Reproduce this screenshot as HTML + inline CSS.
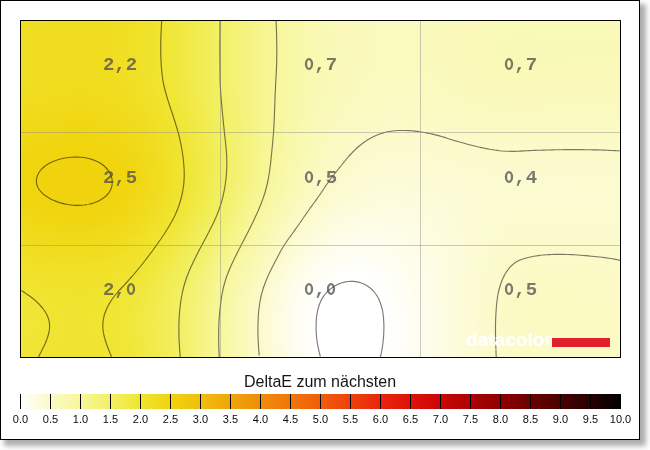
<!DOCTYPE html>
<html><head><meta charset="utf-8"><title>DeltaE</title>
<style>
html,body{margin:0;padding:0;background:#fff;}
body{width:650px;height:450px;overflow:hidden;position:relative;font-family:"Liberation Sans",sans-serif;}
.card{position:absolute;left:0;top:0;width:638px;height:438px;border:1px solid #000;background:#fff;box-shadow:5px 5px 5px 1px rgba(0,0,0,.32);}
.plot{position:absolute;left:20px;top:20px;width:599px;height:336px;border:1px solid #000;overflow:hidden;}
.heat{position:absolute;left:0;top:0;display:block;}
.gv{position:absolute;top:0;width:1px;height:336px;background:rgba(140,140,140,.45);}
.gh{position:absolute;left:0;height:1px;width:599px;background:rgba(140,140,140,.45);}
.n{position:absolute;width:11.4px;height:24px;line-height:24px;text-align:center;font-family:"Liberation Mono",monospace;font-weight:bold;font-size:19px;color:#505050;opacity:.76;}
.z{position:absolute;display:block;}
.nums{position:absolute;left:0;top:0;width:640px;height:360px;will-change:transform;}
.logo{will-change:transform;position:absolute;left:466px;top:329px;font-family:"Liberation Sans",sans-serif;font-weight:bold;font-size:18px;line-height:22px;transform:scaleX(1.06);transform-origin:0 0;color:#fff;text-shadow:0 0 2px rgba(255,255,255,.55);}
.ul{position:absolute;left:467px;top:349px;width:84px;height:1px;background:rgba(255,255,255,.45);}
.red{position:absolute;left:552px;top:338px;width:58px;height:9px;background:#e0202d;}
.title{will-change:transform;position:absolute;left:0;top:372px;width:640px;text-align:center;font-size:16px;line-height:20px;color:#161616;}
.bar{position:absolute;left:20px;top:394px;width:601px;height:15px;background:linear-gradient(to right,#ffffff 0.0%,#fbfac9 5.0%,#f7f79b 10.0%,#f2f064 15.0%,#f0e532 20.0%,#f0d40d 25.0%,#f0be0f 30.0%,#f0a50a 35.0%,#f08c0a 40.0%,#f0760a 45.0%,#f05d0a 50.0%,#ee410c 55.0%,#e8260c 60.0%,#de1208 65.0%,#c80805 70.0%,#ac0202 75.0%,#8e0000 80.0%,#6c0000 85.0%,#4a0000 90.0%,#260000 95.0%,#000000 100.0%);}
.bar i{position:absolute;top:0;width:1px;height:15px;background:#000;}
.lab{will-change:transform;position:absolute;left:20px;top:412px;width:601px;height:14px;}
.lab b{position:absolute;top:0;width:31px;text-align:center;font-weight:normal;font-size:11px;line-height:14px;color:#0c0c0c;}
</style></head><body>
<div class="card"></div>
<div class="plot"><svg class="heat" width="599" height="336" viewBox="0 0 599 336"><defs><linearGradient id="r0"><stop offset="0" stop-color="#f0de23"/><stop offset="0.025" stop-color="#f0dd21"/><stop offset="0.0501" stop-color="#f0dc1f"/><stop offset="0.0751" stop-color="#f0dc1e"/><stop offset="0.1002" stop-color="#f0dc1e"/><stop offset="0.1252" stop-color="#f0dc1e"/><stop offset="0.1503" stop-color="#f0dd20"/><stop offset="0.1753" stop-color="#f0de24"/><stop offset="0.2003" stop-color="#f0e129"/><stop offset="0.2254" stop-color="#f0e42f"/><stop offset="0.2504" stop-color="#f0e739"/><stop offset="0.2755" stop-color="#f1e946"/><stop offset="0.3005" stop-color="#f1ec53"/><stop offset="0.3255" stop-color="#f2ef61"/><stop offset="0.3506" stop-color="#f3f270"/><stop offset="0.3756" stop-color="#f4f37f"/><stop offset="0.4007" stop-color="#f6f58e"/><stop offset="0.4257" stop-color="#f7f79b"/><stop offset="0.4508" stop-color="#f8f8a5"/><stop offset="0.4758" stop-color="#f9f8ad"/><stop offset="0.5008" stop-color="#f9f9b4"/><stop offset="0.5259" stop-color="#faf9b8"/><stop offset="0.5509" stop-color="#faf9bb"/><stop offset="0.576" stop-color="#faf9bd"/><stop offset="0.601" stop-color="#faf9be"/><stop offset="0.626" stop-color="#faf9bf"/><stop offset="0.6511" stop-color="#faf9be"/><stop offset="0.6761" stop-color="#faf9be"/><stop offset="0.7012" stop-color="#faf9bd"/><stop offset="0.7262" stop-color="#faf9bb"/><stop offset="0.7513" stop-color="#faf9ba"/><stop offset="0.7763" stop-color="#faf9b9"/><stop offset="0.8013" stop-color="#faf9b8"/><stop offset="0.8264" stop-color="#faf9b8"/><stop offset="0.8514" stop-color="#faf9b8"/><stop offset="0.8765" stop-color="#faf9b8"/><stop offset="0.9015" stop-color="#faf9b8"/><stop offset="0.9265" stop-color="#faf9b8"/><stop offset="0.9516" stop-color="#faf9b8"/><stop offset="0.9766" stop-color="#faf9b8"/><stop offset="1" stop-color="#faf9b8"/></linearGradient><linearGradient id="r1"><stop offset="0" stop-color="#f0de23"/><stop offset="0.025" stop-color="#f0dd21"/><stop offset="0.0501" stop-color="#f0dc1f"/><stop offset="0.0751" stop-color="#f0dc1e"/><stop offset="0.1002" stop-color="#f0dc1e"/><stop offset="0.1252" stop-color="#f0dc1e"/><stop offset="0.1503" stop-color="#f0dd20"/><stop offset="0.1753" stop-color="#f0de24"/><stop offset="0.2003" stop-color="#f0e129"/><stop offset="0.2254" stop-color="#f0e42f"/><stop offset="0.2504" stop-color="#f0e739"/><stop offset="0.2755" stop-color="#f1e946"/><stop offset="0.3005" stop-color="#f1ec53"/><stop offset="0.3255" stop-color="#f2ef61"/><stop offset="0.3506" stop-color="#f3f270"/><stop offset="0.3756" stop-color="#f4f37f"/><stop offset="0.4007" stop-color="#f6f58e"/><stop offset="0.4257" stop-color="#f7f79b"/><stop offset="0.4508" stop-color="#f8f8a5"/><stop offset="0.4758" stop-color="#f9f8ad"/><stop offset="0.5008" stop-color="#f9f9b4"/><stop offset="0.5259" stop-color="#faf9b8"/><stop offset="0.5509" stop-color="#faf9bb"/><stop offset="0.576" stop-color="#faf9bd"/><stop offset="0.601" stop-color="#faf9be"/><stop offset="0.626" stop-color="#faf9bf"/><stop offset="0.6511" stop-color="#faf9be"/><stop offset="0.6761" stop-color="#faf9be"/><stop offset="0.7012" stop-color="#faf9bc"/><stop offset="0.7262" stop-color="#faf9bb"/><stop offset="0.7513" stop-color="#faf9ba"/><stop offset="0.7763" stop-color="#faf9b9"/><stop offset="0.8013" stop-color="#faf9b8"/><stop offset="0.8264" stop-color="#f9f9b8"/><stop offset="0.8514" stop-color="#faf9b8"/><stop offset="0.8765" stop-color="#faf9b8"/><stop offset="0.9015" stop-color="#faf9b8"/><stop offset="0.9265" stop-color="#faf9b8"/><stop offset="0.9516" stop-color="#faf9b8"/><stop offset="0.9766" stop-color="#faf9b8"/><stop offset="1" stop-color="#faf9b8"/></linearGradient><linearGradient id="r2"><stop offset="0" stop-color="#f0de23"/><stop offset="0.025" stop-color="#f0dd21"/><stop offset="0.0501" stop-color="#f0dc1f"/><stop offset="0.0751" stop-color="#f0dc1e"/><stop offset="0.1002" stop-color="#f0dc1e"/><stop offset="0.1252" stop-color="#f0dc1f"/><stop offset="0.1503" stop-color="#f0dd21"/><stop offset="0.1753" stop-color="#f0de24"/><stop offset="0.2003" stop-color="#f0e129"/><stop offset="0.2254" stop-color="#f0e430"/><stop offset="0.2504" stop-color="#f0e73a"/><stop offset="0.2755" stop-color="#f1e946"/><stop offset="0.3005" stop-color="#f1ec53"/><stop offset="0.3255" stop-color="#f2ef61"/><stop offset="0.3506" stop-color="#f3f270"/><stop offset="0.3756" stop-color="#f4f37f"/><stop offset="0.4007" stop-color="#f6f58e"/><stop offset="0.4257" stop-color="#f7f79b"/><stop offset="0.4508" stop-color="#f8f8a5"/><stop offset="0.4758" stop-color="#f9f8ad"/><stop offset="0.5008" stop-color="#f9f9b3"/><stop offset="0.5259" stop-color="#faf9b8"/><stop offset="0.5509" stop-color="#faf9bb"/><stop offset="0.576" stop-color="#faf9bd"/><stop offset="0.601" stop-color="#faf9be"/><stop offset="0.626" stop-color="#faf9bf"/><stop offset="0.6511" stop-color="#faf9be"/><stop offset="0.6761" stop-color="#faf9bd"/><stop offset="0.7012" stop-color="#faf9bc"/><stop offset="0.7262" stop-color="#faf9bb"/><stop offset="0.7513" stop-color="#faf9ba"/><stop offset="0.7763" stop-color="#faf9b9"/><stop offset="0.8013" stop-color="#faf9b8"/><stop offset="0.8264" stop-color="#f9f9b8"/><stop offset="0.8514" stop-color="#f9f9b8"/><stop offset="0.8765" stop-color="#faf9b8"/><stop offset="0.9015" stop-color="#faf9b8"/><stop offset="0.9265" stop-color="#faf9b8"/><stop offset="0.9516" stop-color="#faf9b8"/><stop offset="0.9766" stop-color="#faf9b8"/><stop offset="1" stop-color="#faf9b8"/></linearGradient><linearGradient id="r3"><stop offset="0" stop-color="#f0de23"/><stop offset="0.025" stop-color="#f0dd21"/><stop offset="0.0501" stop-color="#f0dc1f"/><stop offset="0.0751" stop-color="#f0dc1e"/><stop offset="0.1002" stop-color="#f0dc1e"/><stop offset="0.1252" stop-color="#f0dc1f"/><stop offset="0.1503" stop-color="#f0dd21"/><stop offset="0.1753" stop-color="#f0df24"/><stop offset="0.2003" stop-color="#f0e129"/><stop offset="0.2254" stop-color="#f0e430"/><stop offset="0.2504" stop-color="#f0e73a"/><stop offset="0.2755" stop-color="#f1e946"/><stop offset="0.3005" stop-color="#f1ec53"/><stop offset="0.3255" stop-color="#f2ef61"/><stop offset="0.3506" stop-color="#f3f270"/><stop offset="0.3756" stop-color="#f4f37f"/><stop offset="0.4007" stop-color="#f6f58e"/><stop offset="0.4257" stop-color="#f7f79b"/><stop offset="0.4508" stop-color="#f8f8a5"/><stop offset="0.4758" stop-color="#f9f8ad"/><stop offset="0.5008" stop-color="#f9f9b3"/><stop offset="0.5259" stop-color="#faf9b8"/><stop offset="0.5509" stop-color="#faf9bb"/><stop offset="0.576" stop-color="#faf9bd"/><stop offset="0.601" stop-color="#faf9be"/><stop offset="0.626" stop-color="#faf9be"/><stop offset="0.6511" stop-color="#faf9be"/><stop offset="0.6761" stop-color="#faf9bd"/><stop offset="0.7012" stop-color="#faf9bc"/><stop offset="0.7262" stop-color="#faf9bb"/><stop offset="0.7513" stop-color="#faf9ba"/><stop offset="0.7763" stop-color="#faf9b9"/><stop offset="0.8013" stop-color="#f9f9b8"/><stop offset="0.8264" stop-color="#f9f9b7"/><stop offset="0.8514" stop-color="#f9f9b8"/><stop offset="0.8765" stop-color="#f9f9b8"/><stop offset="0.9015" stop-color="#f9f9b8"/><stop offset="0.9265" stop-color="#f9f9b8"/><stop offset="0.9516" stop-color="#f9f9b8"/><stop offset="0.9766" stop-color="#f9f9b8"/><stop offset="1" stop-color="#f9f9b8"/></linearGradient><linearGradient id="r4"><stop offset="0" stop-color="#f0de23"/><stop offset="0.025" stop-color="#f0dd21"/><stop offset="0.0501" stop-color="#f0dc1f"/><stop offset="0.0751" stop-color="#f0dc1e"/><stop offset="0.1002" stop-color="#f0dc1e"/><stop offset="0.1252" stop-color="#f0dc1f"/><stop offset="0.1503" stop-color="#f0dd21"/><stop offset="0.1753" stop-color="#f0df24"/><stop offset="0.2003" stop-color="#f0e129"/><stop offset="0.2254" stop-color="#f0e430"/><stop offset="0.2504" stop-color="#f0e73a"/><stop offset="0.2755" stop-color="#f1e946"/><stop offset="0.3005" stop-color="#f1ec53"/><stop offset="0.3255" stop-color="#f2ef61"/><stop offset="0.3506" stop-color="#f3f270"/><stop offset="0.3756" stop-color="#f4f37f"/><stop offset="0.4007" stop-color="#f6f58e"/><stop offset="0.4257" stop-color="#f7f79b"/><stop offset="0.4508" stop-color="#f8f8a5"/><stop offset="0.4758" stop-color="#f9f8ad"/><stop offset="0.5008" stop-color="#f9f9b3"/><stop offset="0.5259" stop-color="#f9f9b8"/><stop offset="0.5509" stop-color="#faf9bb"/><stop offset="0.576" stop-color="#faf9bd"/><stop offset="0.601" stop-color="#faf9be"/><stop offset="0.626" stop-color="#faf9be"/><stop offset="0.6511" stop-color="#faf9be"/><stop offset="0.6761" stop-color="#faf9bd"/><stop offset="0.7012" stop-color="#faf9bc"/><stop offset="0.7262" stop-color="#faf9bb"/><stop offset="0.7513" stop-color="#faf9ba"/><stop offset="0.7763" stop-color="#faf9b8"/><stop offset="0.8013" stop-color="#f9f9b8"/><stop offset="0.8264" stop-color="#f9f9b7"/><stop offset="0.8514" stop-color="#f9f9b7"/><stop offset="0.8765" stop-color="#f9f9b8"/><stop offset="0.9015" stop-color="#f9f9b8"/><stop offset="0.9265" stop-color="#f9f9b8"/><stop offset="0.9516" stop-color="#f9f9b8"/><stop offset="0.9766" stop-color="#f9f9b8"/><stop offset="1" stop-color="#f9f9b8"/></linearGradient><linearGradient id="r5"><stop offset="0" stop-color="#f0de23"/><stop offset="0.025" stop-color="#f0dd21"/><stop offset="0.0501" stop-color="#f0dd20"/><stop offset="0.0751" stop-color="#f0dc1e"/><stop offset="0.1002" stop-color="#f0dc1e"/><stop offset="0.1252" stop-color="#f0dc1f"/><stop offset="0.1503" stop-color="#f0dd21"/><stop offset="0.1753" stop-color="#f0df24"/><stop offset="0.2003" stop-color="#f0e129"/><stop offset="0.2254" stop-color="#f0e430"/><stop offset="0.2504" stop-color="#f0e73a"/><stop offset="0.2755" stop-color="#f1e946"/><stop offset="0.3005" stop-color="#f1ec53"/><stop offset="0.3255" stop-color="#f2ef61"/><stop offset="0.3506" stop-color="#f3f270"/><stop offset="0.3756" stop-color="#f4f37f"/><stop offset="0.4007" stop-color="#f6f58e"/><stop offset="0.4257" stop-color="#f7f79b"/><stop offset="0.4508" stop-color="#f8f8a5"/><stop offset="0.4758" stop-color="#f9f8ad"/><stop offset="0.5008" stop-color="#f9f9b3"/><stop offset="0.5259" stop-color="#f9f9b8"/><stop offset="0.5509" stop-color="#faf9bb"/><stop offset="0.576" stop-color="#faf9bd"/><stop offset="0.601" stop-color="#faf9be"/><stop offset="0.626" stop-color="#faf9be"/><stop offset="0.6511" stop-color="#faf9be"/><stop offset="0.6761" stop-color="#faf9bd"/><stop offset="0.7012" stop-color="#faf9bc"/><stop offset="0.7262" stop-color="#faf9bb"/><stop offset="0.7513" stop-color="#faf9b9"/><stop offset="0.7763" stop-color="#faf9b8"/><stop offset="0.8013" stop-color="#f9f9b8"/><stop offset="0.8264" stop-color="#f9f9b7"/><stop offset="0.8514" stop-color="#f9f9b7"/><stop offset="0.8765" stop-color="#f9f9b7"/><stop offset="0.9015" stop-color="#f9f9b8"/><stop offset="0.9265" stop-color="#f9f9b8"/><stop offset="0.9516" stop-color="#f9f9b8"/><stop offset="0.9766" stop-color="#f9f9b8"/><stop offset="1" stop-color="#f9f9b7"/></linearGradient><linearGradient id="r6"><stop offset="0" stop-color="#f0de23"/><stop offset="0.025" stop-color="#f0dd21"/><stop offset="0.0501" stop-color="#f0dd20"/><stop offset="0.0751" stop-color="#f0dc1f"/><stop offset="0.1002" stop-color="#f0dc1e"/><stop offset="0.1252" stop-color="#f0dc1f"/><stop offset="0.1503" stop-color="#f0dd21"/><stop offset="0.1753" stop-color="#f0df24"/><stop offset="0.2003" stop-color="#f0e129"/><stop offset="0.2254" stop-color="#f0e430"/><stop offset="0.2504" stop-color="#f0e73a"/><stop offset="0.2755" stop-color="#f1e946"/><stop offset="0.3005" stop-color="#f1ec53"/><stop offset="0.3255" stop-color="#f2ef61"/><stop offset="0.3506" stop-color="#f3f270"/><stop offset="0.3756" stop-color="#f4f37f"/><stop offset="0.4007" stop-color="#f6f58d"/><stop offset="0.4257" stop-color="#f7f79b"/><stop offset="0.4508" stop-color="#f8f8a5"/><stop offset="0.4758" stop-color="#f9f8ad"/><stop offset="0.5008" stop-color="#f9f9b3"/><stop offset="0.5259" stop-color="#f9f9b8"/><stop offset="0.5509" stop-color="#faf9bb"/><stop offset="0.576" stop-color="#faf9bd"/><stop offset="0.601" stop-color="#faf9be"/><stop offset="0.626" stop-color="#faf9be"/><stop offset="0.6511" stop-color="#faf9be"/><stop offset="0.6761" stop-color="#faf9bd"/><stop offset="0.7012" stop-color="#faf9bc"/><stop offset="0.7262" stop-color="#faf9bb"/><stop offset="0.7513" stop-color="#faf9b9"/><stop offset="0.7763" stop-color="#faf9b8"/><stop offset="0.8013" stop-color="#f9f9b7"/><stop offset="0.8264" stop-color="#f9f9b7"/><stop offset="0.8514" stop-color="#f9f9b7"/><stop offset="0.8765" stop-color="#f9f9b7"/><stop offset="0.9015" stop-color="#f9f9b7"/><stop offset="0.9265" stop-color="#f9f9b7"/><stop offset="0.9516" stop-color="#f9f9b7"/><stop offset="0.9766" stop-color="#f9f9b7"/><stop offset="1" stop-color="#f9f9b7"/></linearGradient><linearGradient id="r7"><stop offset="0" stop-color="#f0de23"/><stop offset="0.025" stop-color="#f0dd21"/><stop offset="0.0501" stop-color="#f0dd20"/><stop offset="0.0751" stop-color="#f0dc1f"/><stop offset="0.1002" stop-color="#f0dc1e"/><stop offset="0.1252" stop-color="#f0dc1f"/><stop offset="0.1503" stop-color="#f0dd21"/><stop offset="0.1753" stop-color="#f0df24"/><stop offset="0.2003" stop-color="#f0e129"/><stop offset="0.2254" stop-color="#f0e430"/><stop offset="0.2504" stop-color="#f0e73a"/><stop offset="0.2755" stop-color="#f1e946"/><stop offset="0.3005" stop-color="#f1ec53"/><stop offset="0.3255" stop-color="#f2ef61"/><stop offset="0.3506" stop-color="#f3f270"/><stop offset="0.3756" stop-color="#f4f37f"/><stop offset="0.4007" stop-color="#f6f58d"/><stop offset="0.4257" stop-color="#f7f79b"/><stop offset="0.4508" stop-color="#f8f8a5"/><stop offset="0.4758" stop-color="#f9f8ad"/><stop offset="0.5008" stop-color="#f9f9b3"/><stop offset="0.5259" stop-color="#f9f9b8"/><stop offset="0.5509" stop-color="#faf9bb"/><stop offset="0.576" stop-color="#faf9bd"/><stop offset="0.601" stop-color="#faf9be"/><stop offset="0.626" stop-color="#faf9be"/><stop offset="0.6511" stop-color="#faf9be"/><stop offset="0.6761" stop-color="#faf9bd"/><stop offset="0.7012" stop-color="#faf9bc"/><stop offset="0.7262" stop-color="#faf9bb"/><stop offset="0.7513" stop-color="#faf9b9"/><stop offset="0.7763" stop-color="#faf9b8"/><stop offset="0.8013" stop-color="#f9f9b7"/><stop offset="0.8264" stop-color="#f9f9b7"/><stop offset="0.8514" stop-color="#f9f9b7"/><stop offset="0.8765" stop-color="#f9f9b7"/><stop offset="0.9015" stop-color="#f9f9b7"/><stop offset="0.9265" stop-color="#f9f9b7"/><stop offset="0.9516" stop-color="#f9f9b7"/><stop offset="0.9766" stop-color="#f9f9b7"/><stop offset="1" stop-color="#f9f9b7"/></linearGradient><linearGradient id="r8"><stop offset="0" stop-color="#f0de24"/><stop offset="0.025" stop-color="#f0dd21"/><stop offset="0.0501" stop-color="#f0dd20"/><stop offset="0.0751" stop-color="#f0dc1f"/><stop offset="0.1002" stop-color="#f0dc1e"/><stop offset="0.1252" stop-color="#f0dc1f"/><stop offset="0.1503" stop-color="#f0dd21"/><stop offset="0.1753" stop-color="#f0df24"/><stop offset="0.2003" stop-color="#f0e129"/><stop offset="0.2254" stop-color="#f0e430"/><stop offset="0.2504" stop-color="#f0e73a"/><stop offset="0.2755" stop-color="#f1e946"/><stop offset="0.3005" stop-color="#f1ec53"/><stop offset="0.3255" stop-color="#f2ef61"/><stop offset="0.3506" stop-color="#f3f270"/><stop offset="0.3756" stop-color="#f4f37f"/><stop offset="0.4007" stop-color="#f6f58d"/><stop offset="0.4257" stop-color="#f7f79b"/><stop offset="0.4508" stop-color="#f8f8a5"/><stop offset="0.4758" stop-color="#f9f8ad"/><stop offset="0.5008" stop-color="#f9f9b3"/><stop offset="0.5259" stop-color="#f9f9b8"/><stop offset="0.5509" stop-color="#faf9bb"/><stop offset="0.576" stop-color="#faf9bd"/><stop offset="0.601" stop-color="#faf9be"/><stop offset="0.626" stop-color="#faf9be"/><stop offset="0.6511" stop-color="#faf9be"/><stop offset="0.6761" stop-color="#faf9bd"/><stop offset="0.7012" stop-color="#faf9bc"/><stop offset="0.7262" stop-color="#faf9bb"/><stop offset="0.7513" stop-color="#faf9b9"/><stop offset="0.7763" stop-color="#faf9b8"/><stop offset="0.8013" stop-color="#f9f9b7"/><stop offset="0.8264" stop-color="#f9f9b7"/><stop offset="0.8514" stop-color="#f9f9b7"/><stop offset="0.8765" stop-color="#f9f9b7"/><stop offset="0.9015" stop-color="#f9f9b7"/><stop offset="0.9265" stop-color="#f9f9b7"/><stop offset="0.9516" stop-color="#f9f9b7"/><stop offset="0.9766" stop-color="#f9f9b7"/><stop offset="1" stop-color="#f9f9b7"/></linearGradient><linearGradient id="r9"><stop offset="0" stop-color="#f0de24"/><stop offset="0.025" stop-color="#f0dd21"/><stop offset="0.0501" stop-color="#f0dd20"/><stop offset="0.0751" stop-color="#f0dc1f"/><stop offset="0.1002" stop-color="#f0dc1e"/><stop offset="0.1252" stop-color="#f0dc1f"/><stop offset="0.1503" stop-color="#f0dd21"/><stop offset="0.1753" stop-color="#f0df24"/><stop offset="0.2003" stop-color="#f0e129"/><stop offset="0.2254" stop-color="#f0e430"/><stop offset="0.2504" stop-color="#f0e73a"/><stop offset="0.2755" stop-color="#f1e946"/><stop offset="0.3005" stop-color="#f1ec53"/><stop offset="0.3255" stop-color="#f2ef61"/><stop offset="0.3506" stop-color="#f3f270"/><stop offset="0.3756" stop-color="#f4f37f"/><stop offset="0.4007" stop-color="#f6f58d"/><stop offset="0.4257" stop-color="#f7f79b"/><stop offset="0.4508" stop-color="#f8f8a5"/><stop offset="0.4758" stop-color="#f9f8ad"/><stop offset="0.5008" stop-color="#f9f9b3"/><stop offset="0.5259" stop-color="#f9f9b8"/><stop offset="0.5509" stop-color="#faf9bb"/><stop offset="0.576" stop-color="#faf9bd"/><stop offset="0.601" stop-color="#faf9be"/><stop offset="0.626" stop-color="#faf9be"/><stop offset="0.6511" stop-color="#faf9be"/><stop offset="0.6761" stop-color="#faf9bd"/><stop offset="0.7012" stop-color="#faf9bc"/><stop offset="0.7262" stop-color="#faf9bb"/><stop offset="0.7513" stop-color="#faf9b9"/><stop offset="0.7763" stop-color="#faf9b8"/><stop offset="0.8013" stop-color="#f9f9b7"/><stop offset="0.8264" stop-color="#f9f9b7"/><stop offset="0.8514" stop-color="#f9f9b7"/><stop offset="0.8765" stop-color="#f9f9b7"/><stop offset="0.9015" stop-color="#f9f9b7"/><stop offset="0.9265" stop-color="#f9f9b7"/><stop offset="0.9516" stop-color="#f9f9b7"/><stop offset="0.9766" stop-color="#f9f9b7"/><stop offset="1" stop-color="#f9f9b7"/></linearGradient><linearGradient id="r10"><stop offset="0" stop-color="#f0de24"/><stop offset="0.025" stop-color="#f0dd21"/><stop offset="0.0501" stop-color="#f0dd20"/><stop offset="0.0751" stop-color="#f0dc1f"/><stop offset="0.1002" stop-color="#f0dc1e"/><stop offset="0.1252" stop-color="#f0dc1f"/><stop offset="0.1503" stop-color="#f0dd21"/><stop offset="0.1753" stop-color="#f0df24"/><stop offset="0.2003" stop-color="#f0e129"/><stop offset="0.2254" stop-color="#f0e430"/><stop offset="0.2504" stop-color="#f0e73a"/><stop offset="0.2755" stop-color="#f1e946"/><stop offset="0.3005" stop-color="#f1ec53"/><stop offset="0.3255" stop-color="#f2ef61"/><stop offset="0.3506" stop-color="#f3f270"/><stop offset="0.3756" stop-color="#f4f37f"/><stop offset="0.4007" stop-color="#f6f58d"/><stop offset="0.4257" stop-color="#f7f79b"/><stop offset="0.4508" stop-color="#f8f8a5"/><stop offset="0.4758" stop-color="#f9f8ad"/><stop offset="0.5008" stop-color="#f9f9b3"/><stop offset="0.5259" stop-color="#f9f9b8"/><stop offset="0.5509" stop-color="#faf9bb"/><stop offset="0.576" stop-color="#faf9bd"/><stop offset="0.601" stop-color="#faf9be"/><stop offset="0.626" stop-color="#faf9be"/><stop offset="0.6511" stop-color="#faf9be"/><stop offset="0.6761" stop-color="#faf9bd"/><stop offset="0.7012" stop-color="#faf9bc"/><stop offset="0.7262" stop-color="#faf9bb"/><stop offset="0.7513" stop-color="#faf9b9"/><stop offset="0.7763" stop-color="#faf9b8"/><stop offset="0.8013" stop-color="#f9f9b7"/><stop offset="0.8264" stop-color="#f9f9b7"/><stop offset="0.8514" stop-color="#f9f9b7"/><stop offset="0.8765" stop-color="#f9f9b7"/><stop offset="0.9015" stop-color="#f9f9b7"/><stop offset="0.9265" stop-color="#f9f9b7"/><stop offset="0.9516" stop-color="#f9f9b7"/><stop offset="0.9766" stop-color="#f9f9b7"/><stop offset="1" stop-color="#f9f9b7"/></linearGradient><linearGradient id="r11"><stop offset="0" stop-color="#f0de24"/><stop offset="0.025" stop-color="#f0dd21"/><stop offset="0.0501" stop-color="#f0dd20"/><stop offset="0.0751" stop-color="#f0dc1f"/><stop offset="0.1002" stop-color="#f0dc1e"/><stop offset="0.1252" stop-color="#f0dc1f"/><stop offset="0.1503" stop-color="#f0dd21"/><stop offset="0.1753" stop-color="#f0df24"/><stop offset="0.2003" stop-color="#f0e129"/><stop offset="0.2254" stop-color="#f0e430"/><stop offset="0.2504" stop-color="#f0e73a"/><stop offset="0.2755" stop-color="#f1e946"/><stop offset="0.3005" stop-color="#f1ec53"/><stop offset="0.3255" stop-color="#f2ef61"/><stop offset="0.3506" stop-color="#f3f270"/><stop offset="0.3756" stop-color="#f4f37f"/><stop offset="0.4007" stop-color="#f6f58d"/><stop offset="0.4257" stop-color="#f7f79b"/><stop offset="0.4508" stop-color="#f8f8a5"/><stop offset="0.4758" stop-color="#f9f8ad"/><stop offset="0.5008" stop-color="#f9f9b3"/><stop offset="0.5259" stop-color="#f9f9b8"/><stop offset="0.5509" stop-color="#faf9bb"/><stop offset="0.576" stop-color="#faf9bd"/><stop offset="0.601" stop-color="#faf9be"/><stop offset="0.626" stop-color="#faf9be"/><stop offset="0.6511" stop-color="#faf9be"/><stop offset="0.6761" stop-color="#faf9bd"/><stop offset="0.7012" stop-color="#faf9bc"/><stop offset="0.7262" stop-color="#faf9bb"/><stop offset="0.7513" stop-color="#faf9b9"/><stop offset="0.7763" stop-color="#faf9b8"/><stop offset="0.8013" stop-color="#f9f9b7"/><stop offset="0.8264" stop-color="#f9f9b7"/><stop offset="0.8514" stop-color="#f9f9b7"/><stop offset="0.8765" stop-color="#f9f9b7"/><stop offset="0.9015" stop-color="#f9f9b7"/><stop offset="0.9265" stop-color="#f9f9b7"/><stop offset="0.9516" stop-color="#f9f9b7"/><stop offset="0.9766" stop-color="#f9f9b7"/><stop offset="1" stop-color="#f9f9b7"/></linearGradient><linearGradient id="r12"><stop offset="0" stop-color="#f0de23"/><stop offset="0.025" stop-color="#f0dd21"/><stop offset="0.0501" stop-color="#f0dd20"/><stop offset="0.0751" stop-color="#f0dc1f"/><stop offset="0.1002" stop-color="#f0dc1e"/><stop offset="0.1252" stop-color="#f0dc1f"/><stop offset="0.1503" stop-color="#f0dd21"/><stop offset="0.1753" stop-color="#f0df24"/><stop offset="0.2003" stop-color="#f0e129"/><stop offset="0.2254" stop-color="#f0e430"/><stop offset="0.2504" stop-color="#f0e73a"/><stop offset="0.2755" stop-color="#f1e946"/><stop offset="0.3005" stop-color="#f1ec53"/><stop offset="0.3255" stop-color="#f2ef61"/><stop offset="0.3506" stop-color="#f3f270"/><stop offset="0.3756" stop-color="#f4f37f"/><stop offset="0.4007" stop-color="#f6f58d"/><stop offset="0.4257" stop-color="#f7f79b"/><stop offset="0.4508" stop-color="#f8f8a5"/><stop offset="0.4758" stop-color="#f9f8ad"/><stop offset="0.5008" stop-color="#f9f9b3"/><stop offset="0.5259" stop-color="#f9f9b8"/><stop offset="0.5509" stop-color="#faf9bb"/><stop offset="0.576" stop-color="#faf9bd"/><stop offset="0.601" stop-color="#faf9be"/><stop offset="0.626" stop-color="#faf9be"/><stop offset="0.6511" stop-color="#faf9be"/><stop offset="0.6761" stop-color="#faf9bd"/><stop offset="0.7012" stop-color="#faf9bc"/><stop offset="0.7262" stop-color="#faf9bb"/><stop offset="0.7513" stop-color="#faf9b9"/><stop offset="0.7763" stop-color="#faf9b8"/><stop offset="0.8013" stop-color="#f9f9b7"/><stop offset="0.8264" stop-color="#f9f9b7"/><stop offset="0.8514" stop-color="#f9f9b7"/><stop offset="0.8765" stop-color="#f9f9b7"/><stop offset="0.9015" stop-color="#f9f9b7"/><stop offset="0.9265" stop-color="#f9f9b7"/><stop offset="0.9516" stop-color="#f9f9b7"/><stop offset="0.9766" stop-color="#f9f9b7"/><stop offset="1" stop-color="#f9f9b7"/></linearGradient><linearGradient id="r13"><stop offset="0" stop-color="#f0de23"/><stop offset="0.025" stop-color="#f0dd21"/><stop offset="0.0501" stop-color="#f0dd20"/><stop offset="0.0751" stop-color="#f0dc1f"/><stop offset="0.1002" stop-color="#f0dc1e"/><stop offset="0.1252" stop-color="#f0dc1f"/><stop offset="0.1503" stop-color="#f0dd21"/><stop offset="0.1753" stop-color="#f0df24"/><stop offset="0.2003" stop-color="#f0e129"/><stop offset="0.2254" stop-color="#f0e430"/><stop offset="0.2504" stop-color="#f0e73a"/><stop offset="0.2755" stop-color="#f1e946"/><stop offset="0.3005" stop-color="#f1ec53"/><stop offset="0.3255" stop-color="#f2ef61"/><stop offset="0.3506" stop-color="#f3f270"/><stop offset="0.3756" stop-color="#f4f37f"/><stop offset="0.4007" stop-color="#f6f58e"/><stop offset="0.4257" stop-color="#f7f79b"/><stop offset="0.4508" stop-color="#f8f8a5"/><stop offset="0.4758" stop-color="#f9f8ad"/><stop offset="0.5008" stop-color="#f9f9b3"/><stop offset="0.5259" stop-color="#f9f9b8"/><stop offset="0.5509" stop-color="#faf9bb"/><stop offset="0.576" stop-color="#faf9bd"/><stop offset="0.601" stop-color="#faf9be"/><stop offset="0.626" stop-color="#faf9be"/><stop offset="0.6511" stop-color="#faf9be"/><stop offset="0.6761" stop-color="#faf9bd"/><stop offset="0.7012" stop-color="#faf9bc"/><stop offset="0.7262" stop-color="#faf9bb"/><stop offset="0.7513" stop-color="#faf9b9"/><stop offset="0.7763" stop-color="#faf9b8"/><stop offset="0.8013" stop-color="#f9f9b8"/><stop offset="0.8264" stop-color="#f9f9b7"/><stop offset="0.8514" stop-color="#f9f9b7"/><stop offset="0.8765" stop-color="#f9f9b7"/><stop offset="0.9015" stop-color="#f9f9b7"/><stop offset="0.9265" stop-color="#f9f9b8"/><stop offset="0.9516" stop-color="#f9f9b8"/><stop offset="0.9766" stop-color="#f9f9b8"/><stop offset="1" stop-color="#f9f9b8"/></linearGradient><linearGradient id="r14"><stop offset="0" stop-color="#f0de23"/><stop offset="0.025" stop-color="#f0dd21"/><stop offset="0.0501" stop-color="#f0dd20"/><stop offset="0.0751" stop-color="#f0dc1f"/><stop offset="0.1002" stop-color="#f0dc1e"/><stop offset="0.1252" stop-color="#f0dc1f"/><stop offset="0.1503" stop-color="#f0dd21"/><stop offset="0.1753" stop-color="#f0df24"/><stop offset="0.2003" stop-color="#f0e129"/><stop offset="0.2254" stop-color="#f0e430"/><stop offset="0.2504" stop-color="#f0e73a"/><stop offset="0.2755" stop-color="#f1e946"/><stop offset="0.3005" stop-color="#f1ec53"/><stop offset="0.3255" stop-color="#f2ef61"/><stop offset="0.3506" stop-color="#f3f270"/><stop offset="0.3756" stop-color="#f4f37f"/><stop offset="0.4007" stop-color="#f6f58e"/><stop offset="0.4257" stop-color="#f7f79b"/><stop offset="0.4508" stop-color="#f8f8a5"/><stop offset="0.4758" stop-color="#f9f8ad"/><stop offset="0.5008" stop-color="#f9f9b3"/><stop offset="0.5259" stop-color="#faf9b8"/><stop offset="0.5509" stop-color="#faf9bb"/><stop offset="0.576" stop-color="#faf9bd"/><stop offset="0.601" stop-color="#faf9be"/><stop offset="0.626" stop-color="#faf9be"/><stop offset="0.6511" stop-color="#faf9be"/><stop offset="0.6761" stop-color="#faf9bd"/><stop offset="0.7012" stop-color="#faf9bc"/><stop offset="0.7262" stop-color="#faf9bb"/><stop offset="0.7513" stop-color="#faf9ba"/><stop offset="0.7763" stop-color="#faf9b8"/><stop offset="0.8013" stop-color="#f9f9b8"/><stop offset="0.8264" stop-color="#f9f9b7"/><stop offset="0.8514" stop-color="#f9f9b7"/><stop offset="0.8765" stop-color="#f9f9b8"/><stop offset="0.9015" stop-color="#f9f9b8"/><stop offset="0.9265" stop-color="#f9f9b8"/><stop offset="0.9516" stop-color="#f9f9b8"/><stop offset="0.9766" stop-color="#f9f9b8"/><stop offset="1" stop-color="#f9f9b8"/></linearGradient><linearGradient id="r15"><stop offset="0" stop-color="#f0de23"/><stop offset="0.025" stop-color="#f0dd21"/><stop offset="0.0501" stop-color="#f0dd20"/><stop offset="0.0751" stop-color="#f0dc1e"/><stop offset="0.1002" stop-color="#f0dc1e"/><stop offset="0.1252" stop-color="#f0dc1f"/><stop offset="0.1503" stop-color="#f0dd21"/><stop offset="0.1753" stop-color="#f0df24"/><stop offset="0.2003" stop-color="#f0e129"/><stop offset="0.2254" stop-color="#f0e430"/><stop offset="0.2504" stop-color="#f0e739"/><stop offset="0.2755" stop-color="#f1e946"/><stop offset="0.3005" stop-color="#f1ec53"/><stop offset="0.3255" stop-color="#f2ef61"/><stop offset="0.3506" stop-color="#f3f270"/><stop offset="0.3756" stop-color="#f4f37f"/><stop offset="0.4007" stop-color="#f6f58e"/><stop offset="0.4257" stop-color="#f7f79b"/><stop offset="0.4508" stop-color="#f8f8a5"/><stop offset="0.4758" stop-color="#f9f8ad"/><stop offset="0.5008" stop-color="#f9f9b3"/><stop offset="0.5259" stop-color="#faf9b8"/><stop offset="0.5509" stop-color="#faf9bb"/><stop offset="0.576" stop-color="#faf9bd"/><stop offset="0.601" stop-color="#faf9be"/><stop offset="0.626" stop-color="#faf9bf"/><stop offset="0.6511" stop-color="#faf9be"/><stop offset="0.6761" stop-color="#faf9bd"/><stop offset="0.7012" stop-color="#faf9bc"/><stop offset="0.7262" stop-color="#faf9bb"/><stop offset="0.7513" stop-color="#faf9ba"/><stop offset="0.7763" stop-color="#faf9b9"/><stop offset="0.8013" stop-color="#faf9b8"/><stop offset="0.8264" stop-color="#f9f9b7"/><stop offset="0.8514" stop-color="#f9f9b8"/><stop offset="0.8765" stop-color="#f9f9b8"/><stop offset="0.9015" stop-color="#faf9b8"/><stop offset="0.9265" stop-color="#faf9b8"/><stop offset="0.9516" stop-color="#faf9b8"/><stop offset="0.9766" stop-color="#faf9b8"/><stop offset="1" stop-color="#faf9b8"/></linearGradient><linearGradient id="r16"><stop offset="0" stop-color="#f0de23"/><stop offset="0.025" stop-color="#f0dd21"/><stop offset="0.0501" stop-color="#f0dc1f"/><stop offset="0.0751" stop-color="#f0dc1e"/><stop offset="0.1002" stop-color="#f0dc1e"/><stop offset="0.1252" stop-color="#f0dc1f"/><stop offset="0.1503" stop-color="#f0dd21"/><stop offset="0.1753" stop-color="#f0de24"/><stop offset="0.2003" stop-color="#f0e129"/><stop offset="0.2254" stop-color="#f0e42f"/><stop offset="0.2504" stop-color="#f0e739"/><stop offset="0.2755" stop-color="#f1e945"/><stop offset="0.3005" stop-color="#f1ec53"/><stop offset="0.3255" stop-color="#f2ef61"/><stop offset="0.3506" stop-color="#f3f270"/><stop offset="0.3756" stop-color="#f4f37f"/><stop offset="0.4007" stop-color="#f6f58e"/><stop offset="0.4257" stop-color="#f7f79b"/><stop offset="0.4508" stop-color="#f8f8a5"/><stop offset="0.4758" stop-color="#f9f8ad"/><stop offset="0.5008" stop-color="#f9f9b4"/><stop offset="0.5259" stop-color="#faf9b8"/><stop offset="0.5509" stop-color="#faf9bb"/><stop offset="0.576" stop-color="#faf9bd"/><stop offset="0.601" stop-color="#faf9bf"/><stop offset="0.626" stop-color="#faf9bf"/><stop offset="0.6511" stop-color="#faf9be"/><stop offset="0.6761" stop-color="#faf9be"/><stop offset="0.7012" stop-color="#faf9bd"/><stop offset="0.7262" stop-color="#faf9bb"/><stop offset="0.7513" stop-color="#faf9ba"/><stop offset="0.7763" stop-color="#faf9b9"/><stop offset="0.8013" stop-color="#faf9b8"/><stop offset="0.8264" stop-color="#f9f9b8"/><stop offset="0.8514" stop-color="#faf9b8"/><stop offset="0.8765" stop-color="#faf9b8"/><stop offset="0.9015" stop-color="#faf9b8"/><stop offset="0.9265" stop-color="#faf9b8"/><stop offset="0.9516" stop-color="#faf9b8"/><stop offset="0.9766" stop-color="#faf9b8"/><stop offset="1" stop-color="#faf9b8"/></linearGradient><linearGradient id="r17"><stop offset="0" stop-color="#f0de23"/><stop offset="0.025" stop-color="#f0dd21"/><stop offset="0.0501" stop-color="#f0dc1f"/><stop offset="0.0751" stop-color="#f0dc1e"/><stop offset="0.1002" stop-color="#f0dc1e"/><stop offset="0.1252" stop-color="#f0dc1f"/><stop offset="0.1503" stop-color="#f0dd20"/><stop offset="0.1753" stop-color="#f0de24"/><stop offset="0.2003" stop-color="#f0e129"/><stop offset="0.2254" stop-color="#f0e42f"/><stop offset="0.2504" stop-color="#f0e739"/><stop offset="0.2755" stop-color="#f1e945"/><stop offset="0.3005" stop-color="#f1ec53"/><stop offset="0.3255" stop-color="#f2ef61"/><stop offset="0.3506" stop-color="#f3f270"/><stop offset="0.3756" stop-color="#f4f37f"/><stop offset="0.4007" stop-color="#f6f58e"/><stop offset="0.4257" stop-color="#f7f79b"/><stop offset="0.4508" stop-color="#f8f8a5"/><stop offset="0.4758" stop-color="#f9f8ae"/><stop offset="0.5008" stop-color="#f9f9b4"/><stop offset="0.5259" stop-color="#faf9b8"/><stop offset="0.5509" stop-color="#faf9bc"/><stop offset="0.576" stop-color="#faf9be"/><stop offset="0.601" stop-color="#faf9bf"/><stop offset="0.626" stop-color="#faf9bf"/><stop offset="0.6511" stop-color="#faf9bf"/><stop offset="0.6761" stop-color="#faf9be"/><stop offset="0.7012" stop-color="#faf9bd"/><stop offset="0.7262" stop-color="#faf9bb"/><stop offset="0.7513" stop-color="#faf9ba"/><stop offset="0.7763" stop-color="#faf9b9"/><stop offset="0.8013" stop-color="#faf9b8"/><stop offset="0.8264" stop-color="#faf9b8"/><stop offset="0.8514" stop-color="#faf9b8"/><stop offset="0.8765" stop-color="#faf9b8"/><stop offset="0.9015" stop-color="#faf9b8"/><stop offset="0.9265" stop-color="#faf9b8"/><stop offset="0.9516" stop-color="#faf9b8"/><stop offset="0.9766" stop-color="#faf9b8"/><stop offset="1" stop-color="#faf9b8"/></linearGradient><linearGradient id="r18"><stop offset="0" stop-color="#f0de23"/><stop offset="0.025" stop-color="#f0dd21"/><stop offset="0.0501" stop-color="#f0dc1f"/><stop offset="0.0751" stop-color="#f0dc1e"/><stop offset="0.1002" stop-color="#f0dc1e"/><stop offset="0.1252" stop-color="#f0dc1e"/><stop offset="0.1503" stop-color="#f0dd20"/><stop offset="0.1753" stop-color="#f0de23"/><stop offset="0.2003" stop-color="#f0e128"/><stop offset="0.2254" stop-color="#f0e42f"/><stop offset="0.2504" stop-color="#f0e639"/><stop offset="0.2755" stop-color="#f1e945"/><stop offset="0.3005" stop-color="#f1ec53"/><stop offset="0.3255" stop-color="#f2ef61"/><stop offset="0.3506" stop-color="#f3f270"/><stop offset="0.3756" stop-color="#f4f37f"/><stop offset="0.4007" stop-color="#f6f58e"/><stop offset="0.4257" stop-color="#f7f79b"/><stop offset="0.4508" stop-color="#f8f8a5"/><stop offset="0.4758" stop-color="#f9f8ae"/><stop offset="0.5008" stop-color="#f9f9b4"/><stop offset="0.5259" stop-color="#faf9b9"/><stop offset="0.5509" stop-color="#faf9bc"/><stop offset="0.576" stop-color="#faf9be"/><stop offset="0.601" stop-color="#faf9bf"/><stop offset="0.626" stop-color="#faf9bf"/><stop offset="0.6511" stop-color="#faf9bf"/><stop offset="0.6761" stop-color="#faf9be"/><stop offset="0.7012" stop-color="#faf9bd"/><stop offset="0.7262" stop-color="#faf9bc"/><stop offset="0.7513" stop-color="#faf9ba"/><stop offset="0.7763" stop-color="#faf9b9"/><stop offset="0.8013" stop-color="#faf9b8"/><stop offset="0.8264" stop-color="#faf9b8"/><stop offset="0.8514" stop-color="#faf9b8"/><stop offset="0.8765" stop-color="#faf9b8"/><stop offset="0.9015" stop-color="#faf9b8"/><stop offset="0.9265" stop-color="#faf9b8"/><stop offset="0.9516" stop-color="#faf9b8"/><stop offset="0.9766" stop-color="#faf9b8"/><stop offset="1" stop-color="#faf9b8"/></linearGradient><linearGradient id="r19"><stop offset="0" stop-color="#f0de22"/><stop offset="0.025" stop-color="#f0dd20"/><stop offset="0.0501" stop-color="#f0dc1f"/><stop offset="0.0751" stop-color="#f0dc1e"/><stop offset="0.1002" stop-color="#f0dc1e"/><stop offset="0.1252" stop-color="#f0dc1e"/><stop offset="0.1503" stop-color="#f0dd20"/><stop offset="0.1753" stop-color="#f0de23"/><stop offset="0.2003" stop-color="#f0e028"/><stop offset="0.2254" stop-color="#f0e42f"/><stop offset="0.2504" stop-color="#f0e639"/><stop offset="0.2755" stop-color="#f1e945"/><stop offset="0.3005" stop-color="#f1ec52"/><stop offset="0.3255" stop-color="#f2ef61"/><stop offset="0.3506" stop-color="#f3f270"/><stop offset="0.3756" stop-color="#f4f37f"/><stop offset="0.4007" stop-color="#f6f58e"/><stop offset="0.4257" stop-color="#f7f79b"/><stop offset="0.4508" stop-color="#f8f8a6"/><stop offset="0.4758" stop-color="#f9f8ae"/><stop offset="0.5008" stop-color="#f9f9b4"/><stop offset="0.5259" stop-color="#faf9b9"/><stop offset="0.5509" stop-color="#faf9bc"/><stop offset="0.576" stop-color="#faf9be"/><stop offset="0.601" stop-color="#faf9bf"/><stop offset="0.626" stop-color="#faf9c0"/><stop offset="0.6511" stop-color="#faf9bf"/><stop offset="0.6761" stop-color="#faf9be"/><stop offset="0.7012" stop-color="#faf9bd"/><stop offset="0.7262" stop-color="#faf9bc"/><stop offset="0.7513" stop-color="#faf9bb"/><stop offset="0.7763" stop-color="#faf9ba"/><stop offset="0.8013" stop-color="#faf9b9"/><stop offset="0.8264" stop-color="#faf9b8"/><stop offset="0.8514" stop-color="#faf9b9"/><stop offset="0.8765" stop-color="#faf9b9"/><stop offset="0.9015" stop-color="#faf9b9"/><stop offset="0.9265" stop-color="#faf9b9"/><stop offset="0.9516" stop-color="#faf9b9"/><stop offset="0.9766" stop-color="#faf9b9"/><stop offset="1" stop-color="#faf9b9"/></linearGradient><linearGradient id="r20"><stop offset="0" stop-color="#f0de22"/><stop offset="0.025" stop-color="#f0dd20"/><stop offset="0.0501" stop-color="#f0dc1e"/><stop offset="0.0751" stop-color="#f0dc1d"/><stop offset="0.1002" stop-color="#f0db1d"/><stop offset="0.1252" stop-color="#f0dc1e"/><stop offset="0.1503" stop-color="#f0dd20"/><stop offset="0.1753" stop-color="#f0de23"/><stop offset="0.2003" stop-color="#f0e028"/><stop offset="0.2254" stop-color="#f0e32e"/><stop offset="0.2504" stop-color="#f0e638"/><stop offset="0.2755" stop-color="#f1e945"/><stop offset="0.3005" stop-color="#f1ec52"/><stop offset="0.3255" stop-color="#f2ef60"/><stop offset="0.3506" stop-color="#f3f270"/><stop offset="0.3756" stop-color="#f4f37f"/><stop offset="0.4007" stop-color="#f6f58e"/><stop offset="0.4257" stop-color="#f7f79c"/><stop offset="0.4508" stop-color="#f8f8a6"/><stop offset="0.4758" stop-color="#f9f8ae"/><stop offset="0.5008" stop-color="#f9f9b5"/><stop offset="0.5259" stop-color="#faf9b9"/><stop offset="0.5509" stop-color="#faf9bc"/><stop offset="0.576" stop-color="#faf9bf"/><stop offset="0.601" stop-color="#faf9c0"/><stop offset="0.626" stop-color="#faf9c0"/><stop offset="0.6511" stop-color="#faf9c0"/><stop offset="0.6761" stop-color="#faf9bf"/><stop offset="0.7012" stop-color="#faf9be"/><stop offset="0.7262" stop-color="#faf9bc"/><stop offset="0.7513" stop-color="#faf9bb"/><stop offset="0.7763" stop-color="#faf9ba"/><stop offset="0.8013" stop-color="#faf9b9"/><stop offset="0.8264" stop-color="#faf9b9"/><stop offset="0.8514" stop-color="#faf9b9"/><stop offset="0.8765" stop-color="#faf9b9"/><stop offset="0.9015" stop-color="#faf9b9"/><stop offset="0.9265" stop-color="#faf9b9"/><stop offset="0.9516" stop-color="#faf9b9"/><stop offset="0.9766" stop-color="#faf9b9"/><stop offset="1" stop-color="#faf9b9"/></linearGradient><linearGradient id="r21"><stop offset="0" stop-color="#f0de22"/><stop offset="0.025" stop-color="#f0dd20"/><stop offset="0.0501" stop-color="#f0dc1e"/><stop offset="0.0751" stop-color="#f0db1d"/><stop offset="0.1002" stop-color="#f0db1d"/><stop offset="0.1252" stop-color="#f0dc1d"/><stop offset="0.1503" stop-color="#f0dc1f"/><stop offset="0.1753" stop-color="#f0de22"/><stop offset="0.2003" stop-color="#f0e027"/><stop offset="0.2254" stop-color="#f0e32e"/><stop offset="0.2504" stop-color="#f0e638"/><stop offset="0.2755" stop-color="#f1e944"/><stop offset="0.3005" stop-color="#f1ec52"/><stop offset="0.3255" stop-color="#f2ef60"/><stop offset="0.3506" stop-color="#f3f270"/><stop offset="0.3756" stop-color="#f4f37f"/><stop offset="0.4007" stop-color="#f6f58e"/><stop offset="0.4257" stop-color="#f7f79c"/><stop offset="0.4508" stop-color="#f8f8a6"/><stop offset="0.4758" stop-color="#f9f8ae"/><stop offset="0.5008" stop-color="#f9f9b5"/><stop offset="0.5259" stop-color="#faf9b9"/><stop offset="0.5509" stop-color="#faf9bd"/><stop offset="0.576" stop-color="#faf9bf"/><stop offset="0.601" stop-color="#faf9c0"/><stop offset="0.626" stop-color="#faf9c0"/><stop offset="0.6511" stop-color="#faf9c0"/><stop offset="0.6761" stop-color="#faf9bf"/><stop offset="0.7012" stop-color="#faf9be"/><stop offset="0.7262" stop-color="#faf9bd"/><stop offset="0.7513" stop-color="#faf9bb"/><stop offset="0.7763" stop-color="#faf9ba"/><stop offset="0.8013" stop-color="#faf9b9"/><stop offset="0.8264" stop-color="#faf9b9"/><stop offset="0.8514" stop-color="#faf9b9"/><stop offset="0.8765" stop-color="#faf9b9"/><stop offset="0.9015" stop-color="#faf9b9"/><stop offset="0.9265" stop-color="#faf9b9"/><stop offset="0.9516" stop-color="#faf9ba"/><stop offset="0.9766" stop-color="#faf9b9"/><stop offset="1" stop-color="#faf9b9"/></linearGradient><linearGradient id="r22"><stop offset="0" stop-color="#f0dd21"/><stop offset="0.025" stop-color="#f0dc1f"/><stop offset="0.0501" stop-color="#f0dc1e"/><stop offset="0.0751" stop-color="#f0db1d"/><stop offset="0.1002" stop-color="#f0db1c"/><stop offset="0.1252" stop-color="#f0db1d"/><stop offset="0.1503" stop-color="#f0dc1f"/><stop offset="0.1753" stop-color="#f0de22"/><stop offset="0.2003" stop-color="#f0e027"/><stop offset="0.2254" stop-color="#f0e32e"/><stop offset="0.2504" stop-color="#f0e637"/><stop offset="0.2755" stop-color="#f1e944"/><stop offset="0.3005" stop-color="#f1ec52"/><stop offset="0.3255" stop-color="#f2ef60"/><stop offset="0.3506" stop-color="#f3f170"/><stop offset="0.3756" stop-color="#f4f37f"/><stop offset="0.4007" stop-color="#f6f58e"/><stop offset="0.4257" stop-color="#f7f79c"/><stop offset="0.4508" stop-color="#f8f8a6"/><stop offset="0.4758" stop-color="#f9f8af"/><stop offset="0.5008" stop-color="#f9f9b5"/><stop offset="0.5259" stop-color="#faf9ba"/><stop offset="0.5509" stop-color="#faf9bd"/><stop offset="0.576" stop-color="#faf9bf"/><stop offset="0.601" stop-color="#faf9c0"/><stop offset="0.626" stop-color="#faf9c1"/><stop offset="0.6511" stop-color="#faf9c0"/><stop offset="0.6761" stop-color="#faf9c0"/><stop offset="0.7012" stop-color="#faf9be"/><stop offset="0.7262" stop-color="#faf9bd"/><stop offset="0.7513" stop-color="#faf9bc"/><stop offset="0.7763" stop-color="#faf9bb"/><stop offset="0.8013" stop-color="#faf9ba"/><stop offset="0.8264" stop-color="#faf9ba"/><stop offset="0.8514" stop-color="#faf9ba"/><stop offset="0.8765" stop-color="#faf9ba"/><stop offset="0.9015" stop-color="#faf9ba"/><stop offset="0.9265" stop-color="#faf9ba"/><stop offset="0.9516" stop-color="#faf9ba"/><stop offset="0.9766" stop-color="#faf9ba"/><stop offset="1" stop-color="#faf9ba"/></linearGradient><linearGradient id="r23"><stop offset="0" stop-color="#f0dd21"/><stop offset="0.025" stop-color="#f0dc1f"/><stop offset="0.0501" stop-color="#f0db1d"/><stop offset="0.0751" stop-color="#f0db1c"/><stop offset="0.1002" stop-color="#f0db1c"/><stop offset="0.1252" stop-color="#f0db1d"/><stop offset="0.1503" stop-color="#f0dc1e"/><stop offset="0.1753" stop-color="#f0dd22"/><stop offset="0.2003" stop-color="#f0e027"/><stop offset="0.2254" stop-color="#f0e32d"/><stop offset="0.2504" stop-color="#f0e637"/><stop offset="0.2755" stop-color="#f1e943"/><stop offset="0.3005" stop-color="#f1ec51"/><stop offset="0.3255" stop-color="#f2ef60"/><stop offset="0.3506" stop-color="#f3f170"/><stop offset="0.3756" stop-color="#f4f37f"/><stop offset="0.4007" stop-color="#f6f58e"/><stop offset="0.4257" stop-color="#f7f79c"/><stop offset="0.4508" stop-color="#f8f8a6"/><stop offset="0.4758" stop-color="#f9f8af"/><stop offset="0.5008" stop-color="#f9f9b5"/><stop offset="0.5259" stop-color="#faf9ba"/><stop offset="0.5509" stop-color="#faf9bd"/><stop offset="0.576" stop-color="#faf9c0"/><stop offset="0.601" stop-color="#faf9c1"/><stop offset="0.626" stop-color="#faf9c1"/><stop offset="0.6511" stop-color="#faf9c1"/><stop offset="0.6761" stop-color="#faf9c0"/><stop offset="0.7012" stop-color="#faf9bf"/><stop offset="0.7262" stop-color="#faf9be"/><stop offset="0.7513" stop-color="#faf9bc"/><stop offset="0.7763" stop-color="#faf9bb"/><stop offset="0.8013" stop-color="#faf9ba"/><stop offset="0.8264" stop-color="#faf9ba"/><stop offset="0.8514" stop-color="#faf9ba"/><stop offset="0.8765" stop-color="#faf9ba"/><stop offset="0.9015" stop-color="#faf9ba"/><stop offset="0.9265" stop-color="#faf9ba"/><stop offset="0.9516" stop-color="#faf9ba"/><stop offset="0.9766" stop-color="#faf9ba"/><stop offset="1" stop-color="#faf9ba"/></linearGradient><linearGradient id="r24"><stop offset="0" stop-color="#f0dd20"/><stop offset="0.025" stop-color="#f0dc1e"/><stop offset="0.0501" stop-color="#f0db1d"/><stop offset="0.0751" stop-color="#f0db1c"/><stop offset="0.1002" stop-color="#f0db1b"/><stop offset="0.1252" stop-color="#f0db1c"/><stop offset="0.1503" stop-color="#f0dc1e"/><stop offset="0.1753" stop-color="#f0dd21"/><stop offset="0.2003" stop-color="#f0df26"/><stop offset="0.2254" stop-color="#f0e32d"/><stop offset="0.2504" stop-color="#f0e636"/><stop offset="0.2755" stop-color="#f1e943"/><stop offset="0.3005" stop-color="#f1ec51"/><stop offset="0.3255" stop-color="#f2ef60"/><stop offset="0.3506" stop-color="#f3f170"/><stop offset="0.3756" stop-color="#f4f37f"/><stop offset="0.4007" stop-color="#f6f58e"/><stop offset="0.4257" stop-color="#f7f79c"/><stop offset="0.4508" stop-color="#f8f8a6"/><stop offset="0.4758" stop-color="#f9f8af"/><stop offset="0.5008" stop-color="#f9f9b6"/><stop offset="0.5259" stop-color="#faf9ba"/><stop offset="0.5509" stop-color="#faf9be"/><stop offset="0.576" stop-color="#faf9c0"/><stop offset="0.601" stop-color="#faf9c1"/><stop offset="0.626" stop-color="#fafac2"/><stop offset="0.6511" stop-color="#fafac1"/><stop offset="0.6761" stop-color="#faf9c1"/><stop offset="0.7012" stop-color="#faf9bf"/><stop offset="0.7262" stop-color="#faf9be"/><stop offset="0.7513" stop-color="#faf9bd"/><stop offset="0.7763" stop-color="#faf9bc"/><stop offset="0.8013" stop-color="#faf9bb"/><stop offset="0.8264" stop-color="#faf9bb"/><stop offset="0.8514" stop-color="#faf9bb"/><stop offset="0.8765" stop-color="#faf9bb"/><stop offset="0.9015" stop-color="#faf9bb"/><stop offset="0.9265" stop-color="#faf9bb"/><stop offset="0.9516" stop-color="#faf9bb"/><stop offset="0.9766" stop-color="#faf9bb"/><stop offset="1" stop-color="#faf9bb"/></linearGradient><linearGradient id="r25"><stop offset="0" stop-color="#f0dd20"/><stop offset="0.025" stop-color="#f0dc1e"/><stop offset="0.0501" stop-color="#f0db1c"/><stop offset="0.0751" stop-color="#f0da1b"/><stop offset="0.1002" stop-color="#f0da1b"/><stop offset="0.1252" stop-color="#f0db1b"/><stop offset="0.1503" stop-color="#f0db1d"/><stop offset="0.1753" stop-color="#f0dd20"/><stop offset="0.2003" stop-color="#f0df25"/><stop offset="0.2254" stop-color="#f0e22c"/><stop offset="0.2504" stop-color="#f0e635"/><stop offset="0.2755" stop-color="#f1e942"/><stop offset="0.3005" stop-color="#f1ec51"/><stop offset="0.3255" stop-color="#f2ef5f"/><stop offset="0.3506" stop-color="#f3f16f"/><stop offset="0.3756" stop-color="#f4f37f"/><stop offset="0.4007" stop-color="#f6f58e"/><stop offset="0.4257" stop-color="#f7f79c"/><stop offset="0.4508" stop-color="#f8f8a7"/><stop offset="0.4758" stop-color="#f9f8af"/><stop offset="0.5008" stop-color="#f9f9b6"/><stop offset="0.5259" stop-color="#faf9bb"/><stop offset="0.5509" stop-color="#faf9be"/><stop offset="0.576" stop-color="#faf9c1"/><stop offset="0.601" stop-color="#fafac2"/><stop offset="0.626" stop-color="#fafac2"/><stop offset="0.6511" stop-color="#fafac2"/><stop offset="0.6761" stop-color="#faf9c1"/><stop offset="0.7012" stop-color="#faf9c0"/><stop offset="0.7262" stop-color="#faf9bf"/><stop offset="0.7513" stop-color="#faf9bd"/><stop offset="0.7763" stop-color="#faf9bc"/><stop offset="0.8013" stop-color="#faf9bc"/><stop offset="0.8264" stop-color="#faf9bb"/><stop offset="0.8514" stop-color="#faf9bb"/><stop offset="0.8765" stop-color="#faf9bc"/><stop offset="0.9015" stop-color="#faf9bc"/><stop offset="0.9265" stop-color="#faf9bc"/><stop offset="0.9516" stop-color="#faf9bc"/><stop offset="0.9766" stop-color="#faf9bc"/><stop offset="1" stop-color="#faf9bc"/></linearGradient><linearGradient id="r26"><stop offset="0" stop-color="#f0dc1f"/><stop offset="0.025" stop-color="#f0db1d"/><stop offset="0.0501" stop-color="#f0db1b"/><stop offset="0.0751" stop-color="#f0da1a"/><stop offset="0.1002" stop-color="#f0da1a"/><stop offset="0.1252" stop-color="#f0da1b"/><stop offset="0.1503" stop-color="#f0db1d"/><stop offset="0.1753" stop-color="#f0dd20"/><stop offset="0.2003" stop-color="#f0df25"/><stop offset="0.2254" stop-color="#f0e22c"/><stop offset="0.2504" stop-color="#f0e635"/><stop offset="0.2755" stop-color="#f1e842"/><stop offset="0.3005" stop-color="#f1ec50"/><stop offset="0.3255" stop-color="#f2ef5f"/><stop offset="0.3506" stop-color="#f3f16f"/><stop offset="0.3756" stop-color="#f4f37f"/><stop offset="0.4007" stop-color="#f6f58e"/><stop offset="0.4257" stop-color="#f7f79c"/><stop offset="0.4508" stop-color="#f8f8a7"/><stop offset="0.4758" stop-color="#f9f8b0"/><stop offset="0.5008" stop-color="#f9f9b6"/><stop offset="0.5259" stop-color="#faf9bb"/><stop offset="0.5509" stop-color="#faf9bf"/><stop offset="0.576" stop-color="#faf9c1"/><stop offset="0.601" stop-color="#fafac2"/><stop offset="0.626" stop-color="#fafac3"/><stop offset="0.6511" stop-color="#fafac2"/><stop offset="0.6761" stop-color="#fafac2"/><stop offset="0.7012" stop-color="#faf9c1"/><stop offset="0.7262" stop-color="#faf9bf"/><stop offset="0.7513" stop-color="#faf9be"/><stop offset="0.7763" stop-color="#faf9bd"/><stop offset="0.8013" stop-color="#faf9bc"/><stop offset="0.8264" stop-color="#faf9bc"/><stop offset="0.8514" stop-color="#faf9bc"/><stop offset="0.8765" stop-color="#faf9bc"/><stop offset="0.9015" stop-color="#faf9bc"/><stop offset="0.9265" stop-color="#faf9bc"/><stop offset="0.9516" stop-color="#faf9bc"/><stop offset="0.9766" stop-color="#faf9bc"/><stop offset="1" stop-color="#faf9bc"/></linearGradient><linearGradient id="r27"><stop offset="0" stop-color="#f0dc1f"/><stop offset="0.025" stop-color="#f0db1c"/><stop offset="0.0501" stop-color="#f0da1b"/><stop offset="0.0751" stop-color="#f0da1a"/><stop offset="0.1002" stop-color="#f0da1a"/><stop offset="0.1252" stop-color="#f0da1a"/><stop offset="0.1503" stop-color="#f0db1c"/><stop offset="0.1753" stop-color="#f0dc1f"/><stop offset="0.2003" stop-color="#f0df24"/><stop offset="0.2254" stop-color="#f0e22b"/><stop offset="0.2504" stop-color="#f0e534"/><stop offset="0.2755" stop-color="#f1e841"/><stop offset="0.3005" stop-color="#f1ec50"/><stop offset="0.3255" stop-color="#f2ef5f"/><stop offset="0.3506" stop-color="#f3f16f"/><stop offset="0.3756" stop-color="#f4f37f"/><stop offset="0.4007" stop-color="#f6f58e"/><stop offset="0.4257" stop-color="#f7f79c"/><stop offset="0.4508" stop-color="#f8f8a7"/><stop offset="0.4758" stop-color="#f9f8b0"/><stop offset="0.5008" stop-color="#f9f9b7"/><stop offset="0.5259" stop-color="#faf9bc"/><stop offset="0.5509" stop-color="#faf9bf"/><stop offset="0.576" stop-color="#fafac1"/><stop offset="0.601" stop-color="#fafac3"/><stop offset="0.626" stop-color="#fafac3"/><stop offset="0.6511" stop-color="#fafac3"/><stop offset="0.6761" stop-color="#fafac2"/><stop offset="0.7012" stop-color="#faf9c1"/><stop offset="0.7262" stop-color="#faf9c0"/><stop offset="0.7513" stop-color="#faf9bf"/><stop offset="0.7763" stop-color="#faf9be"/><stop offset="0.8013" stop-color="#faf9bd"/><stop offset="0.8264" stop-color="#faf9bd"/><stop offset="0.8514" stop-color="#faf9bd"/><stop offset="0.8765" stop-color="#faf9bd"/><stop offset="0.9015" stop-color="#faf9bd"/><stop offset="0.9265" stop-color="#faf9bd"/><stop offset="0.9516" stop-color="#faf9bd"/><stop offset="0.9766" stop-color="#faf9bd"/><stop offset="1" stop-color="#faf9bd"/></linearGradient><linearGradient id="r28"><stop offset="0" stop-color="#f0dc1e"/><stop offset="0.025" stop-color="#f0db1c"/><stop offset="0.0501" stop-color="#f0da1a"/><stop offset="0.0751" stop-color="#f0da19"/><stop offset="0.1002" stop-color="#f0d919"/><stop offset="0.1252" stop-color="#f0da1a"/><stop offset="0.1503" stop-color="#f0db1b"/><stop offset="0.1753" stop-color="#f0dc1f"/><stop offset="0.2003" stop-color="#f0de24"/><stop offset="0.2254" stop-color="#f0e22a"/><stop offset="0.2504" stop-color="#f0e533"/><stop offset="0.2755" stop-color="#f1e841"/><stop offset="0.3005" stop-color="#f1eb4f"/><stop offset="0.3255" stop-color="#f2ef5f"/><stop offset="0.3506" stop-color="#f3f16f"/><stop offset="0.3756" stop-color="#f4f37f"/><stop offset="0.4007" stop-color="#f6f58e"/><stop offset="0.4257" stop-color="#f7f79c"/><stop offset="0.4508" stop-color="#f8f8a7"/><stop offset="0.4758" stop-color="#f9f8b0"/><stop offset="0.5008" stop-color="#f9f9b7"/><stop offset="0.5259" stop-color="#faf9bc"/><stop offset="0.5509" stop-color="#faf9c0"/><stop offset="0.576" stop-color="#fafac2"/><stop offset="0.601" stop-color="#fbfac3"/><stop offset="0.626" stop-color="#fbfac4"/><stop offset="0.6511" stop-color="#fbfac4"/><stop offset="0.6761" stop-color="#fafac3"/><stop offset="0.7012" stop-color="#fafac2"/><stop offset="0.7262" stop-color="#faf9c1"/><stop offset="0.7513" stop-color="#faf9bf"/><stop offset="0.7763" stop-color="#faf9be"/><stop offset="0.8013" stop-color="#faf9bd"/><stop offset="0.8264" stop-color="#faf9bd"/><stop offset="0.8514" stop-color="#faf9bd"/><stop offset="0.8765" stop-color="#faf9be"/><stop offset="0.9015" stop-color="#faf9be"/><stop offset="0.9265" stop-color="#faf9be"/><stop offset="0.9516" stop-color="#faf9be"/><stop offset="0.9766" stop-color="#faf9be"/><stop offset="1" stop-color="#faf9be"/></linearGradient><linearGradient id="r29"><stop offset="0" stop-color="#f0db1d"/><stop offset="0.025" stop-color="#f0da1b"/><stop offset="0.0501" stop-color="#f0da19"/><stop offset="0.0751" stop-color="#f0d918"/><stop offset="0.1002" stop-color="#f0d918"/><stop offset="0.1252" stop-color="#f0d919"/><stop offset="0.1503" stop-color="#f0da1b"/><stop offset="0.1753" stop-color="#f0dc1e"/><stop offset="0.2003" stop-color="#f0de23"/><stop offset="0.2254" stop-color="#f0e12a"/><stop offset="0.2504" stop-color="#f0e532"/><stop offset="0.2755" stop-color="#f1e840"/><stop offset="0.3005" stop-color="#f1eb4f"/><stop offset="0.3255" stop-color="#f2ef5e"/><stop offset="0.3506" stop-color="#f3f16f"/><stop offset="0.3756" stop-color="#f4f37f"/><stop offset="0.4007" stop-color="#f6f58e"/><stop offset="0.4257" stop-color="#f7f79c"/><stop offset="0.4508" stop-color="#f8f8a7"/><stop offset="0.4758" stop-color="#f9f8b0"/><stop offset="0.5008" stop-color="#f9f9b7"/><stop offset="0.5259" stop-color="#faf9bc"/><stop offset="0.5509" stop-color="#faf9c0"/><stop offset="0.576" stop-color="#fafac3"/><stop offset="0.601" stop-color="#fbfac4"/><stop offset="0.626" stop-color="#fbfac4"/><stop offset="0.6511" stop-color="#fbfac4"/><stop offset="0.6761" stop-color="#fbfac3"/><stop offset="0.7012" stop-color="#fafac2"/><stop offset="0.7262" stop-color="#faf9c1"/><stop offset="0.7513" stop-color="#faf9c0"/><stop offset="0.7763" stop-color="#faf9bf"/><stop offset="0.8013" stop-color="#faf9be"/><stop offset="0.8264" stop-color="#faf9be"/><stop offset="0.8514" stop-color="#faf9be"/><stop offset="0.8765" stop-color="#faf9be"/><stop offset="0.9015" stop-color="#faf9be"/><stop offset="0.9265" stop-color="#faf9be"/><stop offset="0.9516" stop-color="#faf9be"/><stop offset="0.9766" stop-color="#faf9be"/><stop offset="1" stop-color="#faf9be"/></linearGradient><linearGradient id="r30"><stop offset="0" stop-color="#f0db1c"/><stop offset="0.025" stop-color="#f0da1a"/><stop offset="0.0501" stop-color="#f0d919"/><stop offset="0.0751" stop-color="#f0d918"/><stop offset="0.1002" stop-color="#f0d917"/><stop offset="0.1252" stop-color="#f0d918"/><stop offset="0.1503" stop-color="#f0da1a"/><stop offset="0.1753" stop-color="#f0db1d"/><stop offset="0.2003" stop-color="#f0de22"/><stop offset="0.2254" stop-color="#f0e129"/><stop offset="0.2504" stop-color="#f0e532"/><stop offset="0.2755" stop-color="#f1e83f"/><stop offset="0.3005" stop-color="#f1eb4e"/><stop offset="0.3255" stop-color="#f2ef5e"/><stop offset="0.3506" stop-color="#f3f16e"/><stop offset="0.3756" stop-color="#f4f37f"/><stop offset="0.4007" stop-color="#f6f58e"/><stop offset="0.4257" stop-color="#f7f79d"/><stop offset="0.4508" stop-color="#f8f8a7"/><stop offset="0.4758" stop-color="#f9f8b1"/><stop offset="0.5008" stop-color="#f9f9b8"/><stop offset="0.5259" stop-color="#faf9bd"/><stop offset="0.5509" stop-color="#faf9c1"/><stop offset="0.576" stop-color="#fafac3"/><stop offset="0.601" stop-color="#fbfac4"/><stop offset="0.626" stop-color="#fbfac5"/><stop offset="0.6511" stop-color="#fbfac5"/><stop offset="0.6761" stop-color="#fbfac4"/><stop offset="0.7012" stop-color="#fafac3"/><stop offset="0.7262" stop-color="#fafac2"/><stop offset="0.7513" stop-color="#faf9c1"/><stop offset="0.7763" stop-color="#faf9c0"/><stop offset="0.8013" stop-color="#faf9bf"/><stop offset="0.8264" stop-color="#faf9bf"/><stop offset="0.8514" stop-color="#faf9bf"/><stop offset="0.8765" stop-color="#faf9bf"/><stop offset="0.9015" stop-color="#faf9bf"/><stop offset="0.9265" stop-color="#faf9bf"/><stop offset="0.9516" stop-color="#faf9bf"/><stop offset="0.9766" stop-color="#faf9bf"/><stop offset="1" stop-color="#faf9bf"/></linearGradient><linearGradient id="r31"><stop offset="0" stop-color="#f0db1c"/><stop offset="0.025" stop-color="#f0da1a"/><stop offset="0.0501" stop-color="#f0d918"/><stop offset="0.0751" stop-color="#f0d917"/><stop offset="0.1002" stop-color="#f0d817"/><stop offset="0.1252" stop-color="#f0d917"/><stop offset="0.1503" stop-color="#f0da19"/><stop offset="0.1753" stop-color="#f0db1c"/><stop offset="0.2003" stop-color="#f0dd21"/><stop offset="0.2254" stop-color="#f0e128"/><stop offset="0.2504" stop-color="#f0e531"/><stop offset="0.2755" stop-color="#f0e83e"/><stop offset="0.3005" stop-color="#f1eb4e"/><stop offset="0.3255" stop-color="#f2ef5d"/><stop offset="0.3506" stop-color="#f3f16e"/><stop offset="0.3756" stop-color="#f4f37f"/><stop offset="0.4007" stop-color="#f6f58e"/><stop offset="0.4257" stop-color="#f7f79d"/><stop offset="0.4508" stop-color="#f8f8a8"/><stop offset="0.4758" stop-color="#f9f8b1"/><stop offset="0.5008" stop-color="#faf9b8"/><stop offset="0.5259" stop-color="#faf9bd"/><stop offset="0.5509" stop-color="#faf9c1"/><stop offset="0.576" stop-color="#fbfac4"/><stop offset="0.601" stop-color="#fbfac5"/><stop offset="0.626" stop-color="#fbfac6"/><stop offset="0.6511" stop-color="#fbfac5"/><stop offset="0.6761" stop-color="#fbfac5"/><stop offset="0.7012" stop-color="#fbfac4"/><stop offset="0.7262" stop-color="#fafac3"/><stop offset="0.7513" stop-color="#fafac1"/><stop offset="0.7763" stop-color="#faf9c0"/><stop offset="0.8013" stop-color="#faf9c0"/><stop offset="0.8264" stop-color="#faf9bf"/><stop offset="0.8514" stop-color="#faf9c0"/><stop offset="0.8765" stop-color="#faf9c0"/><stop offset="0.9015" stop-color="#faf9c0"/><stop offset="0.9265" stop-color="#faf9c0"/><stop offset="0.9516" stop-color="#faf9c0"/><stop offset="0.9766" stop-color="#faf9c0"/><stop offset="1" stop-color="#faf9c0"/></linearGradient><linearGradient id="r32"><stop offset="0" stop-color="#f0da1b"/><stop offset="0.025" stop-color="#f0d919"/><stop offset="0.0501" stop-color="#f0d917"/><stop offset="0.0751" stop-color="#f0d816"/><stop offset="0.1002" stop-color="#f0d816"/><stop offset="0.1252" stop-color="#f0d817"/><stop offset="0.1503" stop-color="#f0d918"/><stop offset="0.1753" stop-color="#f0db1c"/><stop offset="0.2003" stop-color="#f0dd21"/><stop offset="0.2254" stop-color="#f0e028"/><stop offset="0.2504" stop-color="#f0e430"/><stop offset="0.2755" stop-color="#f0e83e"/><stop offset="0.3005" stop-color="#f1eb4d"/><stop offset="0.3255" stop-color="#f2ee5d"/><stop offset="0.3506" stop-color="#f3f16e"/><stop offset="0.3756" stop-color="#f4f37f"/><stop offset="0.4007" stop-color="#f6f58e"/><stop offset="0.4257" stop-color="#f7f79d"/><stop offset="0.4508" stop-color="#f8f8a8"/><stop offset="0.4758" stop-color="#f9f8b1"/><stop offset="0.5008" stop-color="#faf9b9"/><stop offset="0.5259" stop-color="#faf9be"/><stop offset="0.5509" stop-color="#fafac2"/><stop offset="0.576" stop-color="#fbfac4"/><stop offset="0.601" stop-color="#fbfac6"/><stop offset="0.626" stop-color="#fbfac6"/><stop offset="0.6511" stop-color="#fbfac6"/><stop offset="0.6761" stop-color="#fbfac5"/><stop offset="0.7012" stop-color="#fbfac4"/><stop offset="0.7262" stop-color="#fbfac3"/><stop offset="0.7513" stop-color="#fafac2"/><stop offset="0.7763" stop-color="#faf9c1"/><stop offset="0.8013" stop-color="#faf9c0"/><stop offset="0.8264" stop-color="#faf9c0"/><stop offset="0.8514" stop-color="#faf9c0"/><stop offset="0.8765" stop-color="#faf9c1"/><stop offset="0.9015" stop-color="#faf9c1"/><stop offset="0.9265" stop-color="#faf9c1"/><stop offset="0.9516" stop-color="#faf9c1"/><stop offset="0.9766" stop-color="#faf9c1"/><stop offset="1" stop-color="#faf9c0"/></linearGradient><linearGradient id="r33"><stop offset="0" stop-color="#f0da1a"/><stop offset="0.025" stop-color="#f0d918"/><stop offset="0.0501" stop-color="#f0d816"/><stop offset="0.0751" stop-color="#f0d815"/><stop offset="0.1002" stop-color="#f0d815"/><stop offset="0.1252" stop-color="#f0d816"/><stop offset="0.1503" stop-color="#f0d918"/><stop offset="0.1753" stop-color="#f0da1b"/><stop offset="0.2003" stop-color="#f0dd20"/><stop offset="0.2254" stop-color="#f0e027"/><stop offset="0.2504" stop-color="#f0e430"/><stop offset="0.2755" stop-color="#f0e73d"/><stop offset="0.3005" stop-color="#f1eb4c"/><stop offset="0.3255" stop-color="#f2ee5d"/><stop offset="0.3506" stop-color="#f3f16e"/><stop offset="0.3756" stop-color="#f4f37e"/><stop offset="0.4007" stop-color="#f6f58e"/><stop offset="0.4257" stop-color="#f7f79d"/><stop offset="0.4508" stop-color="#f8f8a8"/><stop offset="0.4758" stop-color="#f9f8b2"/><stop offset="0.5008" stop-color="#faf9b9"/><stop offset="0.5259" stop-color="#faf9be"/><stop offset="0.5509" stop-color="#fafac2"/><stop offset="0.576" stop-color="#fbfac5"/><stop offset="0.601" stop-color="#fbfac6"/><stop offset="0.626" stop-color="#fbfac7"/><stop offset="0.6511" stop-color="#fbfac7"/><stop offset="0.6761" stop-color="#fbfac6"/><stop offset="0.7012" stop-color="#fbfac5"/><stop offset="0.7262" stop-color="#fbfac4"/><stop offset="0.7513" stop-color="#fafac3"/><stop offset="0.7763" stop-color="#fafac2"/><stop offset="0.8013" stop-color="#faf9c1"/><stop offset="0.8264" stop-color="#faf9c1"/><stop offset="0.8514" stop-color="#faf9c1"/><stop offset="0.8765" stop-color="#fafac1"/><stop offset="0.9015" stop-color="#fafac1"/><stop offset="0.9265" stop-color="#fafac1"/><stop offset="0.9516" stop-color="#fafac1"/><stop offset="0.9766" stop-color="#fafac1"/><stop offset="1" stop-color="#faf9c1"/></linearGradient><linearGradient id="r34"><stop offset="0" stop-color="#f0da19"/><stop offset="0.025" stop-color="#f0d917"/><stop offset="0.0501" stop-color="#f0d816"/><stop offset="0.0751" stop-color="#f0d815"/><stop offset="0.1002" stop-color="#f0d714"/><stop offset="0.1252" stop-color="#f0d815"/><stop offset="0.1503" stop-color="#f0d917"/><stop offset="0.1753" stop-color="#f0da1a"/><stop offset="0.2003" stop-color="#f0dc1f"/><stop offset="0.2254" stop-color="#f0e026"/><stop offset="0.2504" stop-color="#f0e42f"/><stop offset="0.2755" stop-color="#f0e73c"/><stop offset="0.3005" stop-color="#f1eb4c"/><stop offset="0.3255" stop-color="#f2ee5c"/><stop offset="0.3506" stop-color="#f3f16d"/><stop offset="0.3756" stop-color="#f4f37e"/><stop offset="0.4007" stop-color="#f6f58e"/><stop offset="0.4257" stop-color="#f7f79d"/><stop offset="0.4508" stop-color="#f8f8a8"/><stop offset="0.4758" stop-color="#f9f9b2"/><stop offset="0.5008" stop-color="#faf9b9"/><stop offset="0.5259" stop-color="#faf9bf"/><stop offset="0.5509" stop-color="#fafac3"/><stop offset="0.576" stop-color="#fbfac5"/><stop offset="0.601" stop-color="#fbfac7"/><stop offset="0.626" stop-color="#fbfac8"/><stop offset="0.6511" stop-color="#fbfac7"/><stop offset="0.6761" stop-color="#fbfac7"/><stop offset="0.7012" stop-color="#fbfac6"/><stop offset="0.7262" stop-color="#fbfac5"/><stop offset="0.7513" stop-color="#fbfac4"/><stop offset="0.7763" stop-color="#fafac3"/><stop offset="0.8013" stop-color="#fafac2"/><stop offset="0.8264" stop-color="#fafac2"/><stop offset="0.8514" stop-color="#fafac2"/><stop offset="0.8765" stop-color="#fafac2"/><stop offset="0.9015" stop-color="#fafac2"/><stop offset="0.9265" stop-color="#fafac2"/><stop offset="0.9516" stop-color="#fafac2"/><stop offset="0.9766" stop-color="#fafac2"/><stop offset="1" stop-color="#fafac2"/></linearGradient><linearGradient id="r35"><stop offset="0" stop-color="#f0d919"/><stop offset="0.025" stop-color="#f0d816"/><stop offset="0.0501" stop-color="#f0d815"/><stop offset="0.0751" stop-color="#f0d714"/><stop offset="0.1002" stop-color="#f0d714"/><stop offset="0.1252" stop-color="#f0d714"/><stop offset="0.1503" stop-color="#f0d816"/><stop offset="0.1753" stop-color="#f0da19"/><stop offset="0.2003" stop-color="#f0dc1f"/><stop offset="0.2254" stop-color="#f0df26"/><stop offset="0.2504" stop-color="#f0e32f"/><stop offset="0.2755" stop-color="#f0e73b"/><stop offset="0.3005" stop-color="#f1eb4b"/><stop offset="0.3255" stop-color="#f2ee5c"/><stop offset="0.3506" stop-color="#f3f16d"/><stop offset="0.3756" stop-color="#f4f37e"/><stop offset="0.4007" stop-color="#f6f58e"/><stop offset="0.4257" stop-color="#f7f79d"/><stop offset="0.4508" stop-color="#f8f8a9"/><stop offset="0.4758" stop-color="#f9f9b2"/><stop offset="0.5008" stop-color="#faf9ba"/><stop offset="0.5259" stop-color="#faf9bf"/><stop offset="0.5509" stop-color="#fbfac3"/><stop offset="0.576" stop-color="#fbfac6"/><stop offset="0.601" stop-color="#fbfac8"/><stop offset="0.626" stop-color="#fbfac8"/><stop offset="0.6511" stop-color="#fbfac8"/><stop offset="0.6761" stop-color="#fbfac8"/><stop offset="0.7012" stop-color="#fbfac7"/><stop offset="0.7262" stop-color="#fbfac6"/><stop offset="0.7513" stop-color="#fbfac4"/><stop offset="0.7763" stop-color="#fbfac3"/><stop offset="0.8013" stop-color="#fafac3"/><stop offset="0.8264" stop-color="#fafac3"/><stop offset="0.8514" stop-color="#fafac3"/><stop offset="0.8765" stop-color="#fafac3"/><stop offset="0.9015" stop-color="#fafac3"/><stop offset="0.9265" stop-color="#fafac3"/><stop offset="0.9516" stop-color="#fafac3"/><stop offset="0.9766" stop-color="#fafac3"/><stop offset="1" stop-color="#fafac3"/></linearGradient><linearGradient id="r36"><stop offset="0" stop-color="#f0d918"/><stop offset="0.025" stop-color="#f0d816"/><stop offset="0.0501" stop-color="#f0d714"/><stop offset="0.0751" stop-color="#f0d713"/><stop offset="0.1002" stop-color="#f0d713"/><stop offset="0.1252" stop-color="#f0d714"/><stop offset="0.1503" stop-color="#f0d815"/><stop offset="0.1753" stop-color="#f0d919"/><stop offset="0.2003" stop-color="#f0dc1e"/><stop offset="0.2254" stop-color="#f0df25"/><stop offset="0.2504" stop-color="#f0e32e"/><stop offset="0.2755" stop-color="#f0e73b"/><stop offset="0.3005" stop-color="#f1ea4b"/><stop offset="0.3255" stop-color="#f2ee5b"/><stop offset="0.3506" stop-color="#f3f16d"/><stop offset="0.3756" stop-color="#f4f37e"/><stop offset="0.4007" stop-color="#f6f58e"/><stop offset="0.4257" stop-color="#f7f79d"/><stop offset="0.4508" stop-color="#f8f8a9"/><stop offset="0.4758" stop-color="#f9f9b3"/><stop offset="0.5008" stop-color="#faf9ba"/><stop offset="0.5259" stop-color="#faf9c0"/><stop offset="0.5509" stop-color="#fbfac4"/><stop offset="0.576" stop-color="#fbfac7"/><stop offset="0.601" stop-color="#fbfac8"/><stop offset="0.626" stop-color="#fbfac9"/><stop offset="0.6511" stop-color="#fbfac9"/><stop offset="0.6761" stop-color="#fbfac8"/><stop offset="0.7012" stop-color="#fbfac7"/><stop offset="0.7262" stop-color="#fbfac6"/><stop offset="0.7513" stop-color="#fbfac5"/><stop offset="0.7763" stop-color="#fbfac4"/><stop offset="0.8013" stop-color="#fbfac4"/><stop offset="0.8264" stop-color="#fbfac3"/><stop offset="0.8514" stop-color="#fbfac4"/><stop offset="0.8765" stop-color="#fbfac4"/><stop offset="0.9015" stop-color="#fbfac4"/><stop offset="0.9265" stop-color="#fbfac4"/><stop offset="0.9516" stop-color="#fbfac4"/><stop offset="0.9766" stop-color="#fbfac4"/><stop offset="1" stop-color="#fbfac4"/></linearGradient><linearGradient id="r37"><stop offset="0" stop-color="#f0d917"/><stop offset="0.025" stop-color="#f0d815"/><stop offset="0.0501" stop-color="#f0d713"/><stop offset="0.0751" stop-color="#f0d612"/><stop offset="0.1002" stop-color="#f0d612"/><stop offset="0.1252" stop-color="#f0d713"/><stop offset="0.1503" stop-color="#f0d715"/><stop offset="0.1753" stop-color="#f0d918"/><stop offset="0.2003" stop-color="#f0db1d"/><stop offset="0.2254" stop-color="#f0df24"/><stop offset="0.2504" stop-color="#f0e32d"/><stop offset="0.2755" stop-color="#f0e73a"/><stop offset="0.3005" stop-color="#f1ea4a"/><stop offset="0.3255" stop-color="#f2ee5b"/><stop offset="0.3506" stop-color="#f3f16c"/><stop offset="0.3756" stop-color="#f4f37e"/><stop offset="0.4007" stop-color="#f6f58f"/><stop offset="0.4257" stop-color="#f7f79e"/><stop offset="0.4508" stop-color="#f8f8a9"/><stop offset="0.4758" stop-color="#f9f9b3"/><stop offset="0.5008" stop-color="#faf9bb"/><stop offset="0.5259" stop-color="#faf9c0"/><stop offset="0.5509" stop-color="#fbfac5"/><stop offset="0.576" stop-color="#fbfac7"/><stop offset="0.601" stop-color="#fbfac9"/><stop offset="0.626" stop-color="#fbfaca"/><stop offset="0.6511" stop-color="#fbfaca"/><stop offset="0.6761" stop-color="#fbfac9"/><stop offset="0.7012" stop-color="#fbfac8"/><stop offset="0.7262" stop-color="#fbfac7"/><stop offset="0.7513" stop-color="#fbfac6"/><stop offset="0.7763" stop-color="#fbfac5"/><stop offset="0.8013" stop-color="#fbfac4"/><stop offset="0.8264" stop-color="#fbfac4"/><stop offset="0.8514" stop-color="#fbfac5"/><stop offset="0.8765" stop-color="#fbfac5"/><stop offset="0.9015" stop-color="#fbfac5"/><stop offset="0.9265" stop-color="#fbfac5"/><stop offset="0.9516" stop-color="#fbfac5"/><stop offset="0.9766" stop-color="#fbfac5"/><stop offset="1" stop-color="#fbfac4"/></linearGradient><linearGradient id="r38"><stop offset="0" stop-color="#f0d816"/><stop offset="0.025" stop-color="#f0d714"/><stop offset="0.0501" stop-color="#f0d713"/><stop offset="0.0751" stop-color="#f0d612"/><stop offset="0.1002" stop-color="#f0d611"/><stop offset="0.1252" stop-color="#f0d612"/><stop offset="0.1503" stop-color="#f0d714"/><stop offset="0.1753" stop-color="#f0d917"/><stop offset="0.2003" stop-color="#f0db1c"/><stop offset="0.2254" stop-color="#f0de24"/><stop offset="0.2504" stop-color="#f0e32d"/><stop offset="0.2755" stop-color="#f0e739"/><stop offset="0.3005" stop-color="#f1ea4a"/><stop offset="0.3255" stop-color="#f2ee5b"/><stop offset="0.3506" stop-color="#f3f16c"/><stop offset="0.3756" stop-color="#f4f37e"/><stop offset="0.4007" stop-color="#f6f58f"/><stop offset="0.4257" stop-color="#f7f79e"/><stop offset="0.4508" stop-color="#f8f8aa"/><stop offset="0.4758" stop-color="#f9f9b4"/><stop offset="0.5008" stop-color="#faf9bb"/><stop offset="0.5259" stop-color="#faf9c1"/><stop offset="0.5509" stop-color="#fbfac5"/><stop offset="0.576" stop-color="#fbfac8"/><stop offset="0.601" stop-color="#fbfaca"/><stop offset="0.626" stop-color="#fbfacb"/><stop offset="0.6511" stop-color="#fbfacb"/><stop offset="0.6761" stop-color="#fbfaca"/><stop offset="0.7012" stop-color="#fbfac9"/><stop offset="0.7262" stop-color="#fbfac8"/><stop offset="0.7513" stop-color="#fbfac7"/><stop offset="0.7763" stop-color="#fbfac6"/><stop offset="0.8013" stop-color="#fbfac5"/><stop offset="0.8264" stop-color="#fbfac5"/><stop offset="0.8514" stop-color="#fbfac5"/><stop offset="0.8765" stop-color="#fbfac5"/><stop offset="0.9015" stop-color="#fbfac6"/><stop offset="0.9265" stop-color="#fbfac6"/><stop offset="0.9516" stop-color="#fbfac6"/><stop offset="0.9766" stop-color="#fbfac5"/><stop offset="1" stop-color="#fbfac5"/></linearGradient><linearGradient id="r39"><stop offset="0" stop-color="#f0d816"/><stop offset="0.025" stop-color="#f0d713"/><stop offset="0.0501" stop-color="#f0d612"/><stop offset="0.0751" stop-color="#f0d611"/><stop offset="0.1002" stop-color="#f0d611"/><stop offset="0.1252" stop-color="#f0d611"/><stop offset="0.1503" stop-color="#f0d713"/><stop offset="0.1753" stop-color="#f0d816"/><stop offset="0.2003" stop-color="#f0db1c"/><stop offset="0.2254" stop-color="#f0de23"/><stop offset="0.2504" stop-color="#f0e22c"/><stop offset="0.2755" stop-color="#f0e639"/><stop offset="0.3005" stop-color="#f1ea49"/><stop offset="0.3255" stop-color="#f2ee5a"/><stop offset="0.3506" stop-color="#f3f16c"/><stop offset="0.3756" stop-color="#f4f37e"/><stop offset="0.4007" stop-color="#f6f58f"/><stop offset="0.4257" stop-color="#f7f79e"/><stop offset="0.4508" stop-color="#f8f8aa"/><stop offset="0.4758" stop-color="#f9f9b4"/><stop offset="0.5008" stop-color="#faf9bc"/><stop offset="0.5259" stop-color="#fafac2"/><stop offset="0.5509" stop-color="#fbfac6"/><stop offset="0.576" stop-color="#fbfac9"/><stop offset="0.601" stop-color="#fbfacb"/><stop offset="0.626" stop-color="#fbfacc"/><stop offset="0.6511" stop-color="#fbfacc"/><stop offset="0.6761" stop-color="#fbfacb"/><stop offset="0.7012" stop-color="#fbfaca"/><stop offset="0.7262" stop-color="#fbfac9"/><stop offset="0.7513" stop-color="#fbfac8"/><stop offset="0.7763" stop-color="#fbfac7"/><stop offset="0.8013" stop-color="#fbfac6"/><stop offset="0.8264" stop-color="#fbfac6"/><stop offset="0.8514" stop-color="#fbfac6"/><stop offset="0.8765" stop-color="#fbfac6"/><stop offset="0.9015" stop-color="#fbfac6"/><stop offset="0.9265" stop-color="#fbfac6"/><stop offset="0.9516" stop-color="#fbfac6"/><stop offset="0.9766" stop-color="#fbfac6"/><stop offset="1" stop-color="#fbfac6"/></linearGradient><linearGradient id="r40"><stop offset="0" stop-color="#f0d815"/><stop offset="0.025" stop-color="#f0d713"/><stop offset="0.0501" stop-color="#f0d611"/><stop offset="0.0751" stop-color="#f0d510"/><stop offset="0.1002" stop-color="#f0d510"/><stop offset="0.1252" stop-color="#f0d611"/><stop offset="0.1503" stop-color="#f0d712"/><stop offset="0.1753" stop-color="#f0d816"/><stop offset="0.2003" stop-color="#f0da1b"/><stop offset="0.2254" stop-color="#f0de22"/><stop offset="0.2504" stop-color="#f0e22c"/><stop offset="0.2755" stop-color="#f0e638"/><stop offset="0.3005" stop-color="#f1ea48"/><stop offset="0.3255" stop-color="#f2ee5a"/><stop offset="0.3506" stop-color="#f3f16b"/><stop offset="0.3756" stop-color="#f4f37e"/><stop offset="0.4007" stop-color="#f6f58f"/><stop offset="0.4257" stop-color="#f7f79e"/><stop offset="0.4508" stop-color="#f8f8aa"/><stop offset="0.4758" stop-color="#f9f9b5"/><stop offset="0.5008" stop-color="#faf9bc"/><stop offset="0.5259" stop-color="#fafac2"/><stop offset="0.5509" stop-color="#fbfac7"/><stop offset="0.576" stop-color="#fbfaca"/><stop offset="0.601" stop-color="#fbfacc"/><stop offset="0.626" stop-color="#fbfacc"/><stop offset="0.6511" stop-color="#fbfacc"/><stop offset="0.6761" stop-color="#fbfacc"/><stop offset="0.7012" stop-color="#fbfacb"/><stop offset="0.7262" stop-color="#fbfac9"/><stop offset="0.7513" stop-color="#fbfac8"/><stop offset="0.7763" stop-color="#fbfac7"/><stop offset="0.8013" stop-color="#fbfac7"/><stop offset="0.8264" stop-color="#fbfac7"/><stop offset="0.8514" stop-color="#fbfac7"/><stop offset="0.8765" stop-color="#fbfac7"/><stop offset="0.9015" stop-color="#fbfac7"/><stop offset="0.9265" stop-color="#fbfac7"/><stop offset="0.9516" stop-color="#fbfac7"/><stop offset="0.9766" stop-color="#fbfac7"/><stop offset="1" stop-color="#fbfac7"/></linearGradient><linearGradient id="r41"><stop offset="0" stop-color="#f0d714"/><stop offset="0.025" stop-color="#f0d612"/><stop offset="0.0501" stop-color="#f0d610"/><stop offset="0.0751" stop-color="#f0d510"/><stop offset="0.1002" stop-color="#f0d50f"/><stop offset="0.1252" stop-color="#f0d510"/><stop offset="0.1503" stop-color="#f0d612"/><stop offset="0.1753" stop-color="#f0d815"/><stop offset="0.2003" stop-color="#f0da1a"/><stop offset="0.2254" stop-color="#f0de22"/><stop offset="0.2504" stop-color="#f0e22b"/><stop offset="0.2755" stop-color="#f0e637"/><stop offset="0.3005" stop-color="#f1ea48"/><stop offset="0.3255" stop-color="#f2ee59"/><stop offset="0.3506" stop-color="#f3f16b"/><stop offset="0.3756" stop-color="#f4f37d"/><stop offset="0.4007" stop-color="#f6f58f"/><stop offset="0.4257" stop-color="#f7f79f"/><stop offset="0.4508" stop-color="#f8f8ab"/><stop offset="0.4758" stop-color="#f9f9b5"/><stop offset="0.5008" stop-color="#faf9bd"/><stop offset="0.5259" stop-color="#fafac3"/><stop offset="0.5509" stop-color="#fbfac7"/><stop offset="0.576" stop-color="#fbfaca"/><stop offset="0.601" stop-color="#fbfacc"/><stop offset="0.626" stop-color="#fbfacd"/><stop offset="0.6511" stop-color="#fbfacd"/><stop offset="0.6761" stop-color="#fbfacd"/><stop offset="0.7012" stop-color="#fbfacc"/><stop offset="0.7262" stop-color="#fbfaca"/><stop offset="0.7513" stop-color="#fbfac9"/><stop offset="0.7763" stop-color="#fbfac8"/><stop offset="0.8013" stop-color="#fbfac8"/><stop offset="0.8264" stop-color="#fbfac8"/><stop offset="0.8514" stop-color="#fbfac8"/><stop offset="0.8765" stop-color="#fbfac8"/><stop offset="0.9015" stop-color="#fbfac8"/><stop offset="0.9265" stop-color="#fbfac8"/><stop offset="0.9516" stop-color="#fbfac8"/><stop offset="0.9766" stop-color="#fbfac8"/><stop offset="1" stop-color="#fbfac8"/></linearGradient><linearGradient id="r42"><stop offset="0" stop-color="#f0d714"/><stop offset="0.025" stop-color="#f0d611"/><stop offset="0.0501" stop-color="#f0d510"/><stop offset="0.0751" stop-color="#f0d50f"/><stop offset="0.1002" stop-color="#f0d50f"/><stop offset="0.1252" stop-color="#f0d50f"/><stop offset="0.1503" stop-color="#f0d611"/><stop offset="0.1753" stop-color="#f0d714"/><stop offset="0.2003" stop-color="#f0da1a"/><stop offset="0.2254" stop-color="#f0dd21"/><stop offset="0.2504" stop-color="#f0e22b"/><stop offset="0.2755" stop-color="#f0e637"/><stop offset="0.3005" stop-color="#f1ea47"/><stop offset="0.3255" stop-color="#f2ee59"/><stop offset="0.3506" stop-color="#f3f16b"/><stop offset="0.3756" stop-color="#f4f37d"/><stop offset="0.4007" stop-color="#f6f58f"/><stop offset="0.4257" stop-color="#f7f79f"/><stop offset="0.4508" stop-color="#f8f8ab"/><stop offset="0.4758" stop-color="#f9f9b6"/><stop offset="0.5008" stop-color="#faf9be"/><stop offset="0.5259" stop-color="#fbfac3"/><stop offset="0.5509" stop-color="#fbfac8"/><stop offset="0.576" stop-color="#fbfacb"/><stop offset="0.601" stop-color="#fbfacd"/><stop offset="0.626" stop-color="#fbface"/><stop offset="0.6511" stop-color="#fbface"/><stop offset="0.6761" stop-color="#fbface"/><stop offset="0.7012" stop-color="#fbfacd"/><stop offset="0.7262" stop-color="#fbfacb"/><stop offset="0.7513" stop-color="#fbfaca"/><stop offset="0.7763" stop-color="#fbfac9"/><stop offset="0.8013" stop-color="#fbfac8"/><stop offset="0.8264" stop-color="#fbfac8"/><stop offset="0.8514" stop-color="#fbfac8"/><stop offset="0.8765" stop-color="#fbfac9"/><stop offset="0.9015" stop-color="#fbfac9"/><stop offset="0.9265" stop-color="#fbfac9"/><stop offset="0.9516" stop-color="#fbfac9"/><stop offset="0.9766" stop-color="#fbfac9"/><stop offset="1" stop-color="#fbfac8"/></linearGradient><linearGradient id="r43"><stop offset="0" stop-color="#f0d713"/><stop offset="0.025" stop-color="#f0d611"/><stop offset="0.0501" stop-color="#f0d50f"/><stop offset="0.0751" stop-color="#f0d50e"/><stop offset="0.1002" stop-color="#f0d50e"/><stop offset="0.1252" stop-color="#f0d50f"/><stop offset="0.1503" stop-color="#f0d610"/><stop offset="0.1753" stop-color="#f0d714"/><stop offset="0.2003" stop-color="#f0da19"/><stop offset="0.2254" stop-color="#f0dd21"/><stop offset="0.2504" stop-color="#f0e12a"/><stop offset="0.2755" stop-color="#f0e636"/><stop offset="0.3005" stop-color="#f1ea47"/><stop offset="0.3255" stop-color="#f2ed58"/><stop offset="0.3506" stop-color="#f3f16b"/><stop offset="0.3756" stop-color="#f4f37d"/><stop offset="0.4007" stop-color="#f6f68f"/><stop offset="0.4257" stop-color="#f7f79f"/><stop offset="0.4508" stop-color="#f8f8ac"/><stop offset="0.4758" stop-color="#f9f9b6"/><stop offset="0.5008" stop-color="#faf9be"/><stop offset="0.5259" stop-color="#fbfac4"/><stop offset="0.5509" stop-color="#fbfac9"/><stop offset="0.576" stop-color="#fbfacc"/><stop offset="0.601" stop-color="#fbface"/><stop offset="0.626" stop-color="#fbfbcf"/><stop offset="0.6511" stop-color="#fbfbcf"/><stop offset="0.6761" stop-color="#fbfbcf"/><stop offset="0.7012" stop-color="#fbfacd"/><stop offset="0.7262" stop-color="#fbfacc"/><stop offset="0.7513" stop-color="#fbfacb"/><stop offset="0.7763" stop-color="#fbfaca"/><stop offset="0.8013" stop-color="#fbfac9"/><stop offset="0.8264" stop-color="#fbfac9"/><stop offset="0.8514" stop-color="#fbfac9"/><stop offset="0.8765" stop-color="#fbfac9"/><stop offset="0.9015" stop-color="#fbfaca"/><stop offset="0.9265" stop-color="#fbfaca"/><stop offset="0.9516" stop-color="#fbfaca"/><stop offset="0.9766" stop-color="#fbfac9"/><stop offset="1" stop-color="#fbfac9"/></linearGradient><linearGradient id="r44"><stop offset="0" stop-color="#f0d612"/><stop offset="0.025" stop-color="#f0d510"/><stop offset="0.0501" stop-color="#f0d50e"/><stop offset="0.0751" stop-color="#f0d40e"/><stop offset="0.1002" stop-color="#f0d40e"/><stop offset="0.1252" stop-color="#f0d50e"/><stop offset="0.1503" stop-color="#f0d510"/><stop offset="0.1753" stop-color="#f0d713"/><stop offset="0.2003" stop-color="#f0d919"/><stop offset="0.2254" stop-color="#f0dd20"/><stop offset="0.2504" stop-color="#f0e12a"/><stop offset="0.2755" stop-color="#f0e636"/><stop offset="0.3005" stop-color="#f1ea47"/><stop offset="0.3255" stop-color="#f2ed58"/><stop offset="0.3506" stop-color="#f3f16a"/><stop offset="0.3756" stop-color="#f4f37d"/><stop offset="0.4007" stop-color="#f6f690"/><stop offset="0.4257" stop-color="#f7f7a0"/><stop offset="0.4508" stop-color="#f8f8ac"/><stop offset="0.4758" stop-color="#f9f9b7"/><stop offset="0.5008" stop-color="#faf9bf"/><stop offset="0.5259" stop-color="#fbfac5"/><stop offset="0.5509" stop-color="#fbfac9"/><stop offset="0.576" stop-color="#fbfacd"/><stop offset="0.601" stop-color="#fbfbcf"/><stop offset="0.626" stop-color="#fcfbd0"/><stop offset="0.6511" stop-color="#fcfbd0"/><stop offset="0.6761" stop-color="#fbfbcf"/><stop offset="0.7012" stop-color="#fbface"/><stop offset="0.7262" stop-color="#fbfacd"/><stop offset="0.7513" stop-color="#fbfacc"/><stop offset="0.7763" stop-color="#fbfacb"/><stop offset="0.8013" stop-color="#fbfaca"/><stop offset="0.8264" stop-color="#fbfaca"/><stop offset="0.8514" stop-color="#fbfaca"/><stop offset="0.8765" stop-color="#fbfaca"/><stop offset="0.9015" stop-color="#fbfaca"/><stop offset="0.9265" stop-color="#fbfaca"/><stop offset="0.9516" stop-color="#fbfaca"/><stop offset="0.9766" stop-color="#fbfaca"/><stop offset="1" stop-color="#fbfaca"/></linearGradient><linearGradient id="r45"><stop offset="0" stop-color="#f0d612"/><stop offset="0.025" stop-color="#f0d50f"/><stop offset="0.0501" stop-color="#f0d40e"/><stop offset="0.0751" stop-color="#f0d40d"/><stop offset="0.1002" stop-color="#f0d40d"/><stop offset="0.1252" stop-color="#f0d40e"/><stop offset="0.1503" stop-color="#f0d50f"/><stop offset="0.1753" stop-color="#f0d713"/><stop offset="0.2003" stop-color="#f0d918"/><stop offset="0.2254" stop-color="#f0dd20"/><stop offset="0.2504" stop-color="#f0e129"/><stop offset="0.2755" stop-color="#f0e636"/><stop offset="0.3005" stop-color="#f1e946"/><stop offset="0.3255" stop-color="#f2ed58"/><stop offset="0.3506" stop-color="#f3f16a"/><stop offset="0.3756" stop-color="#f4f37d"/><stop offset="0.4007" stop-color="#f6f690"/><stop offset="0.4257" stop-color="#f7f7a0"/><stop offset="0.4508" stop-color="#f9f8ad"/><stop offset="0.4758" stop-color="#f9f9b7"/><stop offset="0.5008" stop-color="#faf9c0"/><stop offset="0.5259" stop-color="#fbfac5"/><stop offset="0.5509" stop-color="#fbfaca"/><stop offset="0.576" stop-color="#fbface"/><stop offset="0.601" stop-color="#fcfbd0"/><stop offset="0.626" stop-color="#fcfbd1"/><stop offset="0.6511" stop-color="#fcfbd1"/><stop offset="0.6761" stop-color="#fcfbd0"/><stop offset="0.7012" stop-color="#fbfbcf"/><stop offset="0.7262" stop-color="#fbface"/><stop offset="0.7513" stop-color="#fbfacd"/><stop offset="0.7763" stop-color="#fbfacc"/><stop offset="0.8013" stop-color="#fbfacb"/><stop offset="0.8264" stop-color="#fbfacb"/><stop offset="0.8514" stop-color="#fbfacb"/><stop offset="0.8765" stop-color="#fbfacb"/><stop offset="0.9015" stop-color="#fbfacb"/><stop offset="0.9265" stop-color="#fbfacb"/><stop offset="0.9516" stop-color="#fbfacb"/><stop offset="0.9766" stop-color="#fbfacb"/><stop offset="1" stop-color="#fbfacb"/></linearGradient><linearGradient id="r46"><stop offset="0" stop-color="#f0d611"/><stop offset="0.025" stop-color="#f0d50f"/><stop offset="0.0501" stop-color="#f0d40d"/><stop offset="0.0751" stop-color="#f0d40d"/><stop offset="0.1002" stop-color="#f0d40d"/><stop offset="0.1252" stop-color="#f0d40d"/><stop offset="0.1503" stop-color="#f0d50f"/><stop offset="0.1753" stop-color="#f0d612"/><stop offset="0.2003" stop-color="#f0d918"/><stop offset="0.2254" stop-color="#f0dd20"/><stop offset="0.2504" stop-color="#f0e129"/><stop offset="0.2755" stop-color="#f0e635"/><stop offset="0.3005" stop-color="#f1e946"/><stop offset="0.3255" stop-color="#f2ed58"/><stop offset="0.3506" stop-color="#f3f16a"/><stop offset="0.3756" stop-color="#f4f37e"/><stop offset="0.4007" stop-color="#f6f690"/><stop offset="0.4257" stop-color="#f7f7a0"/><stop offset="0.4508" stop-color="#f9f8ad"/><stop offset="0.4758" stop-color="#faf9b8"/><stop offset="0.5008" stop-color="#faf9c0"/><stop offset="0.5259" stop-color="#fbfac6"/><stop offset="0.5509" stop-color="#fbfacb"/><stop offset="0.576" stop-color="#fbfbcf"/><stop offset="0.601" stop-color="#fcfbd1"/><stop offset="0.626" stop-color="#fcfbd2"/><stop offset="0.6511" stop-color="#fcfbd2"/><stop offset="0.6761" stop-color="#fcfbd1"/><stop offset="0.7012" stop-color="#fcfbd0"/><stop offset="0.7262" stop-color="#fbfbcf"/><stop offset="0.7513" stop-color="#fbfacd"/><stop offset="0.7763" stop-color="#fbfacc"/><stop offset="0.8013" stop-color="#fbfacc"/><stop offset="0.8264" stop-color="#fbfacb"/><stop offset="0.8514" stop-color="#fbfacc"/><stop offset="0.8765" stop-color="#fbfacc"/><stop offset="0.9015" stop-color="#fbfacc"/><stop offset="0.9265" stop-color="#fbfacc"/><stop offset="0.9516" stop-color="#fbfacc"/><stop offset="0.9766" stop-color="#fbfacc"/><stop offset="1" stop-color="#fbfacc"/></linearGradient><linearGradient id="r47"><stop offset="0" stop-color="#f0d611"/><stop offset="0.025" stop-color="#f0d50e"/><stop offset="0.0501" stop-color="#f0d40d"/><stop offset="0.0751" stop-color="#f0d30d"/><stop offset="0.1002" stop-color="#f0d30d"/><stop offset="0.1252" stop-color="#f0d40d"/><stop offset="0.1503" stop-color="#f0d50e"/><stop offset="0.1753" stop-color="#f0d612"/><stop offset="0.2003" stop-color="#f0d917"/><stop offset="0.2254" stop-color="#f0dc1f"/><stop offset="0.2504" stop-color="#f0e129"/><stop offset="0.2755" stop-color="#f0e635"/><stop offset="0.3005" stop-color="#f1e946"/><stop offset="0.3255" stop-color="#f2ed58"/><stop offset="0.3506" stop-color="#f3f16a"/><stop offset="0.3756" stop-color="#f4f37e"/><stop offset="0.4007" stop-color="#f6f690"/><stop offset="0.4257" stop-color="#f7f7a1"/><stop offset="0.4508" stop-color="#f9f8ae"/><stop offset="0.4758" stop-color="#faf9b9"/><stop offset="0.5008" stop-color="#faf9c1"/><stop offset="0.5259" stop-color="#fbfac7"/><stop offset="0.5509" stop-color="#fbfacc"/><stop offset="0.576" stop-color="#fbfbd0"/><stop offset="0.601" stop-color="#fcfbd2"/><stop offset="0.626" stop-color="#fcfbd3"/><stop offset="0.6511" stop-color="#fcfbd3"/><stop offset="0.6761" stop-color="#fcfbd2"/><stop offset="0.7012" stop-color="#fcfbd1"/><stop offset="0.7262" stop-color="#fbfbd0"/><stop offset="0.7513" stop-color="#fbface"/><stop offset="0.7763" stop-color="#fbfacd"/><stop offset="0.8013" stop-color="#fbfacc"/><stop offset="0.8264" stop-color="#fbfacc"/><stop offset="0.8514" stop-color="#fbfacc"/><stop offset="0.8765" stop-color="#fbfacd"/><stop offset="0.9015" stop-color="#fbfacd"/><stop offset="0.9265" stop-color="#fbfacd"/><stop offset="0.9516" stop-color="#fbfacd"/><stop offset="0.9766" stop-color="#fbfacc"/><stop offset="1" stop-color="#fbfacc"/></linearGradient><linearGradient id="r48"><stop offset="0" stop-color="#f0d610"/><stop offset="0.025" stop-color="#f0d40e"/><stop offset="0.0501" stop-color="#f0d40d"/><stop offset="0.0751" stop-color="#f0d30d"/><stop offset="0.1002" stop-color="#f0d30d"/><stop offset="0.1252" stop-color="#f0d40d"/><stop offset="0.1503" stop-color="#f0d40e"/><stop offset="0.1753" stop-color="#f0d611"/><stop offset="0.2003" stop-color="#f0d917"/><stop offset="0.2254" stop-color="#f0dc1f"/><stop offset="0.2504" stop-color="#f0e129"/><stop offset="0.2755" stop-color="#f0e635"/><stop offset="0.3005" stop-color="#f1e946"/><stop offset="0.3255" stop-color="#f2ed58"/><stop offset="0.3506" stop-color="#f3f16a"/><stop offset="0.3756" stop-color="#f4f37e"/><stop offset="0.4007" stop-color="#f6f691"/><stop offset="0.4257" stop-color="#f8f7a1"/><stop offset="0.4508" stop-color="#f9f8ae"/><stop offset="0.4758" stop-color="#faf9b9"/><stop offset="0.5008" stop-color="#fafac2"/><stop offset="0.5259" stop-color="#fbfac8"/><stop offset="0.5509" stop-color="#fbfacd"/><stop offset="0.576" stop-color="#fcfbd0"/><stop offset="0.601" stop-color="#fcfbd3"/><stop offset="0.626" stop-color="#fcfbd4"/><stop offset="0.6511" stop-color="#fcfbd4"/><stop offset="0.6761" stop-color="#fcfbd3"/><stop offset="0.7012" stop-color="#fcfbd2"/><stop offset="0.7262" stop-color="#fcfbd0"/><stop offset="0.7513" stop-color="#fbfbcf"/><stop offset="0.7763" stop-color="#fbface"/><stop offset="0.8013" stop-color="#fbfacd"/><stop offset="0.8264" stop-color="#fbfacd"/><stop offset="0.8514" stop-color="#fbfacd"/><stop offset="0.8765" stop-color="#fbfacd"/><stop offset="0.9015" stop-color="#fbfacd"/><stop offset="0.9265" stop-color="#fbfacd"/><stop offset="0.9516" stop-color="#fbfacd"/><stop offset="0.9766" stop-color="#fbfacd"/><stop offset="1" stop-color="#fbfacd"/></linearGradient><linearGradient id="r49"><stop offset="0" stop-color="#f0d510"/><stop offset="0.025" stop-color="#f0d40e"/><stop offset="0.0501" stop-color="#f0d30d"/><stop offset="0.0751" stop-color="#f0d30d"/><stop offset="0.1002" stop-color="#f0d30d"/><stop offset="0.1252" stop-color="#f0d30d"/><stop offset="0.1503" stop-color="#f0d40e"/><stop offset="0.1753" stop-color="#f0d611"/><stop offset="0.2003" stop-color="#f0d817"/><stop offset="0.2254" stop-color="#f0dc1f"/><stop offset="0.2504" stop-color="#f0e128"/><stop offset="0.2755" stop-color="#f0e635"/><stop offset="0.3005" stop-color="#f1e946"/><stop offset="0.3255" stop-color="#f2ed58"/><stop offset="0.3506" stop-color="#f3f16a"/><stop offset="0.3756" stop-color="#f4f37e"/><stop offset="0.4007" stop-color="#f6f691"/><stop offset="0.4257" stop-color="#f8f7a1"/><stop offset="0.4508" stop-color="#f9f8af"/><stop offset="0.4758" stop-color="#faf9ba"/><stop offset="0.5008" stop-color="#fafac2"/><stop offset="0.5259" stop-color="#fbfac8"/><stop offset="0.5509" stop-color="#fbface"/><stop offset="0.576" stop-color="#fcfbd1"/><stop offset="0.601" stop-color="#fcfbd3"/><stop offset="0.626" stop-color="#fcfbd4"/><stop offset="0.6511" stop-color="#fcfbd4"/><stop offset="0.6761" stop-color="#fcfbd4"/><stop offset="0.7012" stop-color="#fcfbd2"/><stop offset="0.7262" stop-color="#fcfbd1"/><stop offset="0.7513" stop-color="#fbfbd0"/><stop offset="0.7763" stop-color="#fbfbcf"/><stop offset="0.8013" stop-color="#fbface"/><stop offset="0.8264" stop-color="#fbface"/><stop offset="0.8514" stop-color="#fbface"/><stop offset="0.8765" stop-color="#fbface"/><stop offset="0.9015" stop-color="#fbface"/><stop offset="0.9265" stop-color="#fbface"/><stop offset="0.9516" stop-color="#fbface"/><stop offset="0.9766" stop-color="#fbface"/><stop offset="1" stop-color="#fbface"/></linearGradient><linearGradient id="r50"><stop offset="0" stop-color="#f0d510"/><stop offset="0.025" stop-color="#f0d40d"/><stop offset="0.0501" stop-color="#f0d30d"/><stop offset="0.0751" stop-color="#f0d30d"/><stop offset="0.1002" stop-color="#f0d30d"/><stop offset="0.1252" stop-color="#f0d30d"/><stop offset="0.1503" stop-color="#f0d40d"/><stop offset="0.1753" stop-color="#f0d611"/><stop offset="0.2003" stop-color="#f0d817"/><stop offset="0.2254" stop-color="#f0dc1f"/><stop offset="0.2504" stop-color="#f0e128"/><stop offset="0.2755" stop-color="#f0e634"/><stop offset="0.3005" stop-color="#f1e946"/><stop offset="0.3255" stop-color="#f2ed58"/><stop offset="0.3506" stop-color="#f3f16b"/><stop offset="0.3756" stop-color="#f4f37f"/><stop offset="0.4007" stop-color="#f6f692"/><stop offset="0.4257" stop-color="#f8f7a2"/><stop offset="0.4508" stop-color="#f9f8af"/><stop offset="0.4758" stop-color="#faf9bb"/><stop offset="0.5008" stop-color="#fafac3"/><stop offset="0.5259" stop-color="#fbfac9"/><stop offset="0.5509" stop-color="#fbfbcf"/><stop offset="0.576" stop-color="#fcfbd2"/><stop offset="0.601" stop-color="#fcfbd4"/><stop offset="0.626" stop-color="#fcfbd5"/><stop offset="0.6511" stop-color="#fcfbd5"/><stop offset="0.6761" stop-color="#fcfbd4"/><stop offset="0.7012" stop-color="#fcfbd3"/><stop offset="0.7262" stop-color="#fcfbd2"/><stop offset="0.7513" stop-color="#fcfbd0"/><stop offset="0.7763" stop-color="#fbfbcf"/><stop offset="0.8013" stop-color="#fbface"/><stop offset="0.8264" stop-color="#fbface"/><stop offset="0.8514" stop-color="#fbfbce"/><stop offset="0.8765" stop-color="#fbfbcf"/><stop offset="0.9015" stop-color="#fbfbcf"/><stop offset="0.9265" stop-color="#fbfbcf"/><stop offset="0.9516" stop-color="#fbfbcf"/><stop offset="0.9766" stop-color="#fbface"/><stop offset="1" stop-color="#fbface"/></linearGradient><linearGradient id="r51"><stop offset="0" stop-color="#f0d510"/><stop offset="0.025" stop-color="#f0d40d"/><stop offset="0.0501" stop-color="#f0d30d"/><stop offset="0.0751" stop-color="#f0d30d"/><stop offset="0.1002" stop-color="#f0d30d"/><stop offset="0.1252" stop-color="#f0d30d"/><stop offset="0.1503" stop-color="#f0d40d"/><stop offset="0.1753" stop-color="#f0d611"/><stop offset="0.2003" stop-color="#f0d816"/><stop offset="0.2254" stop-color="#f0dc1e"/><stop offset="0.2504" stop-color="#f0e128"/><stop offset="0.2755" stop-color="#f0e634"/><stop offset="0.3005" stop-color="#f1e946"/><stop offset="0.3255" stop-color="#f2ed58"/><stop offset="0.3506" stop-color="#f3f16b"/><stop offset="0.3756" stop-color="#f4f37f"/><stop offset="0.4007" stop-color="#f6f692"/><stop offset="0.4257" stop-color="#f8f7a2"/><stop offset="0.4508" stop-color="#f9f8b0"/><stop offset="0.4758" stop-color="#faf9bb"/><stop offset="0.5008" stop-color="#fbfac4"/><stop offset="0.5259" stop-color="#fbfaca"/><stop offset="0.5509" stop-color="#fbfbd0"/><stop offset="0.576" stop-color="#fcfbd3"/><stop offset="0.601" stop-color="#fcfbd5"/><stop offset="0.626" stop-color="#fcfbd6"/><stop offset="0.6511" stop-color="#fcfbd6"/><stop offset="0.6761" stop-color="#fcfbd5"/><stop offset="0.7012" stop-color="#fcfbd4"/><stop offset="0.7262" stop-color="#fcfbd2"/><stop offset="0.7513" stop-color="#fcfbd1"/><stop offset="0.7763" stop-color="#fcfbd0"/><stop offset="0.8013" stop-color="#fbfbcf"/><stop offset="0.8264" stop-color="#fbfbcf"/><stop offset="0.8514" stop-color="#fbfbcf"/><stop offset="0.8765" stop-color="#fbfbcf"/><stop offset="0.9015" stop-color="#fbfbcf"/><stop offset="0.9265" stop-color="#fbfbcf"/><stop offset="0.9516" stop-color="#fbfbcf"/><stop offset="0.9766" stop-color="#fbfbcf"/><stop offset="1" stop-color="#fbfbcf"/></linearGradient><linearGradient id="r52"><stop offset="0" stop-color="#f0d510"/><stop offset="0.025" stop-color="#f0d40d"/><stop offset="0.0501" stop-color="#f0d30d"/><stop offset="0.0751" stop-color="#f0d30d"/><stop offset="0.1002" stop-color="#f0d20d"/><stop offset="0.1252" stop-color="#f0d30d"/><stop offset="0.1503" stop-color="#f0d40d"/><stop offset="0.1753" stop-color="#f0d610"/><stop offset="0.2003" stop-color="#f0d816"/><stop offset="0.2254" stop-color="#f0dc1e"/><stop offset="0.2504" stop-color="#f0e128"/><stop offset="0.2755" stop-color="#f0e635"/><stop offset="0.3005" stop-color="#f1e946"/><stop offset="0.3255" stop-color="#f2ed58"/><stop offset="0.3506" stop-color="#f3f16b"/><stop offset="0.3756" stop-color="#f4f37f"/><stop offset="0.4007" stop-color="#f6f693"/><stop offset="0.4257" stop-color="#f8f8a3"/><stop offset="0.4508" stop-color="#f9f8b1"/><stop offset="0.4758" stop-color="#faf9bc"/><stop offset="0.5008" stop-color="#fbfac5"/><stop offset="0.5259" stop-color="#fbfacb"/><stop offset="0.5509" stop-color="#fcfbd1"/><stop offset="0.576" stop-color="#fcfbd4"/><stop offset="0.601" stop-color="#fcfbd6"/><stop offset="0.626" stop-color="#fcfbd7"/><stop offset="0.6511" stop-color="#fcfbd7"/><stop offset="0.6761" stop-color="#fcfbd6"/><stop offset="0.7012" stop-color="#fcfbd5"/><stop offset="0.7262" stop-color="#fcfbd3"/><stop offset="0.7513" stop-color="#fcfbd2"/><stop offset="0.7763" stop-color="#fcfbd0"/><stop offset="0.8013" stop-color="#fbfbcf"/><stop offset="0.8264" stop-color="#fbfbcf"/><stop offset="0.8514" stop-color="#fbfbcf"/><stop offset="0.8765" stop-color="#fbfbd0"/><stop offset="0.9015" stop-color="#fbfbd0"/><stop offset="0.9265" stop-color="#fbfbd0"/><stop offset="0.9516" stop-color="#fbfbd0"/><stop offset="0.9766" stop-color="#fbfbcf"/><stop offset="1" stop-color="#fbfbcf"/></linearGradient><linearGradient id="r53"><stop offset="0" stop-color="#f0d50f"/><stop offset="0.025" stop-color="#f0d40d"/><stop offset="0.0501" stop-color="#f0d30d"/><stop offset="0.0751" stop-color="#f0d20d"/><stop offset="0.1002" stop-color="#f0d20d"/><stop offset="0.1252" stop-color="#f0d30d"/><stop offset="0.1503" stop-color="#f0d40d"/><stop offset="0.1753" stop-color="#f0d610"/><stop offset="0.2003" stop-color="#f0d816"/><stop offset="0.2254" stop-color="#f0dc1e"/><stop offset="0.2504" stop-color="#f0e128"/><stop offset="0.2755" stop-color="#f0e635"/><stop offset="0.3005" stop-color="#f1e946"/><stop offset="0.3255" stop-color="#f2ee59"/><stop offset="0.3506" stop-color="#f3f16c"/><stop offset="0.3756" stop-color="#f5f480"/><stop offset="0.4007" stop-color="#f6f693"/><stop offset="0.4257" stop-color="#f8f8a4"/><stop offset="0.4508" stop-color="#f9f8b2"/><stop offset="0.4758" stop-color="#faf9bd"/><stop offset="0.5008" stop-color="#fbfac6"/><stop offset="0.5259" stop-color="#fbfacc"/><stop offset="0.5509" stop-color="#fcfbd2"/><stop offset="0.576" stop-color="#fcfbd5"/><stop offset="0.601" stop-color="#fcfbd7"/><stop offset="0.626" stop-color="#fcfbd8"/><stop offset="0.6511" stop-color="#fcfbd8"/><stop offset="0.6761" stop-color="#fcfbd7"/><stop offset="0.7012" stop-color="#fcfbd5"/><stop offset="0.7262" stop-color="#fcfbd4"/><stop offset="0.7513" stop-color="#fcfbd2"/><stop offset="0.7763" stop-color="#fcfbd1"/><stop offset="0.8013" stop-color="#fcfbd0"/><stop offset="0.8264" stop-color="#fbfbd0"/><stop offset="0.8514" stop-color="#fcfbd0"/><stop offset="0.8765" stop-color="#fcfbd0"/><stop offset="0.9015" stop-color="#fcfbd0"/><stop offset="0.9265" stop-color="#fcfbd0"/><stop offset="0.9516" stop-color="#fcfbd0"/><stop offset="0.9766" stop-color="#fbfbd0"/><stop offset="1" stop-color="#fbfbcf"/></linearGradient><linearGradient id="r54"><stop offset="0" stop-color="#f0d510"/><stop offset="0.025" stop-color="#f0d40d"/><stop offset="0.0501" stop-color="#f0d30d"/><stop offset="0.0751" stop-color="#f0d20d"/><stop offset="0.1002" stop-color="#f0d20d"/><stop offset="0.1252" stop-color="#f0d30d"/><stop offset="0.1503" stop-color="#f0d40d"/><stop offset="0.1753" stop-color="#f0d610"/><stop offset="0.2003" stop-color="#f0d816"/><stop offset="0.2254" stop-color="#f0dc1f"/><stop offset="0.2504" stop-color="#f0e129"/><stop offset="0.2755" stop-color="#f0e635"/><stop offset="0.3005" stop-color="#f1ea47"/><stop offset="0.3255" stop-color="#f2ee59"/><stop offset="0.3506" stop-color="#f3f16d"/><stop offset="0.3756" stop-color="#f5f481"/><stop offset="0.4007" stop-color="#f6f694"/><stop offset="0.4257" stop-color="#f8f8a4"/><stop offset="0.4508" stop-color="#f9f9b2"/><stop offset="0.4758" stop-color="#faf9be"/><stop offset="0.5008" stop-color="#fbfac7"/><stop offset="0.5259" stop-color="#fbfacd"/><stop offset="0.5509" stop-color="#fcfbd3"/><stop offset="0.576" stop-color="#fcfbd6"/><stop offset="0.601" stop-color="#fcfbd8"/><stop offset="0.626" stop-color="#fcfbd9"/><stop offset="0.6511" stop-color="#fcfbd8"/><stop offset="0.6761" stop-color="#fcfbd7"/><stop offset="0.7012" stop-color="#fcfbd6"/><stop offset="0.7262" stop-color="#fcfbd4"/><stop offset="0.7513" stop-color="#fcfbd3"/><stop offset="0.7763" stop-color="#fcfbd1"/><stop offset="0.8013" stop-color="#fcfbd0"/><stop offset="0.8264" stop-color="#fcfbd0"/><stop offset="0.8514" stop-color="#fcfbd0"/><stop offset="0.8765" stop-color="#fcfbd0"/><stop offset="0.9015" stop-color="#fcfbd0"/><stop offset="0.9265" stop-color="#fcfbd0"/><stop offset="0.9516" stop-color="#fcfbd0"/><stop offset="0.9766" stop-color="#fcfbd0"/><stop offset="1" stop-color="#fcfbd0"/></linearGradient><linearGradient id="r55"><stop offset="0" stop-color="#f0d510"/><stop offset="0.025" stop-color="#f0d40d"/><stop offset="0.0501" stop-color="#f0d30d"/><stop offset="0.0751" stop-color="#f0d30d"/><stop offset="0.1002" stop-color="#f0d20d"/><stop offset="0.1252" stop-color="#f0d30d"/><stop offset="0.1503" stop-color="#f0d40d"/><stop offset="0.1753" stop-color="#f0d611"/><stop offset="0.2003" stop-color="#f0d817"/><stop offset="0.2254" stop-color="#f0dc1f"/><stop offset="0.2504" stop-color="#f0e129"/><stop offset="0.2755" stop-color="#f0e636"/><stop offset="0.3005" stop-color="#f1ea47"/><stop offset="0.3255" stop-color="#f2ee5a"/><stop offset="0.3506" stop-color="#f3f16d"/><stop offset="0.3756" stop-color="#f5f481"/><stop offset="0.4007" stop-color="#f6f695"/><stop offset="0.4257" stop-color="#f8f8a5"/><stop offset="0.4508" stop-color="#f9f9b3"/><stop offset="0.4758" stop-color="#faf9bf"/><stop offset="0.5008" stop-color="#fbfac8"/><stop offset="0.5259" stop-color="#fbfbce"/><stop offset="0.5509" stop-color="#fcfbd4"/><stop offset="0.576" stop-color="#fcfbd7"/><stop offset="0.601" stop-color="#fcfbd9"/><stop offset="0.626" stop-color="#fcfcda"/><stop offset="0.6511" stop-color="#fcfbd9"/><stop offset="0.6761" stop-color="#fcfbd8"/><stop offset="0.7012" stop-color="#fcfbd7"/><stop offset="0.7262" stop-color="#fcfbd5"/><stop offset="0.7513" stop-color="#fcfbd3"/><stop offset="0.7763" stop-color="#fcfbd2"/><stop offset="0.8013" stop-color="#fcfbd1"/><stop offset="0.8264" stop-color="#fcfbd0"/><stop offset="0.8514" stop-color="#fcfbd0"/><stop offset="0.8765" stop-color="#fcfbd1"/><stop offset="0.9015" stop-color="#fcfbd1"/><stop offset="0.9265" stop-color="#fcfbd1"/><stop offset="0.9516" stop-color="#fcfbd0"/><stop offset="0.9766" stop-color="#fcfbd0"/><stop offset="1" stop-color="#fcfbd0"/></linearGradient><linearGradient id="r56"><stop offset="0" stop-color="#f0d510"/><stop offset="0.025" stop-color="#f0d40d"/><stop offset="0.0501" stop-color="#f0d30d"/><stop offset="0.0751" stop-color="#f0d30d"/><stop offset="0.1002" stop-color="#f0d30d"/><stop offset="0.1252" stop-color="#f0d30d"/><stop offset="0.1503" stop-color="#f0d40d"/><stop offset="0.1753" stop-color="#f0d611"/><stop offset="0.2003" stop-color="#f0d917"/><stop offset="0.2254" stop-color="#f0dc1f"/><stop offset="0.2504" stop-color="#f0e129"/><stop offset="0.2755" stop-color="#f0e636"/><stop offset="0.3005" stop-color="#f1ea48"/><stop offset="0.3255" stop-color="#f2ee5a"/><stop offset="0.3506" stop-color="#f3f16e"/><stop offset="0.3756" stop-color="#f5f482"/><stop offset="0.4007" stop-color="#f7f696"/><stop offset="0.4257" stop-color="#f8f8a6"/><stop offset="0.4508" stop-color="#f9f9b4"/><stop offset="0.4758" stop-color="#faf9c0"/><stop offset="0.5008" stop-color="#fbfac8"/><stop offset="0.5259" stop-color="#fbfbd0"/><stop offset="0.5509" stop-color="#fcfbd5"/><stop offset="0.576" stop-color="#fcfbd8"/><stop offset="0.601" stop-color="#fcfcda"/><stop offset="0.626" stop-color="#fcfcda"/><stop offset="0.6511" stop-color="#fcfcda"/><stop offset="0.6761" stop-color="#fcfbd9"/><stop offset="0.7012" stop-color="#fcfbd7"/><stop offset="0.7262" stop-color="#fcfbd5"/><stop offset="0.7513" stop-color="#fcfbd3"/><stop offset="0.7763" stop-color="#fcfbd2"/><stop offset="0.8013" stop-color="#fcfbd1"/><stop offset="0.8264" stop-color="#fcfbd0"/><stop offset="0.8514" stop-color="#fcfbd1"/><stop offset="0.8765" stop-color="#fcfbd1"/><stop offset="0.9015" stop-color="#fcfbd1"/><stop offset="0.9265" stop-color="#fcfbd1"/><stop offset="0.9516" stop-color="#fcfbd1"/><stop offset="0.9766" stop-color="#fcfbd0"/><stop offset="1" stop-color="#fcfbd0"/></linearGradient><linearGradient id="r57"><stop offset="0" stop-color="#f0d610"/><stop offset="0.025" stop-color="#f0d40e"/><stop offset="0.0501" stop-color="#f0d30d"/><stop offset="0.0751" stop-color="#f0d30d"/><stop offset="0.1002" stop-color="#f0d30d"/><stop offset="0.1252" stop-color="#f0d30d"/><stop offset="0.1503" stop-color="#f0d40e"/><stop offset="0.1753" stop-color="#f0d611"/><stop offset="0.2003" stop-color="#f0d917"/><stop offset="0.2254" stop-color="#f0dc1f"/><stop offset="0.2504" stop-color="#f0e12a"/><stop offset="0.2755" stop-color="#f0e637"/><stop offset="0.3005" stop-color="#f1ea48"/><stop offset="0.3255" stop-color="#f2ee5b"/><stop offset="0.3506" stop-color="#f3f16f"/><stop offset="0.3756" stop-color="#f5f483"/><stop offset="0.4007" stop-color="#f7f697"/><stop offset="0.4257" stop-color="#f8f8a7"/><stop offset="0.4508" stop-color="#f9f9b5"/><stop offset="0.4758" stop-color="#faf9c1"/><stop offset="0.5008" stop-color="#fbfac9"/><stop offset="0.5259" stop-color="#fcfbd1"/><stop offset="0.5509" stop-color="#fcfbd6"/><stop offset="0.576" stop-color="#fcfbd9"/><stop offset="0.601" stop-color="#fcfcdb"/><stop offset="0.626" stop-color="#fcfcdb"/><stop offset="0.6511" stop-color="#fcfcdb"/><stop offset="0.6761" stop-color="#fcfcd9"/><stop offset="0.7012" stop-color="#fcfbd8"/><stop offset="0.7262" stop-color="#fcfbd6"/><stop offset="0.7513" stop-color="#fcfbd4"/><stop offset="0.7763" stop-color="#fcfbd2"/><stop offset="0.8013" stop-color="#fcfbd1"/><stop offset="0.8264" stop-color="#fcfbd1"/><stop offset="0.8514" stop-color="#fcfbd1"/><stop offset="0.8765" stop-color="#fcfbd1"/><stop offset="0.9015" stop-color="#fcfbd1"/><stop offset="0.9265" stop-color="#fcfbd1"/><stop offset="0.9516" stop-color="#fcfbd1"/><stop offset="0.9766" stop-color="#fcfbd1"/><stop offset="1" stop-color="#fcfbd0"/></linearGradient><linearGradient id="r58"><stop offset="0" stop-color="#f0d611"/><stop offset="0.025" stop-color="#f0d50e"/><stop offset="0.0501" stop-color="#f0d40d"/><stop offset="0.0751" stop-color="#f0d30d"/><stop offset="0.1002" stop-color="#f0d30d"/><stop offset="0.1252" stop-color="#f0d30d"/><stop offset="0.1503" stop-color="#f0d40e"/><stop offset="0.1753" stop-color="#f0d612"/><stop offset="0.2003" stop-color="#f0d918"/><stop offset="0.2254" stop-color="#f0dd20"/><stop offset="0.2504" stop-color="#f0e12a"/><stop offset="0.2755" stop-color="#f0e637"/><stop offset="0.3005" stop-color="#f1ea49"/><stop offset="0.3255" stop-color="#f2ee5c"/><stop offset="0.3506" stop-color="#f3f270"/><stop offset="0.3756" stop-color="#f5f484"/><stop offset="0.4007" stop-color="#f7f798"/><stop offset="0.4257" stop-color="#f8f8a8"/><stop offset="0.4508" stop-color="#f9f9b6"/><stop offset="0.4758" stop-color="#fafac2"/><stop offset="0.5008" stop-color="#fbfacb"/><stop offset="0.5259" stop-color="#fcfbd2"/><stop offset="0.5509" stop-color="#fcfbd7"/><stop offset="0.576" stop-color="#fcfcda"/><stop offset="0.601" stop-color="#fcfcdc"/><stop offset="0.626" stop-color="#fcfcdc"/><stop offset="0.6511" stop-color="#fcfcdb"/><stop offset="0.6761" stop-color="#fcfcda"/><stop offset="0.7012" stop-color="#fcfbd8"/><stop offset="0.7262" stop-color="#fcfbd6"/><stop offset="0.7513" stop-color="#fcfbd4"/><stop offset="0.7763" stop-color="#fcfbd2"/><stop offset="0.8013" stop-color="#fcfbd1"/><stop offset="0.8264" stop-color="#fcfbd1"/><stop offset="0.8514" stop-color="#fcfbd1"/><stop offset="0.8765" stop-color="#fcfbd1"/><stop offset="0.9015" stop-color="#fcfbd1"/><stop offset="0.9265" stop-color="#fcfbd1"/><stop offset="0.9516" stop-color="#fcfbd1"/><stop offset="0.9766" stop-color="#fcfbd1"/><stop offset="1" stop-color="#fcfbd0"/></linearGradient><linearGradient id="r59"><stop offset="0" stop-color="#f0d611"/><stop offset="0.025" stop-color="#f0d50f"/><stop offset="0.0501" stop-color="#f0d40d"/><stop offset="0.0751" stop-color="#f0d30d"/><stop offset="0.1002" stop-color="#f0d30d"/><stop offset="0.1252" stop-color="#f0d40d"/><stop offset="0.1503" stop-color="#f0d50f"/><stop offset="0.1753" stop-color="#f0d612"/><stop offset="0.2003" stop-color="#f0d918"/><stop offset="0.2254" stop-color="#f0dd21"/><stop offset="0.2504" stop-color="#f0e22b"/><stop offset="0.2755" stop-color="#f0e638"/><stop offset="0.3005" stop-color="#f1ea4a"/><stop offset="0.3255" stop-color="#f2ee5d"/><stop offset="0.3506" stop-color="#f3f271"/><stop offset="0.3756" stop-color="#f5f486"/><stop offset="0.4007" stop-color="#f7f79a"/><stop offset="0.4257" stop-color="#f8f8a9"/><stop offset="0.4508" stop-color="#f9f9b7"/><stop offset="0.4758" stop-color="#fafac3"/><stop offset="0.5008" stop-color="#fbfacc"/><stop offset="0.5259" stop-color="#fcfbd3"/><stop offset="0.5509" stop-color="#fcfbd8"/><stop offset="0.576" stop-color="#fcfcdb"/><stop offset="0.601" stop-color="#fcfcdd"/><stop offset="0.626" stop-color="#fcfcdd"/><stop offset="0.6511" stop-color="#fcfcdc"/><stop offset="0.6761" stop-color="#fcfcdb"/><stop offset="0.7012" stop-color="#fcfbd9"/><stop offset="0.7262" stop-color="#fcfbd6"/><stop offset="0.7513" stop-color="#fcfbd4"/><stop offset="0.7763" stop-color="#fcfbd3"/><stop offset="0.8013" stop-color="#fcfbd1"/><stop offset="0.8264" stop-color="#fcfbd1"/><stop offset="0.8514" stop-color="#fcfbd1"/><stop offset="0.8765" stop-color="#fcfbd1"/><stop offset="0.9015" stop-color="#fcfbd1"/><stop offset="0.9265" stop-color="#fcfbd1"/><stop offset="0.9516" stop-color="#fcfbd1"/><stop offset="0.9766" stop-color="#fcfbd1"/><stop offset="1" stop-color="#fcfbd0"/></linearGradient><linearGradient id="r60"><stop offset="0" stop-color="#f0d612"/><stop offset="0.025" stop-color="#f0d50f"/><stop offset="0.0501" stop-color="#f0d40e"/><stop offset="0.0751" stop-color="#f0d40d"/><stop offset="0.1002" stop-color="#f0d40d"/><stop offset="0.1252" stop-color="#f0d40d"/><stop offset="0.1503" stop-color="#f0d50f"/><stop offset="0.1753" stop-color="#f0d713"/><stop offset="0.2003" stop-color="#f0d919"/><stop offset="0.2254" stop-color="#f0dd21"/><stop offset="0.2504" stop-color="#f0e22b"/><stop offset="0.2755" stop-color="#f0e739"/><stop offset="0.3005" stop-color="#f1eb4b"/><stop offset="0.3255" stop-color="#f2ef5e"/><stop offset="0.3506" stop-color="#f3f272"/><stop offset="0.3756" stop-color="#f5f487"/><stop offset="0.4007" stop-color="#f7f79b"/><stop offset="0.4257" stop-color="#f8f8ab"/><stop offset="0.4508" stop-color="#faf9b8"/><stop offset="0.4758" stop-color="#fbfac4"/><stop offset="0.5008" stop-color="#fbfacd"/><stop offset="0.5259" stop-color="#fcfbd4"/><stop offset="0.5509" stop-color="#fcfcd9"/><stop offset="0.576" stop-color="#fcfcdc"/><stop offset="0.601" stop-color="#fdfcde"/><stop offset="0.626" stop-color="#fdfcde"/><stop offset="0.6511" stop-color="#fcfcdd"/><stop offset="0.6761" stop-color="#fcfcdb"/><stop offset="0.7012" stop-color="#fcfbd9"/><stop offset="0.7262" stop-color="#fcfbd7"/><stop offset="0.7513" stop-color="#fcfbd5"/><stop offset="0.7763" stop-color="#fcfbd3"/><stop offset="0.8013" stop-color="#fcfbd1"/><stop offset="0.8264" stop-color="#fcfbd1"/><stop offset="0.8514" stop-color="#fcfbd1"/><stop offset="0.8765" stop-color="#fcfbd1"/><stop offset="0.9015" stop-color="#fcfbd1"/><stop offset="0.9265" stop-color="#fcfbd1"/><stop offset="0.9516" stop-color="#fcfbd1"/><stop offset="0.9766" stop-color="#fcfbd1"/><stop offset="1" stop-color="#fcfbd0"/></linearGradient><linearGradient id="r61"><stop offset="0" stop-color="#f0d713"/><stop offset="0.025" stop-color="#f0d510"/><stop offset="0.0501" stop-color="#f0d50e"/><stop offset="0.0751" stop-color="#f0d40d"/><stop offset="0.1002" stop-color="#f0d40d"/><stop offset="0.1252" stop-color="#f0d40e"/><stop offset="0.1503" stop-color="#f0d510"/><stop offset="0.1753" stop-color="#f0d714"/><stop offset="0.2003" stop-color="#f0da1a"/><stop offset="0.2254" stop-color="#f0de22"/><stop offset="0.2504" stop-color="#f0e22c"/><stop offset="0.2755" stop-color="#f0e73a"/><stop offset="0.3005" stop-color="#f1eb4c"/><stop offset="0.3255" stop-color="#f2ef5f"/><stop offset="0.3506" stop-color="#f3f274"/><stop offset="0.3756" stop-color="#f5f588"/><stop offset="0.4007" stop-color="#f7f79c"/><stop offset="0.4257" stop-color="#f8f8ac"/><stop offset="0.4508" stop-color="#faf9ba"/><stop offset="0.4758" stop-color="#fbfac5"/><stop offset="0.5008" stop-color="#fbfbcf"/><stop offset="0.5259" stop-color="#fcfbd6"/><stop offset="0.5509" stop-color="#fcfcdb"/><stop offset="0.576" stop-color="#fdfcdd"/><stop offset="0.601" stop-color="#fdfcdf"/><stop offset="0.626" stop-color="#fdfcdf"/><stop offset="0.6511" stop-color="#fdfcde"/><stop offset="0.6761" stop-color="#fcfcdc"/><stop offset="0.7012" stop-color="#fcfcda"/><stop offset="0.7262" stop-color="#fcfbd7"/><stop offset="0.7513" stop-color="#fcfbd5"/><stop offset="0.7763" stop-color="#fcfbd3"/><stop offset="0.8013" stop-color="#fcfbd1"/><stop offset="0.8264" stop-color="#fcfbd1"/><stop offset="0.8514" stop-color="#fcfbd1"/><stop offset="0.8765" stop-color="#fcfbd1"/><stop offset="0.9015" stop-color="#fcfbd1"/><stop offset="0.9265" stop-color="#fcfbd1"/><stop offset="0.9516" stop-color="#fcfbd1"/><stop offset="0.9766" stop-color="#fcfbd0"/><stop offset="1" stop-color="#fcfbd0"/></linearGradient><linearGradient id="r62"><stop offset="0" stop-color="#f0d713"/><stop offset="0.025" stop-color="#f0d611"/><stop offset="0.0501" stop-color="#f0d50f"/><stop offset="0.0751" stop-color="#f0d40e"/><stop offset="0.1002" stop-color="#f0d40e"/><stop offset="0.1252" stop-color="#f0d50f"/><stop offset="0.1503" stop-color="#f0d611"/><stop offset="0.1753" stop-color="#f0d714"/><stop offset="0.2003" stop-color="#f0da1b"/><stop offset="0.2254" stop-color="#f0de23"/><stop offset="0.2504" stop-color="#f0e32d"/><stop offset="0.2755" stop-color="#f0e73c"/><stop offset="0.3005" stop-color="#f1eb4e"/><stop offset="0.3255" stop-color="#f2ef60"/><stop offset="0.3506" stop-color="#f4f275"/><stop offset="0.3756" stop-color="#f5f58a"/><stop offset="0.4007" stop-color="#f7f79e"/><stop offset="0.4257" stop-color="#f9f8ad"/><stop offset="0.4508" stop-color="#faf9bb"/><stop offset="0.4758" stop-color="#fbfac7"/><stop offset="0.5008" stop-color="#fcfbd0"/><stop offset="0.5259" stop-color="#fcfbd7"/><stop offset="0.5509" stop-color="#fcfcdc"/><stop offset="0.576" stop-color="#fdfcdf"/><stop offset="0.601" stop-color="#fdfce0"/><stop offset="0.626" stop-color="#fdfce0"/><stop offset="0.6511" stop-color="#fdfcde"/><stop offset="0.6761" stop-color="#fcfcdc"/><stop offset="0.7012" stop-color="#fcfcda"/><stop offset="0.7262" stop-color="#fcfbd7"/><stop offset="0.7513" stop-color="#fcfbd5"/><stop offset="0.7763" stop-color="#fcfbd3"/><stop offset="0.8013" stop-color="#fcfbd1"/><stop offset="0.8264" stop-color="#fcfbd0"/><stop offset="0.8514" stop-color="#fcfbd0"/><stop offset="0.8765" stop-color="#fcfbd0"/><stop offset="0.9015" stop-color="#fcfbd0"/><stop offset="0.9265" stop-color="#fcfbd0"/><stop offset="0.9516" stop-color="#fcfbd0"/><stop offset="0.9766" stop-color="#fcfbd0"/><stop offset="1" stop-color="#fcfbd0"/></linearGradient><linearGradient id="r63"><stop offset="0" stop-color="#f0d714"/><stop offset="0.025" stop-color="#f0d612"/><stop offset="0.0501" stop-color="#f0d510"/><stop offset="0.0751" stop-color="#f0d50f"/><stop offset="0.1002" stop-color="#f0d50f"/><stop offset="0.1252" stop-color="#f0d50f"/><stop offset="0.1503" stop-color="#f0d611"/><stop offset="0.1753" stop-color="#f0d815"/><stop offset="0.2003" stop-color="#f0db1b"/><stop offset="0.2254" stop-color="#f0de24"/><stop offset="0.2504" stop-color="#f0e32e"/><stop offset="0.2755" stop-color="#f0e73d"/><stop offset="0.3005" stop-color="#f1eb4f"/><stop offset="0.3255" stop-color="#f2ef62"/><stop offset="0.3506" stop-color="#f4f277"/><stop offset="0.3756" stop-color="#f6f58c"/><stop offset="0.4007" stop-color="#f7f79f"/><stop offset="0.4257" stop-color="#f9f8af"/><stop offset="0.4508" stop-color="#faf9bd"/><stop offset="0.4758" stop-color="#fbfac8"/><stop offset="0.5008" stop-color="#fcfbd2"/><stop offset="0.5259" stop-color="#fcfbd9"/><stop offset="0.5509" stop-color="#fdfcdd"/><stop offset="0.576" stop-color="#fdfce0"/><stop offset="0.601" stop-color="#fdfce1"/><stop offset="0.626" stop-color="#fdfce1"/><stop offset="0.6511" stop-color="#fdfcdf"/><stop offset="0.6761" stop-color="#fcfcdd"/><stop offset="0.7012" stop-color="#fcfcdb"/><stop offset="0.7262" stop-color="#fcfbd8"/><stop offset="0.7513" stop-color="#fcfbd5"/><stop offset="0.7763" stop-color="#fcfbd3"/><stop offset="0.8013" stop-color="#fcfbd1"/><stop offset="0.8264" stop-color="#fcfbd0"/><stop offset="0.8514" stop-color="#fcfbd0"/><stop offset="0.8765" stop-color="#fcfbd0"/><stop offset="0.9015" stop-color="#fcfbd0"/><stop offset="0.9265" stop-color="#fcfbd0"/><stop offset="0.9516" stop-color="#fcfbd0"/><stop offset="0.9766" stop-color="#fcfbd0"/><stop offset="1" stop-color="#fcfbd0"/></linearGradient><linearGradient id="r64"><stop offset="0" stop-color="#f0d815"/><stop offset="0.025" stop-color="#f0d713"/><stop offset="0.0501" stop-color="#f0d611"/><stop offset="0.0751" stop-color="#f0d510"/><stop offset="0.1002" stop-color="#f0d510"/><stop offset="0.1252" stop-color="#f0d610"/><stop offset="0.1503" stop-color="#f0d612"/><stop offset="0.1753" stop-color="#f0d816"/><stop offset="0.2003" stop-color="#f0db1c"/><stop offset="0.2254" stop-color="#f0df25"/><stop offset="0.2504" stop-color="#f0e42f"/><stop offset="0.2755" stop-color="#f0e83e"/><stop offset="0.3005" stop-color="#f1ec50"/><stop offset="0.3255" stop-color="#f2f063"/><stop offset="0.3506" stop-color="#f4f378"/><stop offset="0.3756" stop-color="#f6f58d"/><stop offset="0.4007" stop-color="#f7f7a1"/><stop offset="0.4257" stop-color="#f9f8b0"/><stop offset="0.4508" stop-color="#faf9be"/><stop offset="0.4758" stop-color="#fbfaca"/><stop offset="0.5008" stop-color="#fcfbd4"/><stop offset="0.5259" stop-color="#fcfcda"/><stop offset="0.5509" stop-color="#fdfcdf"/><stop offset="0.576" stop-color="#fdfce1"/><stop offset="0.601" stop-color="#fdfce2"/><stop offset="0.626" stop-color="#fdfce2"/><stop offset="0.6511" stop-color="#fdfce0"/><stop offset="0.6761" stop-color="#fdfcde"/><stop offset="0.7012" stop-color="#fcfcdb"/><stop offset="0.7262" stop-color="#fcfbd8"/><stop offset="0.7513" stop-color="#fcfbd5"/><stop offset="0.7763" stop-color="#fcfbd3"/><stop offset="0.8013" stop-color="#fcfbd1"/><stop offset="0.8264" stop-color="#fcfbd0"/><stop offset="0.8514" stop-color="#fcfbd0"/><stop offset="0.8765" stop-color="#fcfbd0"/><stop offset="0.9015" stop-color="#fcfbd0"/><stop offset="0.9265" stop-color="#fcfbd0"/><stop offset="0.9516" stop-color="#fcfbd0"/><stop offset="0.9766" stop-color="#fcfbd0"/><stop offset="1" stop-color="#fbfbd0"/></linearGradient><linearGradient id="r65"><stop offset="0" stop-color="#f0d816"/><stop offset="0.025" stop-color="#f0d714"/><stop offset="0.0501" stop-color="#f0d612"/><stop offset="0.0751" stop-color="#f0d611"/><stop offset="0.1002" stop-color="#f0d610"/><stop offset="0.1252" stop-color="#f0d611"/><stop offset="0.1503" stop-color="#f0d713"/><stop offset="0.1753" stop-color="#f0d917"/><stop offset="0.2003" stop-color="#f0dc1d"/><stop offset="0.2254" stop-color="#f0df26"/><stop offset="0.2504" stop-color="#f0e430"/><stop offset="0.2755" stop-color="#f1e840"/><stop offset="0.3005" stop-color="#f1ec52"/><stop offset="0.3255" stop-color="#f2f065"/><stop offset="0.3506" stop-color="#f4f37a"/><stop offset="0.3756" stop-color="#f6f68f"/><stop offset="0.4007" stop-color="#f8f7a2"/><stop offset="0.4257" stop-color="#f9f8b2"/><stop offset="0.4508" stop-color="#faf9c0"/><stop offset="0.4758" stop-color="#fbfacb"/><stop offset="0.5008" stop-color="#fcfbd5"/><stop offset="0.5259" stop-color="#fcfcdc"/><stop offset="0.5509" stop-color="#fdfce0"/><stop offset="0.576" stop-color="#fdfce3"/><stop offset="0.601" stop-color="#fdfce3"/><stop offset="0.626" stop-color="#fdfce3"/><stop offset="0.6511" stop-color="#fdfce1"/><stop offset="0.6761" stop-color="#fdfcde"/><stop offset="0.7012" stop-color="#fcfcdb"/><stop offset="0.7262" stop-color="#fcfbd8"/><stop offset="0.7513" stop-color="#fcfbd5"/><stop offset="0.7763" stop-color="#fcfbd3"/><stop offset="0.8013" stop-color="#fcfbd1"/><stop offset="0.8264" stop-color="#fbfbd0"/><stop offset="0.8514" stop-color="#fbfbd0"/><stop offset="0.8765" stop-color="#fbfbd0"/><stop offset="0.9015" stop-color="#fbfbd0"/><stop offset="0.9265" stop-color="#fbfbd0"/><stop offset="0.9516" stop-color="#fbfbd0"/><stop offset="0.9766" stop-color="#fbfbcf"/><stop offset="1" stop-color="#fbfbcf"/></linearGradient><linearGradient id="r66"><stop offset="0" stop-color="#f0d917"/><stop offset="0.025" stop-color="#f0d815"/><stop offset="0.0501" stop-color="#f0d713"/><stop offset="0.0751" stop-color="#f0d612"/><stop offset="0.1002" stop-color="#f0d612"/><stop offset="0.1252" stop-color="#f0d612"/><stop offset="0.1503" stop-color="#f0d714"/><stop offset="0.1753" stop-color="#f0d918"/><stop offset="0.2003" stop-color="#f0dc1f"/><stop offset="0.2254" stop-color="#f0e027"/><stop offset="0.2504" stop-color="#f0e531"/><stop offset="0.2755" stop-color="#f1e842"/><stop offset="0.3005" stop-color="#f1ec54"/><stop offset="0.3255" stop-color="#f2f067"/><stop offset="0.3506" stop-color="#f4f37c"/><stop offset="0.3756" stop-color="#f6f691"/><stop offset="0.4007" stop-color="#f8f8a4"/><stop offset="0.4257" stop-color="#f9f9b3"/><stop offset="0.4508" stop-color="#faf9c1"/><stop offset="0.4758" stop-color="#fbfacd"/><stop offset="0.5008" stop-color="#fcfbd7"/><stop offset="0.5259" stop-color="#fdfcde"/><stop offset="0.5509" stop-color="#fdfce2"/><stop offset="0.576" stop-color="#fdfce4"/><stop offset="0.601" stop-color="#fdfde4"/><stop offset="0.626" stop-color="#fdfce4"/><stop offset="0.6511" stop-color="#fdfce2"/><stop offset="0.6761" stop-color="#fdfcdf"/><stop offset="0.7012" stop-color="#fcfcdc"/><stop offset="0.7262" stop-color="#fcfbd8"/><stop offset="0.7513" stop-color="#fcfbd5"/><stop offset="0.7763" stop-color="#fcfbd3"/><stop offset="0.8013" stop-color="#fcfbd1"/><stop offset="0.8264" stop-color="#fbfbcf"/><stop offset="0.8514" stop-color="#fbfbcf"/><stop offset="0.8765" stop-color="#fbfbcf"/><stop offset="0.9015" stop-color="#fbfbcf"/><stop offset="0.9265" stop-color="#fbfbcf"/><stop offset="0.9516" stop-color="#fbfbcf"/><stop offset="0.9766" stop-color="#fbfbcf"/><stop offset="1" stop-color="#fbfbcf"/></linearGradient><linearGradient id="r67"><stop offset="0" stop-color="#f0d918"/><stop offset="0.025" stop-color="#f0d816"/><stop offset="0.0501" stop-color="#f0d714"/><stop offset="0.0751" stop-color="#f0d713"/><stop offset="0.1002" stop-color="#f0d713"/><stop offset="0.1252" stop-color="#f0d713"/><stop offset="0.1503" stop-color="#f0d816"/><stop offset="0.1753" stop-color="#f0da19"/><stop offset="0.2003" stop-color="#f0dd20"/><stop offset="0.2254" stop-color="#f0e128"/><stop offset="0.2504" stop-color="#f0e533"/><stop offset="0.2755" stop-color="#f1e943"/><stop offset="0.3005" stop-color="#f1ed55"/><stop offset="0.3255" stop-color="#f2f169"/><stop offset="0.3506" stop-color="#f4f37e"/><stop offset="0.3756" stop-color="#f6f693"/><stop offset="0.4007" stop-color="#f8f8a5"/><stop offset="0.4257" stop-color="#f9f9b5"/><stop offset="0.4508" stop-color="#fafac3"/><stop offset="0.4758" stop-color="#fbfbcf"/><stop offset="0.5008" stop-color="#fcfbd9"/><stop offset="0.5259" stop-color="#fdfcdf"/><stop offset="0.5509" stop-color="#fdfce3"/><stop offset="0.576" stop-color="#fdfde5"/><stop offset="0.601" stop-color="#fdfde6"/><stop offset="0.626" stop-color="#fdfde5"/><stop offset="0.6511" stop-color="#fdfce2"/><stop offset="0.6761" stop-color="#fdfce0"/><stop offset="0.7012" stop-color="#fcfcdc"/><stop offset="0.7262" stop-color="#fcfbd9"/><stop offset="0.7513" stop-color="#fcfbd5"/><stop offset="0.7763" stop-color="#fcfbd2"/><stop offset="0.8013" stop-color="#fcfbd0"/><stop offset="0.8264" stop-color="#fbfbcf"/><stop offset="0.8514" stop-color="#fbfbcf"/><stop offset="0.8765" stop-color="#fbfbcf"/><stop offset="0.9015" stop-color="#fbfbcf"/><stop offset="0.9265" stop-color="#fbfbcf"/><stop offset="0.9516" stop-color="#fbfbcf"/><stop offset="0.9766" stop-color="#fbfbcf"/><stop offset="1" stop-color="#fbfbcf"/></linearGradient><linearGradient id="r68"><stop offset="0" stop-color="#f0da19"/><stop offset="0.025" stop-color="#f0d917"/><stop offset="0.0501" stop-color="#f0d815"/><stop offset="0.0751" stop-color="#f0d714"/><stop offset="0.1002" stop-color="#f0d714"/><stop offset="0.1252" stop-color="#f0d715"/><stop offset="0.1503" stop-color="#f0d817"/><stop offset="0.1753" stop-color="#f0da1b"/><stop offset="0.2003" stop-color="#f0dd21"/><stop offset="0.2254" stop-color="#f0e129"/><stop offset="0.2504" stop-color="#f0e635"/><stop offset="0.2755" stop-color="#f1e945"/><stop offset="0.3005" stop-color="#f1ed57"/><stop offset="0.3255" stop-color="#f3f16b"/><stop offset="0.3506" stop-color="#f5f480"/><stop offset="0.3756" stop-color="#f6f695"/><stop offset="0.4007" stop-color="#f8f8a7"/><stop offset="0.4257" stop-color="#f9f9b7"/><stop offset="0.4508" stop-color="#fbfac4"/><stop offset="0.4758" stop-color="#fcfbd1"/><stop offset="0.5008" stop-color="#fcfcda"/><stop offset="0.5259" stop-color="#fdfce1"/><stop offset="0.5509" stop-color="#fdfde5"/><stop offset="0.576" stop-color="#fdfde7"/><stop offset="0.601" stop-color="#fdfde7"/><stop offset="0.626" stop-color="#fdfde6"/><stop offset="0.6511" stop-color="#fdfce3"/><stop offset="0.6761" stop-color="#fdfce0"/><stop offset="0.7012" stop-color="#fcfcdd"/><stop offset="0.7262" stop-color="#fcfbd9"/><stop offset="0.7513" stop-color="#fcfbd5"/><stop offset="0.7763" stop-color="#fcfbd2"/><stop offset="0.8013" stop-color="#fcfbd0"/><stop offset="0.8264" stop-color="#fbfbcf"/><stop offset="0.8514" stop-color="#fbfbce"/><stop offset="0.8765" stop-color="#fbface"/><stop offset="0.9015" stop-color="#fbface"/><stop offset="0.9265" stop-color="#fbface"/><stop offset="0.9516" stop-color="#fbface"/><stop offset="0.9766" stop-color="#fbface"/><stop offset="1" stop-color="#fbfbce"/></linearGradient><linearGradient id="r69"><stop offset="0" stop-color="#f0da1b"/><stop offset="0.025" stop-color="#f0d918"/><stop offset="0.0501" stop-color="#f0d816"/><stop offset="0.0751" stop-color="#f0d815"/><stop offset="0.1002" stop-color="#f0d815"/><stop offset="0.1252" stop-color="#f0d816"/><stop offset="0.1503" stop-color="#f0d918"/><stop offset="0.1753" stop-color="#f0db1c"/><stop offset="0.2003" stop-color="#f0de22"/><stop offset="0.2254" stop-color="#f0e22b"/><stop offset="0.2504" stop-color="#f0e636"/><stop offset="0.2755" stop-color="#f1ea47"/><stop offset="0.3005" stop-color="#f2ee59"/><stop offset="0.3255" stop-color="#f3f16d"/><stop offset="0.3506" stop-color="#f5f482"/><stop offset="0.3756" stop-color="#f7f797"/><stop offset="0.4007" stop-color="#f8f8a9"/><stop offset="0.4257" stop-color="#faf9b8"/><stop offset="0.4508" stop-color="#fbfac6"/><stop offset="0.4758" stop-color="#fcfbd3"/><stop offset="0.5008" stop-color="#fcfcdc"/><stop offset="0.5259" stop-color="#fdfce3"/><stop offset="0.5509" stop-color="#fdfde6"/><stop offset="0.576" stop-color="#fdfde8"/><stop offset="0.601" stop-color="#fdfde8"/><stop offset="0.626" stop-color="#fdfde7"/><stop offset="0.6511" stop-color="#fdfde4"/><stop offset="0.6761" stop-color="#fdfce1"/><stop offset="0.7012" stop-color="#fcfcdd"/><stop offset="0.7262" stop-color="#fcfbd9"/><stop offset="0.7513" stop-color="#fcfbd5"/><stop offset="0.7763" stop-color="#fcfbd2"/><stop offset="0.8013" stop-color="#fbfbd0"/><stop offset="0.8264" stop-color="#fbface"/><stop offset="0.8514" stop-color="#fbface"/><stop offset="0.8765" stop-color="#fbface"/><stop offset="0.9015" stop-color="#fbface"/><stop offset="0.9265" stop-color="#fbface"/><stop offset="0.9516" stop-color="#fbface"/><stop offset="0.9766" stop-color="#fbface"/><stop offset="1" stop-color="#fbface"/></linearGradient><linearGradient id="r70"><stop offset="0" stop-color="#f0db1c"/><stop offset="0.025" stop-color="#f0da19"/><stop offset="0.0501" stop-color="#f0d917"/><stop offset="0.0751" stop-color="#f0d816"/><stop offset="0.1002" stop-color="#f0d816"/><stop offset="0.1252" stop-color="#f0d917"/><stop offset="0.1503" stop-color="#f0da19"/><stop offset="0.1753" stop-color="#f0db1d"/><stop offset="0.2003" stop-color="#f0de24"/><stop offset="0.2254" stop-color="#f0e22c"/><stop offset="0.2504" stop-color="#f0e638"/><stop offset="0.2755" stop-color="#f1ea49"/><stop offset="0.3005" stop-color="#f2ee5b"/><stop offset="0.3255" stop-color="#f3f16f"/><stop offset="0.3506" stop-color="#f5f484"/><stop offset="0.3756" stop-color="#f7f799"/><stop offset="0.4007" stop-color="#f8f8ab"/><stop offset="0.4257" stop-color="#faf9ba"/><stop offset="0.4508" stop-color="#fbfac8"/><stop offset="0.4758" stop-color="#fcfbd4"/><stop offset="0.5008" stop-color="#fdfcde"/><stop offset="0.5259" stop-color="#fdfde4"/><stop offset="0.5509" stop-color="#fdfde8"/><stop offset="0.576" stop-color="#fdfde9"/><stop offset="0.601" stop-color="#fdfde9"/><stop offset="0.626" stop-color="#fdfde8"/><stop offset="0.6511" stop-color="#fdfde5"/><stop offset="0.6761" stop-color="#fdfce1"/><stop offset="0.7012" stop-color="#fdfcdd"/><stop offset="0.7262" stop-color="#fcfcd9"/><stop offset="0.7513" stop-color="#fcfbd5"/><stop offset="0.7763" stop-color="#fcfbd2"/><stop offset="0.8013" stop-color="#fbfbcf"/><stop offset="0.8264" stop-color="#fbface"/><stop offset="0.8514" stop-color="#fbface"/><stop offset="0.8765" stop-color="#fbfacd"/><stop offset="0.9015" stop-color="#fbfacd"/><stop offset="0.9265" stop-color="#fbfacd"/><stop offset="0.9516" stop-color="#fbfacd"/><stop offset="0.9766" stop-color="#fbfacd"/><stop offset="1" stop-color="#fbface"/></linearGradient><linearGradient id="r71"><stop offset="0" stop-color="#f0db1d"/><stop offset="0.025" stop-color="#f0da1b"/><stop offset="0.0501" stop-color="#f0d919"/><stop offset="0.0751" stop-color="#f0d918"/><stop offset="0.1002" stop-color="#f0d917"/><stop offset="0.1252" stop-color="#f0d918"/><stop offset="0.1503" stop-color="#f0da1a"/><stop offset="0.1753" stop-color="#f0dc1e"/><stop offset="0.2003" stop-color="#f0df25"/><stop offset="0.2254" stop-color="#f0e32d"/><stop offset="0.2504" stop-color="#f0e73a"/><stop offset="0.2755" stop-color="#f1ea4b"/><stop offset="0.3005" stop-color="#f2ee5d"/><stop offset="0.3255" stop-color="#f3f271"/><stop offset="0.3506" stop-color="#f5f486"/><stop offset="0.3756" stop-color="#f7f79b"/><stop offset="0.4007" stop-color="#f9f8ac"/><stop offset="0.4257" stop-color="#faf9bc"/><stop offset="0.4508" stop-color="#fbfaca"/><stop offset="0.4758" stop-color="#fcfbd6"/><stop offset="0.5008" stop-color="#fdfce0"/><stop offset="0.5259" stop-color="#fdfde6"/><stop offset="0.5509" stop-color="#fdfdea"/><stop offset="0.576" stop-color="#fefdeb"/><stop offset="0.601" stop-color="#fdfdea"/><stop offset="0.626" stop-color="#fdfde9"/><stop offset="0.6511" stop-color="#fdfde6"/><stop offset="0.6761" stop-color="#fdfce2"/><stop offset="0.7012" stop-color="#fdfcde"/><stop offset="0.7262" stop-color="#fcfcd9"/><stop offset="0.7513" stop-color="#fcfbd5"/><stop offset="0.7763" stop-color="#fcfbd2"/><stop offset="0.8013" stop-color="#fbfbcf"/><stop offset="0.8264" stop-color="#fbfacd"/><stop offset="0.8514" stop-color="#fbfacd"/><stop offset="0.8765" stop-color="#fbfacd"/><stop offset="0.9015" stop-color="#fbfacd"/><stop offset="0.9265" stop-color="#fbfacd"/><stop offset="0.9516" stop-color="#fbfacd"/><stop offset="0.9766" stop-color="#fbfacd"/><stop offset="1" stop-color="#fbfacd"/></linearGradient><linearGradient id="r72"><stop offset="0" stop-color="#f0dc1e"/><stop offset="0.025" stop-color="#f0db1c"/><stop offset="0.0501" stop-color="#f0da1a"/><stop offset="0.0751" stop-color="#f0d919"/><stop offset="0.1002" stop-color="#f0d919"/><stop offset="0.1252" stop-color="#f0da19"/><stop offset="0.1503" stop-color="#f0db1c"/><stop offset="0.1753" stop-color="#f0dd20"/><stop offset="0.2003" stop-color="#f0e026"/><stop offset="0.2254" stop-color="#f0e42f"/><stop offset="0.2504" stop-color="#f0e73c"/><stop offset="0.2755" stop-color="#f1eb4d"/><stop offset="0.3005" stop-color="#f2ef5f"/><stop offset="0.3255" stop-color="#f3f273"/><stop offset="0.3506" stop-color="#f5f589"/><stop offset="0.3756" stop-color="#f7f79d"/><stop offset="0.4007" stop-color="#f9f8ae"/><stop offset="0.4257" stop-color="#faf9be"/><stop offset="0.4508" stop-color="#fbfacc"/><stop offset="0.4758" stop-color="#fcfbd8"/><stop offset="0.5008" stop-color="#fdfce2"/><stop offset="0.5259" stop-color="#fdfde8"/><stop offset="0.5509" stop-color="#fefdeb"/><stop offset="0.576" stop-color="#fefdec"/><stop offset="0.601" stop-color="#fefdec"/><stop offset="0.626" stop-color="#fdfdea"/><stop offset="0.6511" stop-color="#fdfde6"/><stop offset="0.6761" stop-color="#fdfce2"/><stop offset="0.7012" stop-color="#fdfcde"/><stop offset="0.7262" stop-color="#fcfcd9"/><stop offset="0.7513" stop-color="#fcfbd5"/><stop offset="0.7763" stop-color="#fcfbd1"/><stop offset="0.8013" stop-color="#fbfbcf"/><stop offset="0.8264" stop-color="#fbfacd"/><stop offset="0.8514" stop-color="#fbfacc"/><stop offset="0.8765" stop-color="#fbfacc"/><stop offset="0.9015" stop-color="#fbfacc"/><stop offset="0.9265" stop-color="#fbfacc"/><stop offset="0.9516" stop-color="#fbfacc"/><stop offset="0.9766" stop-color="#fbfacc"/><stop offset="1" stop-color="#fbfacd"/></linearGradient><linearGradient id="r73"><stop offset="0" stop-color="#f0dd20"/><stop offset="0.025" stop-color="#f0db1d"/><stop offset="0.0501" stop-color="#f0db1b"/><stop offset="0.0751" stop-color="#f0da1a"/><stop offset="0.1002" stop-color="#f0da1a"/><stop offset="0.1252" stop-color="#f0da1b"/><stop offset="0.1503" stop-color="#f0db1d"/><stop offset="0.1753" stop-color="#f0dd21"/><stop offset="0.2003" stop-color="#f0e028"/><stop offset="0.2254" stop-color="#f0e430"/><stop offset="0.2504" stop-color="#f0e83e"/><stop offset="0.2755" stop-color="#f1eb4f"/><stop offset="0.3005" stop-color="#f2ef61"/><stop offset="0.3255" stop-color="#f4f276"/><stop offset="0.3506" stop-color="#f6f58b"/><stop offset="0.3756" stop-color="#f7f79f"/><stop offset="0.4007" stop-color="#f9f8b0"/><stop offset="0.4257" stop-color="#faf9c0"/><stop offset="0.4508" stop-color="#fbface"/><stop offset="0.4758" stop-color="#fcfcda"/><stop offset="0.5008" stop-color="#fdfce4"/><stop offset="0.5259" stop-color="#fdfde9"/><stop offset="0.5509" stop-color="#fefded"/><stop offset="0.576" stop-color="#fefdee"/><stop offset="0.601" stop-color="#fefded"/><stop offset="0.626" stop-color="#fdfdeb"/><stop offset="0.6511" stop-color="#fdfde7"/><stop offset="0.6761" stop-color="#fdfce3"/><stop offset="0.7012" stop-color="#fdfcde"/><stop offset="0.7262" stop-color="#fcfcda"/><stop offset="0.7513" stop-color="#fcfbd5"/><stop offset="0.7763" stop-color="#fcfbd1"/><stop offset="0.8013" stop-color="#fbface"/><stop offset="0.8264" stop-color="#fbfacc"/><stop offset="0.8514" stop-color="#fbfacc"/><stop offset="0.8765" stop-color="#fbfacc"/><stop offset="0.9015" stop-color="#fbfacc"/><stop offset="0.9265" stop-color="#fbfacc"/><stop offset="0.9516" stop-color="#fbfacc"/><stop offset="0.9766" stop-color="#fbfacc"/><stop offset="1" stop-color="#fbfacc"/></linearGradient><linearGradient id="r74"><stop offset="0" stop-color="#f0dd21"/><stop offset="0.025" stop-color="#f0dc1e"/><stop offset="0.0501" stop-color="#f0db1c"/><stop offset="0.0751" stop-color="#f0db1b"/><stop offset="0.1002" stop-color="#f0db1b"/><stop offset="0.1252" stop-color="#f0db1c"/><stop offset="0.1503" stop-color="#f0dc1e"/><stop offset="0.1753" stop-color="#f0de22"/><stop offset="0.2003" stop-color="#f0e129"/><stop offset="0.2254" stop-color="#f0e532"/><stop offset="0.2504" stop-color="#f1e840"/><stop offset="0.2755" stop-color="#f1ec51"/><stop offset="0.3005" stop-color="#f2f063"/><stop offset="0.3255" stop-color="#f4f378"/><stop offset="0.3506" stop-color="#f6f58d"/><stop offset="0.3756" stop-color="#f7f7a1"/><stop offset="0.4007" stop-color="#f9f8b2"/><stop offset="0.4257" stop-color="#fafac1"/><stop offset="0.4508" stop-color="#fbfbd0"/><stop offset="0.4758" stop-color="#fcfcdc"/><stop offset="0.5008" stop-color="#fdfde5"/><stop offset="0.5259" stop-color="#fefdeb"/><stop offset="0.5509" stop-color="#fefdee"/><stop offset="0.576" stop-color="#fefeef"/><stop offset="0.601" stop-color="#fefdee"/><stop offset="0.626" stop-color="#fefdec"/><stop offset="0.6511" stop-color="#fdfde8"/><stop offset="0.6761" stop-color="#fdfce3"/><stop offset="0.7012" stop-color="#fdfcdf"/><stop offset="0.7262" stop-color="#fcfcda"/><stop offset="0.7513" stop-color="#fcfbd5"/><stop offset="0.7763" stop-color="#fcfbd1"/><stop offset="0.8013" stop-color="#fbface"/><stop offset="0.8264" stop-color="#fbfacc"/><stop offset="0.8514" stop-color="#fbfacb"/><stop offset="0.8765" stop-color="#fbfacb"/><stop offset="0.9015" stop-color="#fbfacb"/><stop offset="0.9265" stop-color="#fbfacb"/><stop offset="0.9516" stop-color="#fbfacb"/><stop offset="0.9766" stop-color="#fbfacb"/><stop offset="1" stop-color="#fbfacc"/></linearGradient><linearGradient id="r75"><stop offset="0" stop-color="#f0de22"/><stop offset="0.025" stop-color="#f0dd20"/><stop offset="0.0501" stop-color="#f0dc1e"/><stop offset="0.0751" stop-color="#f0db1d"/><stop offset="0.1002" stop-color="#f0db1c"/><stop offset="0.1252" stop-color="#f0dc1d"/><stop offset="0.1503" stop-color="#f0dd20"/><stop offset="0.1753" stop-color="#f0de24"/><stop offset="0.2003" stop-color="#f0e12a"/><stop offset="0.2254" stop-color="#f0e533"/><stop offset="0.2504" stop-color="#f1e942"/><stop offset="0.2755" stop-color="#f1ec53"/><stop offset="0.3005" stop-color="#f2f065"/><stop offset="0.3255" stop-color="#f4f37a"/><stop offset="0.3506" stop-color="#f6f58f"/><stop offset="0.3756" stop-color="#f8f7a3"/><stop offset="0.4007" stop-color="#f9f9b3"/><stop offset="0.4257" stop-color="#fafac3"/><stop offset="0.4508" stop-color="#fcfbd2"/><stop offset="0.4758" stop-color="#fdfcde"/><stop offset="0.5008" stop-color="#fdfde7"/><stop offset="0.5259" stop-color="#fefded"/><stop offset="0.5509" stop-color="#fefef0"/><stop offset="0.576" stop-color="#fefef0"/><stop offset="0.601" stop-color="#fefeef"/><stop offset="0.626" stop-color="#fefdec"/><stop offset="0.6511" stop-color="#fdfde9"/><stop offset="0.6761" stop-color="#fdfce4"/><stop offset="0.7012" stop-color="#fdfcdf"/><stop offset="0.7262" stop-color="#fcfcda"/><stop offset="0.7513" stop-color="#fcfbd5"/><stop offset="0.7763" stop-color="#fcfbd1"/><stop offset="0.8013" stop-color="#fbfacd"/><stop offset="0.8264" stop-color="#fbfacb"/><stop offset="0.8514" stop-color="#fbfacb"/><stop offset="0.8765" stop-color="#fbfaca"/><stop offset="0.9015" stop-color="#fbfaca"/><stop offset="0.9265" stop-color="#fbfacb"/><stop offset="0.9516" stop-color="#fbfacb"/><stop offset="0.9766" stop-color="#fbfacb"/><stop offset="1" stop-color="#fbfacb"/></linearGradient><linearGradient id="r76"><stop offset="0" stop-color="#f0de23"/><stop offset="0.025" stop-color="#f0dd21"/><stop offset="0.0501" stop-color="#f0dc1f"/><stop offset="0.0751" stop-color="#f0dc1e"/><stop offset="0.1002" stop-color="#f0dc1e"/><stop offset="0.1252" stop-color="#f0dc1f"/><stop offset="0.1503" stop-color="#f0dd21"/><stop offset="0.1753" stop-color="#f0df25"/><stop offset="0.2003" stop-color="#f0e22c"/><stop offset="0.2254" stop-color="#f0e635"/><stop offset="0.2504" stop-color="#f1e944"/><stop offset="0.2755" stop-color="#f1ed55"/><stop offset="0.3005" stop-color="#f2f067"/><stop offset="0.3255" stop-color="#f4f37c"/><stop offset="0.3506" stop-color="#f6f691"/><stop offset="0.3756" stop-color="#f8f8a4"/><stop offset="0.4007" stop-color="#f9f9b5"/><stop offset="0.4257" stop-color="#fbfac5"/><stop offset="0.4508" stop-color="#fcfbd4"/><stop offset="0.4758" stop-color="#fdfce0"/><stop offset="0.5008" stop-color="#fdfde9"/><stop offset="0.5259" stop-color="#fefdee"/><stop offset="0.5509" stop-color="#fefef1"/><stop offset="0.576" stop-color="#fefef2"/><stop offset="0.601" stop-color="#fefef0"/><stop offset="0.626" stop-color="#fefded"/><stop offset="0.6511" stop-color="#fdfde9"/><stop offset="0.6761" stop-color="#fdfde4"/><stop offset="0.7012" stop-color="#fdfcdf"/><stop offset="0.7262" stop-color="#fcfcda"/><stop offset="0.7513" stop-color="#fcfbd5"/><stop offset="0.7763" stop-color="#fcfbd0"/><stop offset="0.8013" stop-color="#fbfacd"/><stop offset="0.8264" stop-color="#fbfacb"/><stop offset="0.8514" stop-color="#fbfaca"/><stop offset="0.8765" stop-color="#fbfaca"/><stop offset="0.9015" stop-color="#fbfaca"/><stop offset="0.9265" stop-color="#fbfaca"/><stop offset="0.9516" stop-color="#fbfaca"/><stop offset="0.9766" stop-color="#fbfaca"/><stop offset="1" stop-color="#fbfacb"/></linearGradient><linearGradient id="r77"><stop offset="0" stop-color="#f0df25"/><stop offset="0.025" stop-color="#f0de22"/><stop offset="0.0501" stop-color="#f0dd20"/><stop offset="0.0751" stop-color="#f0dc1f"/><stop offset="0.1002" stop-color="#f0dc1f"/><stop offset="0.1252" stop-color="#f0dd20"/><stop offset="0.1503" stop-color="#f0de22"/><stop offset="0.1753" stop-color="#f0e027"/><stop offset="0.2003" stop-color="#f0e32d"/><stop offset="0.2254" stop-color="#f0e637"/><stop offset="0.2504" stop-color="#f1e946"/><stop offset="0.2755" stop-color="#f1ed57"/><stop offset="0.3005" stop-color="#f2f169"/><stop offset="0.3255" stop-color="#f4f37e"/><stop offset="0.3506" stop-color="#f6f693"/><stop offset="0.3756" stop-color="#f8f8a6"/><stop offset="0.4007" stop-color="#f9f9b7"/><stop offset="0.4257" stop-color="#fbfac6"/><stop offset="0.4508" stop-color="#fcfbd5"/><stop offset="0.4758" stop-color="#fdfce2"/><stop offset="0.5008" stop-color="#fefdeb"/><stop offset="0.5259" stop-color="#fefef0"/><stop offset="0.5509" stop-color="#fefef3"/><stop offset="0.576" stop-color="#fefef3"/><stop offset="0.601" stop-color="#fefef2"/><stop offset="0.626" stop-color="#fefdee"/><stop offset="0.6511" stop-color="#fdfdea"/><stop offset="0.6761" stop-color="#fdfde5"/><stop offset="0.7012" stop-color="#fdfce0"/><stop offset="0.7262" stop-color="#fcfcda"/><stop offset="0.7513" stop-color="#fcfbd5"/><stop offset="0.7763" stop-color="#fcfbd0"/><stop offset="0.8013" stop-color="#fbfacd"/><stop offset="0.8264" stop-color="#fbfaca"/><stop offset="0.8514" stop-color="#fbfaca"/><stop offset="0.8765" stop-color="#fbfac9"/><stop offset="0.9015" stop-color="#fbfac9"/><stop offset="0.9265" stop-color="#fbfac9"/><stop offset="0.9516" stop-color="#fbfaca"/><stop offset="0.9766" stop-color="#fbfaca"/><stop offset="1" stop-color="#fbfaca"/></linearGradient><linearGradient id="r78"><stop offset="0" stop-color="#f0df26"/><stop offset="0.025" stop-color="#f0de23"/><stop offset="0.0501" stop-color="#f0dd22"/><stop offset="0.0751" stop-color="#f0dd21"/><stop offset="0.1002" stop-color="#f0dd20"/><stop offset="0.1252" stop-color="#f0dd21"/><stop offset="0.1503" stop-color="#f0de24"/><stop offset="0.1753" stop-color="#f0e028"/><stop offset="0.2003" stop-color="#f0e32e"/><stop offset="0.2254" stop-color="#f0e739"/><stop offset="0.2504" stop-color="#f1ea48"/><stop offset="0.2755" stop-color="#f2ed59"/><stop offset="0.3005" stop-color="#f3f16c"/><stop offset="0.3255" stop-color="#f5f480"/><stop offset="0.3506" stop-color="#f7f696"/><stop offset="0.3756" stop-color="#f8f8a8"/><stop offset="0.4007" stop-color="#faf9b8"/><stop offset="0.4257" stop-color="#fbfac8"/><stop offset="0.4508" stop-color="#fcfbd7"/><stop offset="0.4758" stop-color="#fdfce4"/><stop offset="0.5008" stop-color="#fefded"/><stop offset="0.5259" stop-color="#fefef2"/><stop offset="0.5509" stop-color="#fefef4"/><stop offset="0.576" stop-color="#fefef4"/><stop offset="0.601" stop-color="#fefef3"/><stop offset="0.626" stop-color="#fefeef"/><stop offset="0.6511" stop-color="#fdfdeb"/><stop offset="0.6761" stop-color="#fdfde5"/><stop offset="0.7012" stop-color="#fdfce0"/><stop offset="0.7262" stop-color="#fcfcda"/><stop offset="0.7513" stop-color="#fcfbd5"/><stop offset="0.7763" stop-color="#fcfbd0"/><stop offset="0.8013" stop-color="#fbfacc"/><stop offset="0.8264" stop-color="#fbfaca"/><stop offset="0.8514" stop-color="#fbfac9"/><stop offset="0.8765" stop-color="#fbfac9"/><stop offset="0.9015" stop-color="#fbfac9"/><stop offset="0.9265" stop-color="#fbfac9"/><stop offset="0.9516" stop-color="#fbfac9"/><stop offset="0.9766" stop-color="#fbfac9"/><stop offset="1" stop-color="#fbfaca"/></linearGradient><linearGradient id="r79"><stop offset="0" stop-color="#f0e027"/><stop offset="0.025" stop-color="#f0df25"/><stop offset="0.0501" stop-color="#f0de23"/><stop offset="0.0751" stop-color="#f0de22"/><stop offset="0.1002" stop-color="#f0dd22"/><stop offset="0.1252" stop-color="#f0de23"/><stop offset="0.1503" stop-color="#f0df25"/><stop offset="0.1753" stop-color="#f0e129"/><stop offset="0.2003" stop-color="#f0e430"/><stop offset="0.2254" stop-color="#f0e73b"/><stop offset="0.2504" stop-color="#f1ea49"/><stop offset="0.2755" stop-color="#f2ee5a"/><stop offset="0.3005" stop-color="#f3f16e"/><stop offset="0.3255" stop-color="#f5f482"/><stop offset="0.3506" stop-color="#f7f798"/><stop offset="0.3756" stop-color="#f8f8a9"/><stop offset="0.4007" stop-color="#faf9ba"/><stop offset="0.4257" stop-color="#fbfac9"/><stop offset="0.4508" stop-color="#fcfbd9"/><stop offset="0.4758" stop-color="#fdfde6"/><stop offset="0.5008" stop-color="#fefdee"/><stop offset="0.5259" stop-color="#fefef3"/><stop offset="0.5509" stop-color="#fefef6"/><stop offset="0.576" stop-color="#fefef6"/><stop offset="0.601" stop-color="#fefef4"/><stop offset="0.626" stop-color="#fefef0"/><stop offset="0.6511" stop-color="#fefdeb"/><stop offset="0.6761" stop-color="#fdfde6"/><stop offset="0.7012" stop-color="#fdfce0"/><stop offset="0.7262" stop-color="#fcfcda"/><stop offset="0.7513" stop-color="#fcfbd4"/><stop offset="0.7763" stop-color="#fbfbd0"/><stop offset="0.8013" stop-color="#fbfacc"/><stop offset="0.8264" stop-color="#fbfac9"/><stop offset="0.8514" stop-color="#fbfac9"/><stop offset="0.8765" stop-color="#fbfac8"/><stop offset="0.9015" stop-color="#fbfac8"/><stop offset="0.9265" stop-color="#fbfac8"/><stop offset="0.9516" stop-color="#fbfac8"/><stop offset="0.9766" stop-color="#fbfac9"/><stop offset="1" stop-color="#fbfac9"/></linearGradient><linearGradient id="r80"><stop offset="0" stop-color="#f0e128"/><stop offset="0.025" stop-color="#f0df26"/><stop offset="0.0501" stop-color="#f0df24"/><stop offset="0.0751" stop-color="#f0de23"/><stop offset="0.1002" stop-color="#f0de23"/><stop offset="0.1252" stop-color="#f0df24"/><stop offset="0.1503" stop-color="#f0e026"/><stop offset="0.1753" stop-color="#f0e22a"/><stop offset="0.2003" stop-color="#f0e531"/><stop offset="0.2254" stop-color="#f0e73d"/><stop offset="0.2504" stop-color="#f1eb4b"/><stop offset="0.2755" stop-color="#f2ee5c"/><stop offset="0.3005" stop-color="#f3f16f"/><stop offset="0.3255" stop-color="#f5f484"/><stop offset="0.3506" stop-color="#f7f79a"/><stop offset="0.3756" stop-color="#f8f8ab"/><stop offset="0.4007" stop-color="#faf9bc"/><stop offset="0.4257" stop-color="#fbfacb"/><stop offset="0.4508" stop-color="#fcfcdb"/><stop offset="0.4758" stop-color="#fdfde7"/><stop offset="0.5008" stop-color="#fefef0"/><stop offset="0.5259" stop-color="#fefef5"/><stop offset="0.5509" stop-color="#fefef7"/><stop offset="0.576" stop-color="#fefef7"/><stop offset="0.601" stop-color="#fefef5"/><stop offset="0.626" stop-color="#fefef1"/><stop offset="0.6511" stop-color="#fefdec"/><stop offset="0.6761" stop-color="#fdfde6"/><stop offset="0.7012" stop-color="#fdfce0"/><stop offset="0.7262" stop-color="#fcfcda"/><stop offset="0.7513" stop-color="#fcfbd4"/><stop offset="0.7763" stop-color="#fbfbcf"/><stop offset="0.8013" stop-color="#fbfacb"/><stop offset="0.8264" stop-color="#fbfac9"/><stop offset="0.8514" stop-color="#fbfac8"/><stop offset="0.8765" stop-color="#fbfac8"/><stop offset="0.9015" stop-color="#fbfac8"/><stop offset="0.9265" stop-color="#fbfac8"/><stop offset="0.9516" stop-color="#fbfac8"/><stop offset="0.9766" stop-color="#fbfac8"/><stop offset="1" stop-color="#fbfac9"/></linearGradient><linearGradient id="r81"><stop offset="0" stop-color="#f0e12a"/><stop offset="0.025" stop-color="#f0e027"/><stop offset="0.0501" stop-color="#f0df25"/><stop offset="0.0751" stop-color="#f0df24"/><stop offset="0.1002" stop-color="#f0df24"/><stop offset="0.1252" stop-color="#f0df25"/><stop offset="0.1503" stop-color="#f0e028"/><stop offset="0.1753" stop-color="#f0e22c"/><stop offset="0.2003" stop-color="#f0e532"/><stop offset="0.2254" stop-color="#f0e83e"/><stop offset="0.2504" stop-color="#f1eb4d"/><stop offset="0.2755" stop-color="#f2ef5e"/><stop offset="0.3005" stop-color="#f3f271"/><stop offset="0.3255" stop-color="#f5f486"/><stop offset="0.3506" stop-color="#f7f79b"/><stop offset="0.3756" stop-color="#f9f8ad"/><stop offset="0.4007" stop-color="#faf9bd"/><stop offset="0.4257" stop-color="#fbfacd"/><stop offset="0.4508" stop-color="#fcfcdd"/><stop offset="0.4758" stop-color="#fdfde9"/><stop offset="0.5008" stop-color="#fefef2"/><stop offset="0.5259" stop-color="#fefef7"/><stop offset="0.5509" stop-color="#fffef9"/><stop offset="0.576" stop-color="#fefef8"/><stop offset="0.601" stop-color="#fefef6"/><stop offset="0.626" stop-color="#fefef2"/><stop offset="0.6511" stop-color="#fefded"/><stop offset="0.6761" stop-color="#fdfde7"/><stop offset="0.7012" stop-color="#fdfce1"/><stop offset="0.7262" stop-color="#fcfcda"/><stop offset="0.7513" stop-color="#fcfbd4"/><stop offset="0.7763" stop-color="#fbfbcf"/><stop offset="0.8013" stop-color="#fbfacb"/><stop offset="0.8264" stop-color="#fbfac8"/><stop offset="0.8514" stop-color="#fbfac8"/><stop offset="0.8765" stop-color="#fbfac7"/><stop offset="0.9015" stop-color="#fbfac7"/><stop offset="0.9265" stop-color="#fbfac7"/><stop offset="0.9516" stop-color="#fbfac7"/><stop offset="0.9766" stop-color="#fbfac8"/><stop offset="1" stop-color="#fbfac8"/></linearGradient><linearGradient id="r82"><stop offset="0" stop-color="#f0e22b"/><stop offset="0.025" stop-color="#f0e128"/><stop offset="0.0501" stop-color="#f0e027"/><stop offset="0.0751" stop-color="#f0df26"/><stop offset="0.1002" stop-color="#f0df25"/><stop offset="0.1252" stop-color="#f0e026"/><stop offset="0.1503" stop-color="#f0e129"/><stop offset="0.1753" stop-color="#f0e32d"/><stop offset="0.2003" stop-color="#f0e534"/><stop offset="0.2254" stop-color="#f1e840"/><stop offset="0.2504" stop-color="#f1eb4f"/><stop offset="0.2755" stop-color="#f2ef5f"/><stop offset="0.3005" stop-color="#f3f273"/><stop offset="0.3255" stop-color="#f5f588"/><stop offset="0.3506" stop-color="#f7f79d"/><stop offset="0.3756" stop-color="#f9f8ae"/><stop offset="0.4007" stop-color="#faf9bf"/><stop offset="0.4257" stop-color="#fbfbcf"/><stop offset="0.4508" stop-color="#fdfcde"/><stop offset="0.4758" stop-color="#fdfdeb"/><stop offset="0.5008" stop-color="#fefef3"/><stop offset="0.5259" stop-color="#fefef8"/><stop offset="0.5509" stop-color="#fffffa"/><stop offset="0.576" stop-color="#fffef9"/><stop offset="0.601" stop-color="#fefef7"/><stop offset="0.626" stop-color="#fefef3"/><stop offset="0.6511" stop-color="#fefded"/><stop offset="0.6761" stop-color="#fdfde7"/><stop offset="0.7012" stop-color="#fdfce1"/><stop offset="0.7262" stop-color="#fcfcda"/><stop offset="0.7513" stop-color="#fcfbd4"/><stop offset="0.7763" stop-color="#fbfbcf"/><stop offset="0.8013" stop-color="#fbfacb"/><stop offset="0.8264" stop-color="#fbfac8"/><stop offset="0.8514" stop-color="#fbfac7"/><stop offset="0.8765" stop-color="#fbfac7"/><stop offset="0.9015" stop-color="#fbfac7"/><stop offset="0.9265" stop-color="#fbfac7"/><stop offset="0.9516" stop-color="#fbfac7"/><stop offset="0.9766" stop-color="#fbfac7"/><stop offset="1" stop-color="#fbfac8"/></linearGradient><linearGradient id="r83"><stop offset="0" stop-color="#f0e22c"/><stop offset="0.025" stop-color="#f0e12a"/><stop offset="0.0501" stop-color="#f0e028"/><stop offset="0.0751" stop-color="#f0e027"/><stop offset="0.1002" stop-color="#f0e027"/><stop offset="0.1252" stop-color="#f0e028"/><stop offset="0.1503" stop-color="#f0e12a"/><stop offset="0.1753" stop-color="#f0e32e"/><stop offset="0.2003" stop-color="#f0e635"/><stop offset="0.2254" stop-color="#f1e841"/><stop offset="0.2504" stop-color="#f1ec50"/><stop offset="0.2755" stop-color="#f2ef61"/><stop offset="0.3005" stop-color="#f4f275"/><stop offset="0.3255" stop-color="#f5f58a"/><stop offset="0.3506" stop-color="#f7f79e"/><stop offset="0.3756" stop-color="#f9f8b0"/><stop offset="0.4007" stop-color="#faf9c0"/><stop offset="0.4257" stop-color="#fcfbd0"/><stop offset="0.4508" stop-color="#fdfce0"/><stop offset="0.4758" stop-color="#fefdec"/><stop offset="0.5008" stop-color="#fefef5"/><stop offset="0.5259" stop-color="#fffef9"/><stop offset="0.5509" stop-color="#fffffb"/><stop offset="0.576" stop-color="#fffffa"/><stop offset="0.601" stop-color="#fefef8"/><stop offset="0.626" stop-color="#fefef3"/><stop offset="0.6511" stop-color="#fefdee"/><stop offset="0.6761" stop-color="#fdfde8"/><stop offset="0.7012" stop-color="#fdfce1"/><stop offset="0.7262" stop-color="#fcfcda"/><stop offset="0.7513" stop-color="#fcfbd4"/><stop offset="0.7763" stop-color="#fbfbcf"/><stop offset="0.8013" stop-color="#fbfaca"/><stop offset="0.8264" stop-color="#fbfac8"/><stop offset="0.8514" stop-color="#fbfac7"/><stop offset="0.8765" stop-color="#fbfac6"/><stop offset="0.9015" stop-color="#fbfac6"/><stop offset="0.9265" stop-color="#fbfac6"/><stop offset="0.9516" stop-color="#fbfac6"/><stop offset="0.9766" stop-color="#fbfac7"/><stop offset="1" stop-color="#fbfac8"/></linearGradient><linearGradient id="r84"><stop offset="0" stop-color="#f0e32d"/><stop offset="0.025" stop-color="#f0e22b"/><stop offset="0.0501" stop-color="#f0e129"/><stop offset="0.0751" stop-color="#f0e028"/><stop offset="0.1002" stop-color="#f0e028"/><stop offset="0.1252" stop-color="#f0e129"/><stop offset="0.1503" stop-color="#f0e22b"/><stop offset="0.1753" stop-color="#f0e42f"/><stop offset="0.2003" stop-color="#f0e637"/><stop offset="0.2254" stop-color="#f1e943"/><stop offset="0.2504" stop-color="#f1ec52"/><stop offset="0.2755" stop-color="#f2f062"/><stop offset="0.3005" stop-color="#f4f276"/><stop offset="0.3255" stop-color="#f6f58b"/><stop offset="0.3506" stop-color="#f7f7a0"/><stop offset="0.3756" stop-color="#f9f8b1"/><stop offset="0.4007" stop-color="#fafac2"/><stop offset="0.4257" stop-color="#fcfbd2"/><stop offset="0.4508" stop-color="#fdfce1"/><stop offset="0.4758" stop-color="#fefdee"/><stop offset="0.5008" stop-color="#fefef6"/><stop offset="0.5259" stop-color="#fffffb"/><stop offset="0.5509" stop-color="#fffffc"/><stop offset="0.576" stop-color="#fffffc"/><stop offset="0.601" stop-color="#fffef9"/><stop offset="0.626" stop-color="#fefef4"/><stop offset="0.6511" stop-color="#fefdee"/><stop offset="0.6761" stop-color="#fdfde8"/><stop offset="0.7012" stop-color="#fdfce1"/><stop offset="0.7262" stop-color="#fcfcda"/><stop offset="0.7513" stop-color="#fcfbd4"/><stop offset="0.7763" stop-color="#fbface"/><stop offset="0.8013" stop-color="#fbfaca"/><stop offset="0.8264" stop-color="#fbfac7"/><stop offset="0.8514" stop-color="#fbfac6"/><stop offset="0.8765" stop-color="#fbfac6"/><stop offset="0.9015" stop-color="#fbfac6"/><stop offset="0.9265" stop-color="#fbfac6"/><stop offset="0.9516" stop-color="#fbfac6"/><stop offset="0.9766" stop-color="#fbfac7"/><stop offset="1" stop-color="#fbfac7"/></linearGradient><linearGradient id="r85"><stop offset="0" stop-color="#f0e32e"/><stop offset="0.025" stop-color="#f0e22c"/><stop offset="0.0501" stop-color="#f0e12a"/><stop offset="0.0751" stop-color="#f0e129"/><stop offset="0.1002" stop-color="#f0e129"/><stop offset="0.1252" stop-color="#f0e12a"/><stop offset="0.1503" stop-color="#f0e22c"/><stop offset="0.1753" stop-color="#f0e430"/><stop offset="0.2003" stop-color="#f0e638"/><stop offset="0.2254" stop-color="#f1e944"/><stop offset="0.2504" stop-color="#f1ec53"/><stop offset="0.2755" stop-color="#f2f064"/><stop offset="0.3005" stop-color="#f4f378"/><stop offset="0.3255" stop-color="#f6f58d"/><stop offset="0.3506" stop-color="#f8f7a1"/><stop offset="0.3756" stop-color="#f9f9b2"/><stop offset="0.4007" stop-color="#fafac3"/><stop offset="0.4257" stop-color="#fcfbd3"/><stop offset="0.4508" stop-color="#fdfce3"/><stop offset="0.4758" stop-color="#fefeef"/><stop offset="0.5008" stop-color="#fefef8"/><stop offset="0.5259" stop-color="#fffffc"/><stop offset="0.5509" stop-color="#fffffe"/><stop offset="0.576" stop-color="#fffffd"/><stop offset="0.601" stop-color="#fffefa"/><stop offset="0.626" stop-color="#fefef5"/><stop offset="0.6511" stop-color="#fefeef"/><stop offset="0.6761" stop-color="#fdfde8"/><stop offset="0.7012" stop-color="#fdfce1"/><stop offset="0.7262" stop-color="#fcfcda"/><stop offset="0.7513" stop-color="#fcfbd4"/><stop offset="0.7763" stop-color="#fbface"/><stop offset="0.8013" stop-color="#fbfac9"/><stop offset="0.8264" stop-color="#fbfac7"/><stop offset="0.8514" stop-color="#fbfac6"/><stop offset="0.8765" stop-color="#fbfac5"/><stop offset="0.9015" stop-color="#fbfac5"/><stop offset="0.9265" stop-color="#fbfac5"/><stop offset="0.9516" stop-color="#fbfac6"/><stop offset="0.9766" stop-color="#fbfac6"/><stop offset="1" stop-color="#fbfac7"/></linearGradient><linearGradient id="r86"><stop offset="0" stop-color="#f0e42f"/><stop offset="0.025" stop-color="#f0e32d"/><stop offset="0.0501" stop-color="#f0e22b"/><stop offset="0.0751" stop-color="#f0e12a"/><stop offset="0.1002" stop-color="#f0e12a"/><stop offset="0.1252" stop-color="#f0e22b"/><stop offset="0.1503" stop-color="#f0e32d"/><stop offset="0.1753" stop-color="#f0e531"/><stop offset="0.2003" stop-color="#f0e73a"/><stop offset="0.2254" stop-color="#f1e946"/><stop offset="0.2504" stop-color="#f1ed54"/><stop offset="0.2755" stop-color="#f2f065"/><stop offset="0.3005" stop-color="#f4f379"/><stop offset="0.3255" stop-color="#f6f58e"/><stop offset="0.3506" stop-color="#f8f7a2"/><stop offset="0.3756" stop-color="#f9f9b4"/><stop offset="0.4007" stop-color="#fbfac4"/><stop offset="0.4257" stop-color="#fcfbd5"/><stop offset="0.4508" stop-color="#fdfde4"/><stop offset="0.4758" stop-color="#fefef1"/><stop offset="0.5008" stop-color="#fffef9"/><stop offset="0.5259" stop-color="#fffffd"/><stop offset="0.5509" stop-color="#ffffff"/><stop offset="0.576" stop-color="#fffffe"/><stop offset="0.601" stop-color="#fffffa"/><stop offset="0.626" stop-color="#fefef5"/><stop offset="0.6511" stop-color="#fefeef"/><stop offset="0.6761" stop-color="#fdfde9"/><stop offset="0.7012" stop-color="#fdfce2"/><stop offset="0.7262" stop-color="#fcfcda"/><stop offset="0.7513" stop-color="#fcfbd4"/><stop offset="0.7763" stop-color="#fbface"/><stop offset="0.8013" stop-color="#fbfac9"/><stop offset="0.8264" stop-color="#fbfac7"/><stop offset="0.8514" stop-color="#fbfac5"/><stop offset="0.8765" stop-color="#fbfac5"/><stop offset="0.9015" stop-color="#fbfac5"/><stop offset="0.9265" stop-color="#fbfac5"/><stop offset="0.9516" stop-color="#fbfac5"/><stop offset="0.9766" stop-color="#fbfac6"/><stop offset="1" stop-color="#fbfac6"/></linearGradient><linearGradient id="r87"><stop offset="0" stop-color="#f0e430"/><stop offset="0.025" stop-color="#f0e32e"/><stop offset="0.0501" stop-color="#f0e22c"/><stop offset="0.0751" stop-color="#f0e22b"/><stop offset="0.1002" stop-color="#f0e22b"/><stop offset="0.1252" stop-color="#f0e22c"/><stop offset="0.1503" stop-color="#f0e32e"/><stop offset="0.1753" stop-color="#f0e532"/><stop offset="0.2003" stop-color="#f0e73b"/><stop offset="0.2254" stop-color="#f1ea47"/><stop offset="0.2504" stop-color="#f1ed55"/><stop offset="0.2755" stop-color="#f2f066"/><stop offset="0.3005" stop-color="#f4f37a"/><stop offset="0.3255" stop-color="#f6f690"/><stop offset="0.3506" stop-color="#f8f8a3"/><stop offset="0.3756" stop-color="#f9f9b5"/><stop offset="0.4007" stop-color="#fbfac5"/><stop offset="0.4257" stop-color="#fcfbd6"/><stop offset="0.4508" stop-color="#fdfde6"/><stop offset="0.4758" stop-color="#fefef2"/><stop offset="0.5008" stop-color="#fffffa"/><stop offset="0.5259" stop-color="#fffffe"/><stop offset="0.5509" stop-color="#ffffff"/><stop offset="0.576" stop-color="#fffffe"/><stop offset="0.601" stop-color="#fffffb"/><stop offset="0.626" stop-color="#fefef6"/><stop offset="0.6511" stop-color="#fefef0"/><stop offset="0.6761" stop-color="#fdfde9"/><stop offset="0.7012" stop-color="#fdfce2"/><stop offset="0.7262" stop-color="#fcfcda"/><stop offset="0.7513" stop-color="#fcfbd4"/><stop offset="0.7763" stop-color="#fbface"/><stop offset="0.8013" stop-color="#fbfac9"/><stop offset="0.8264" stop-color="#fbfac6"/><stop offset="0.8514" stop-color="#fbfac5"/><stop offset="0.8765" stop-color="#fbfac4"/><stop offset="0.9015" stop-color="#fbfac4"/><stop offset="0.9265" stop-color="#fbfac4"/><stop offset="0.9516" stop-color="#fbfac5"/><stop offset="0.9766" stop-color="#fbfac5"/><stop offset="1" stop-color="#fbfac6"/></linearGradient><linearGradient id="r88"><stop offset="0" stop-color="#f0e431"/><stop offset="0.025" stop-color="#f0e32f"/><stop offset="0.0501" stop-color="#f0e32d"/><stop offset="0.0751" stop-color="#f0e22c"/><stop offset="0.1002" stop-color="#f0e22c"/><stop offset="0.1252" stop-color="#f0e32d"/><stop offset="0.1503" stop-color="#f0e42f"/><stop offset="0.1753" stop-color="#f0e534"/><stop offset="0.2003" stop-color="#f0e73c"/><stop offset="0.2254" stop-color="#f1ea48"/><stop offset="0.2504" stop-color="#f1ed56"/><stop offset="0.2755" stop-color="#f2f067"/><stop offset="0.3005" stop-color="#f4f37c"/><stop offset="0.3255" stop-color="#f6f691"/><stop offset="0.3506" stop-color="#f8f8a4"/><stop offset="0.3756" stop-color="#f9f9b6"/><stop offset="0.4007" stop-color="#fbfac7"/><stop offset="0.4257" stop-color="#fcfbd8"/><stop offset="0.4508" stop-color="#fdfde7"/><stop offset="0.4758" stop-color="#fefef3"/><stop offset="0.5008" stop-color="#fffffb"/><stop offset="0.5259" stop-color="#ffffff"/><stop offset="0.5509" stop-color="#ffffff"/><stop offset="0.576" stop-color="#ffffff"/><stop offset="0.601" stop-color="#fffffc"/><stop offset="0.626" stop-color="#fefef7"/><stop offset="0.6511" stop-color="#fefef0"/><stop offset="0.6761" stop-color="#fdfde9"/><stop offset="0.7012" stop-color="#fdfce2"/><stop offset="0.7262" stop-color="#fcfcda"/><stop offset="0.7513" stop-color="#fcfbd3"/><stop offset="0.7763" stop-color="#fbfacd"/><stop offset="0.8013" stop-color="#fbfac9"/><stop offset="0.8264" stop-color="#fbfac6"/><stop offset="0.8514" stop-color="#fbfac5"/><stop offset="0.8765" stop-color="#fbfac4"/><stop offset="0.9015" stop-color="#fbfac4"/><stop offset="0.9265" stop-color="#fbfac4"/><stop offset="0.9516" stop-color="#fbfac4"/><stop offset="0.9766" stop-color="#fbfac5"/><stop offset="1" stop-color="#fbfac6"/></linearGradient><linearGradient id="r89"><stop offset="0" stop-color="#f0e532"/><stop offset="0.025" stop-color="#f0e42f"/><stop offset="0.0501" stop-color="#f0e32e"/><stop offset="0.0751" stop-color="#f0e22d"/><stop offset="0.1002" stop-color="#f0e22c"/><stop offset="0.1252" stop-color="#f0e32d"/><stop offset="0.1503" stop-color="#f0e430"/><stop offset="0.1753" stop-color="#f0e635"/><stop offset="0.2003" stop-color="#f0e73d"/><stop offset="0.2254" stop-color="#f1ea49"/><stop offset="0.2504" stop-color="#f1ed57"/><stop offset="0.2755" stop-color="#f2f168"/><stop offset="0.3005" stop-color="#f4f37d"/><stop offset="0.3255" stop-color="#f6f692"/><stop offset="0.3506" stop-color="#f8f8a5"/><stop offset="0.3756" stop-color="#f9f9b7"/><stop offset="0.4007" stop-color="#fbfac8"/><stop offset="0.4257" stop-color="#fcfbd9"/><stop offset="0.4508" stop-color="#fdfde8"/><stop offset="0.4758" stop-color="#fefef4"/><stop offset="0.5008" stop-color="#fffffc"/><stop offset="0.5259" stop-color="#ffffff"/><stop offset="0.5509" stop-color="#ffffff"/><stop offset="0.576" stop-color="#ffffff"/><stop offset="0.601" stop-color="#fffffc"/><stop offset="0.626" stop-color="#fefef7"/><stop offset="0.6511" stop-color="#fefef1"/><stop offset="0.6761" stop-color="#fdfdea"/><stop offset="0.7012" stop-color="#fdfce2"/><stop offset="0.7262" stop-color="#fcfcda"/><stop offset="0.7513" stop-color="#fcfbd3"/><stop offset="0.7763" stop-color="#fbfacd"/><stop offset="0.8013" stop-color="#fbfac8"/><stop offset="0.8264" stop-color="#fbfac6"/><stop offset="0.8514" stop-color="#fbfac4"/><stop offset="0.8765" stop-color="#fbfac4"/><stop offset="0.9015" stop-color="#fbfac3"/><stop offset="0.9265" stop-color="#fbfac4"/><stop offset="0.9516" stop-color="#fbfac4"/><stop offset="0.9766" stop-color="#fbfac5"/><stop offset="1" stop-color="#fbfac6"/></linearGradient><linearGradient id="r90"><stop offset="0" stop-color="#f0e533"/><stop offset="0.025" stop-color="#f0e430"/><stop offset="0.0501" stop-color="#f0e32e"/><stop offset="0.0751" stop-color="#f0e32d"/><stop offset="0.1002" stop-color="#f0e32d"/><stop offset="0.1252" stop-color="#f0e32e"/><stop offset="0.1503" stop-color="#f0e431"/><stop offset="0.1753" stop-color="#f0e636"/><stop offset="0.2003" stop-color="#f0e83e"/><stop offset="0.2254" stop-color="#f1ea4a"/><stop offset="0.2504" stop-color="#f2ed58"/><stop offset="0.2755" stop-color="#f2f169"/><stop offset="0.3005" stop-color="#f4f37d"/><stop offset="0.3255" stop-color="#f6f693"/><stop offset="0.3506" stop-color="#f8f8a6"/><stop offset="0.3756" stop-color="#faf9b8"/><stop offset="0.4007" stop-color="#fbfac8"/><stop offset="0.4257" stop-color="#fcfcda"/><stop offset="0.4508" stop-color="#fdfde9"/><stop offset="0.4758" stop-color="#fefef5"/><stop offset="0.5008" stop-color="#fffffd"/><stop offset="0.5259" stop-color="#ffffff"/><stop offset="0.5509" stop-color="#ffffff"/><stop offset="0.576" stop-color="#ffffff"/><stop offset="0.601" stop-color="#fffffd"/><stop offset="0.626" stop-color="#fefef8"/><stop offset="0.6511" stop-color="#fefef1"/><stop offset="0.6761" stop-color="#fdfdea"/><stop offset="0.7012" stop-color="#fdfce2"/><stop offset="0.7262" stop-color="#fcfcdb"/><stop offset="0.7513" stop-color="#fcfbd3"/><stop offset="0.7763" stop-color="#fbfacd"/><stop offset="0.8013" stop-color="#fbfac8"/><stop offset="0.8264" stop-color="#fbfac5"/><stop offset="0.8514" stop-color="#fbfac4"/><stop offset="0.8765" stop-color="#fbfac3"/><stop offset="0.9015" stop-color="#fafac3"/><stop offset="0.9265" stop-color="#fbfac3"/><stop offset="0.9516" stop-color="#fbfac4"/><stop offset="0.9766" stop-color="#fbfac5"/><stop offset="1" stop-color="#fbfac5"/></linearGradient><linearGradient id="r91"><stop offset="0" stop-color="#f0e534"/><stop offset="0.025" stop-color="#f0e431"/><stop offset="0.0501" stop-color="#f0e42f"/><stop offset="0.0751" stop-color="#f0e32e"/><stop offset="0.1002" stop-color="#f0e32e"/><stop offset="0.1252" stop-color="#f0e42f"/><stop offset="0.1503" stop-color="#f0e531"/><stop offset="0.1753" stop-color="#f0e636"/><stop offset="0.2003" stop-color="#f1e83f"/><stop offset="0.2254" stop-color="#f1ea4b"/><stop offset="0.2504" stop-color="#f2ee59"/><stop offset="0.2755" stop-color="#f3f16a"/><stop offset="0.3005" stop-color="#f4f37e"/><stop offset="0.3255" stop-color="#f6f693"/><stop offset="0.3506" stop-color="#f8f8a7"/><stop offset="0.3756" stop-color="#faf9b9"/><stop offset="0.4007" stop-color="#fbfac9"/><stop offset="0.4257" stop-color="#fcfcdb"/><stop offset="0.4508" stop-color="#fdfdea"/><stop offset="0.4758" stop-color="#fefef6"/><stop offset="0.5008" stop-color="#fffffe"/><stop offset="0.5259" stop-color="#ffffff"/><stop offset="0.5509" stop-color="#ffffff"/><stop offset="0.576" stop-color="#ffffff"/><stop offset="0.601" stop-color="#fffffe"/><stop offset="0.626" stop-color="#fefef8"/><stop offset="0.6511" stop-color="#fefef2"/><stop offset="0.6761" stop-color="#fdfdea"/><stop offset="0.7012" stop-color="#fdfce2"/><stop offset="0.7262" stop-color="#fcfcdb"/><stop offset="0.7513" stop-color="#fcfbd3"/><stop offset="0.7763" stop-color="#fbfacd"/><stop offset="0.8013" stop-color="#fbfac8"/><stop offset="0.8264" stop-color="#fbfac5"/><stop offset="0.8514" stop-color="#fbfac4"/><stop offset="0.8765" stop-color="#fafac3"/><stop offset="0.9015" stop-color="#fafac3"/><stop offset="0.9265" stop-color="#fafac3"/><stop offset="0.9516" stop-color="#fbfac4"/><stop offset="0.9766" stop-color="#fbfac4"/><stop offset="1" stop-color="#fbfac5"/></linearGradient><linearGradient id="r92"><stop offset="0" stop-color="#f0e634"/><stop offset="0.025" stop-color="#f0e531"/><stop offset="0.0501" stop-color="#f0e430"/><stop offset="0.0751" stop-color="#f0e32e"/><stop offset="0.1002" stop-color="#f0e32e"/><stop offset="0.1252" stop-color="#f0e42f"/><stop offset="0.1503" stop-color="#f0e532"/><stop offset="0.1753" stop-color="#f0e637"/><stop offset="0.2003" stop-color="#f1e840"/><stop offset="0.2254" stop-color="#f1eb4b"/><stop offset="0.2504" stop-color="#f2ee59"/><stop offset="0.2755" stop-color="#f3f16b"/><stop offset="0.3005" stop-color="#f4f37f"/><stop offset="0.3255" stop-color="#f6f694"/><stop offset="0.3506" stop-color="#f8f8a7"/><stop offset="0.3756" stop-color="#faf9b9"/><stop offset="0.4007" stop-color="#fbfaca"/><stop offset="0.4257" stop-color="#fcfcdc"/><stop offset="0.4508" stop-color="#fefdeb"/><stop offset="0.4758" stop-color="#fefef7"/><stop offset="0.5008" stop-color="#ffffff"/><stop offset="0.5259" stop-color="#ffffff"/><stop offset="0.5509" stop-color="#ffffff"/><stop offset="0.576" stop-color="#ffffff"/><stop offset="0.601" stop-color="#fffffe"/><stop offset="0.626" stop-color="#fffef9"/><stop offset="0.6511" stop-color="#fefef2"/><stop offset="0.6761" stop-color="#fdfdea"/><stop offset="0.7012" stop-color="#fdfce2"/><stop offset="0.7262" stop-color="#fcfcdb"/><stop offset="0.7513" stop-color="#fcfbd3"/><stop offset="0.7763" stop-color="#fbfacd"/><stop offset="0.8013" stop-color="#fbfac8"/><stop offset="0.8264" stop-color="#fbfac5"/><stop offset="0.8514" stop-color="#fbfac4"/><stop offset="0.8765" stop-color="#fafac3"/><stop offset="0.9015" stop-color="#fafac3"/><stop offset="0.9265" stop-color="#fafac3"/><stop offset="0.9516" stop-color="#fbfac3"/><stop offset="0.9766" stop-color="#fbfac4"/><stop offset="1" stop-color="#fbfac5"/></linearGradient><linearGradient id="r93"><stop offset="0" stop-color="#f0e635"/><stop offset="0.025" stop-color="#f0e532"/><stop offset="0.0501" stop-color="#f0e430"/><stop offset="0.0751" stop-color="#f0e42f"/><stop offset="0.1002" stop-color="#f0e42f"/><stop offset="0.1252" stop-color="#f0e430"/><stop offset="0.1503" stop-color="#f0e532"/><stop offset="0.1753" stop-color="#f0e638"/><stop offset="0.2003" stop-color="#f1e840"/><stop offset="0.2254" stop-color="#f1eb4c"/><stop offset="0.2504" stop-color="#f2ee5a"/><stop offset="0.2755" stop-color="#f3f16b"/><stop offset="0.3005" stop-color="#f4f37f"/><stop offset="0.3255" stop-color="#f6f695"/><stop offset="0.3506" stop-color="#f8f8a8"/><stop offset="0.3756" stop-color="#faf9ba"/><stop offset="0.4007" stop-color="#fbfacb"/><stop offset="0.4257" stop-color="#fcfcdd"/><stop offset="0.4508" stop-color="#fefdec"/><stop offset="0.4758" stop-color="#fefef7"/><stop offset="0.5008" stop-color="#ffffff"/><stop offset="0.5259" stop-color="#ffffff"/><stop offset="0.5509" stop-color="#ffffff"/><stop offset="0.576" stop-color="#ffffff"/><stop offset="0.601" stop-color="#fffffe"/><stop offset="0.626" stop-color="#fffef9"/><stop offset="0.6511" stop-color="#fefef2"/><stop offset="0.6761" stop-color="#fdfdeb"/><stop offset="0.7012" stop-color="#fdfce3"/><stop offset="0.7262" stop-color="#fcfcdb"/><stop offset="0.7513" stop-color="#fcfbd3"/><stop offset="0.7763" stop-color="#fbfacd"/><stop offset="0.8013" stop-color="#fbfac8"/><stop offset="0.8264" stop-color="#fbfac5"/><stop offset="0.8514" stop-color="#fbfac3"/><stop offset="0.8765" stop-color="#fafac3"/><stop offset="0.9015" stop-color="#fafac2"/><stop offset="0.9265" stop-color="#fafac3"/><stop offset="0.9516" stop-color="#fafac3"/><stop offset="0.9766" stop-color="#fbfac4"/><stop offset="1" stop-color="#fbfac5"/></linearGradient><linearGradient id="r94"><stop offset="0" stop-color="#f0e636"/><stop offset="0.025" stop-color="#f0e533"/><stop offset="0.0501" stop-color="#f0e431"/><stop offset="0.0751" stop-color="#f0e42f"/><stop offset="0.1002" stop-color="#f0e42f"/><stop offset="0.1252" stop-color="#f0e430"/><stop offset="0.1503" stop-color="#f0e533"/><stop offset="0.1753" stop-color="#f0e638"/><stop offset="0.2003" stop-color="#f1e841"/><stop offset="0.2254" stop-color="#f1eb4c"/><stop offset="0.2504" stop-color="#f2ee5a"/><stop offset="0.2755" stop-color="#f3f16c"/><stop offset="0.3005" stop-color="#f5f480"/><stop offset="0.3255" stop-color="#f6f695"/><stop offset="0.3506" stop-color="#f8f8a8"/><stop offset="0.3756" stop-color="#faf9ba"/><stop offset="0.4007" stop-color="#fbfacb"/><stop offset="0.4257" stop-color="#fcfcdd"/><stop offset="0.4508" stop-color="#fefdec"/><stop offset="0.4758" stop-color="#fefef8"/><stop offset="0.5008" stop-color="#ffffff"/><stop offset="0.5259" stop-color="#ffffff"/><stop offset="0.5509" stop-color="#ffffff"/><stop offset="0.576" stop-color="#ffffff"/><stop offset="0.601" stop-color="#ffffff"/><stop offset="0.626" stop-color="#fffef9"/><stop offset="0.6511" stop-color="#fefef2"/><stop offset="0.6761" stop-color="#fdfdeb"/><stop offset="0.7012" stop-color="#fdfce3"/><stop offset="0.7262" stop-color="#fcfcdb"/><stop offset="0.7513" stop-color="#fcfbd3"/><stop offset="0.7763" stop-color="#fbfacd"/><stop offset="0.8013" stop-color="#fbfac8"/><stop offset="0.8264" stop-color="#fbfac5"/><stop offset="0.8514" stop-color="#fbfac3"/><stop offset="0.8765" stop-color="#fafac3"/><stop offset="0.9015" stop-color="#fafac2"/><stop offset="0.9265" stop-color="#fafac2"/><stop offset="0.9516" stop-color="#fafac3"/><stop offset="0.9766" stop-color="#fbfac4"/><stop offset="1" stop-color="#fbfac5"/></linearGradient><linearGradient id="r95"><stop offset="0" stop-color="#f0e636"/><stop offset="0.025" stop-color="#f0e533"/><stop offset="0.0501" stop-color="#f0e431"/><stop offset="0.0751" stop-color="#f0e430"/><stop offset="0.1002" stop-color="#f0e42f"/><stop offset="0.1252" stop-color="#f0e430"/><stop offset="0.1503" stop-color="#f0e533"/><stop offset="0.1753" stop-color="#f0e638"/><stop offset="0.2003" stop-color="#f1e841"/><stop offset="0.2254" stop-color="#f1eb4d"/><stop offset="0.2504" stop-color="#f2ee5b"/><stop offset="0.2755" stop-color="#f3f16c"/><stop offset="0.3005" stop-color="#f5f480"/><stop offset="0.3255" stop-color="#f7f696"/><stop offset="0.3506" stop-color="#f8f8a9"/><stop offset="0.3756" stop-color="#faf9bb"/><stop offset="0.4007" stop-color="#fbfacc"/><stop offset="0.4257" stop-color="#fdfcde"/><stop offset="0.4508" stop-color="#fefded"/><stop offset="0.4758" stop-color="#fffef8"/><stop offset="0.5008" stop-color="#ffffff"/><stop offset="0.5259" stop-color="#ffffff"/><stop offset="0.5509" stop-color="#ffffff"/><stop offset="0.576" stop-color="#ffffff"/><stop offset="0.601" stop-color="#ffffff"/><stop offset="0.626" stop-color="#fffef9"/><stop offset="0.6511" stop-color="#fefef3"/><stop offset="0.6761" stop-color="#fefdeb"/><stop offset="0.7012" stop-color="#fdfce3"/><stop offset="0.7262" stop-color="#fcfcdb"/><stop offset="0.7513" stop-color="#fcfbd3"/><stop offset="0.7763" stop-color="#fbfacd"/><stop offset="0.8013" stop-color="#fbfac8"/><stop offset="0.8264" stop-color="#fbfac5"/><stop offset="0.8514" stop-color="#fafac3"/><stop offset="0.8765" stop-color="#fafac2"/><stop offset="0.9015" stop-color="#fafac2"/><stop offset="0.9265" stop-color="#fafac2"/><stop offset="0.9516" stop-color="#fafac3"/><stop offset="0.9766" stop-color="#fbfac4"/><stop offset="1" stop-color="#fbfac5"/></linearGradient><linearGradient id="r96"><stop offset="0" stop-color="#f0e637"/><stop offset="0.025" stop-color="#f0e533"/><stop offset="0.0501" stop-color="#f0e531"/><stop offset="0.0751" stop-color="#f0e430"/><stop offset="0.1002" stop-color="#f0e430"/><stop offset="0.1252" stop-color="#f0e431"/><stop offset="0.1503" stop-color="#f0e533"/><stop offset="0.1753" stop-color="#f0e639"/><stop offset="0.2003" stop-color="#f1e841"/><stop offset="0.2254" stop-color="#f1eb4d"/><stop offset="0.2504" stop-color="#f2ee5b"/><stop offset="0.2755" stop-color="#f3f16d"/><stop offset="0.3005" stop-color="#f5f481"/><stop offset="0.3255" stop-color="#f7f696"/><stop offset="0.3506" stop-color="#f8f8a9"/><stop offset="0.3756" stop-color="#faf9bb"/><stop offset="0.4007" stop-color="#fbfacc"/><stop offset="0.4257" stop-color="#fdfcde"/><stop offset="0.4508" stop-color="#fefded"/><stop offset="0.4758" stop-color="#fffef9"/><stop offset="0.5008" stop-color="#ffffff"/><stop offset="0.5259" stop-color="#ffffff"/><stop offset="0.5509" stop-color="#ffffff"/><stop offset="0.576" stop-color="#ffffff"/><stop offset="0.601" stop-color="#ffffff"/><stop offset="0.626" stop-color="#fffffa"/><stop offset="0.6511" stop-color="#fefef3"/><stop offset="0.6761" stop-color="#fefdeb"/><stop offset="0.7012" stop-color="#fdfce3"/><stop offset="0.7262" stop-color="#fcfcdb"/><stop offset="0.7513" stop-color="#fcfbd3"/><stop offset="0.7763" stop-color="#fbfacd"/><stop offset="0.8013" stop-color="#fbfac8"/><stop offset="0.8264" stop-color="#fbfac5"/><stop offset="0.8514" stop-color="#fafac3"/><stop offset="0.8765" stop-color="#fafac2"/><stop offset="0.9015" stop-color="#fafac2"/><stop offset="0.9265" stop-color="#fafac2"/><stop offset="0.9516" stop-color="#fafac3"/><stop offset="0.9766" stop-color="#fbfac4"/><stop offset="1" stop-color="#fbfac5"/></linearGradient><linearGradient id="r97"><stop offset="0" stop-color="#f0e637"/><stop offset="0.025" stop-color="#f0e534"/><stop offset="0.0501" stop-color="#f0e531"/><stop offset="0.0751" stop-color="#f0e430"/><stop offset="0.1002" stop-color="#f0e430"/><stop offset="0.1252" stop-color="#f0e431"/><stop offset="0.1503" stop-color="#f0e534"/><stop offset="0.1753" stop-color="#f0e739"/><stop offset="0.2003" stop-color="#f1e842"/><stop offset="0.2254" stop-color="#f1eb4d"/><stop offset="0.2504" stop-color="#f2ee5b"/><stop offset="0.2755" stop-color="#f3f16d"/><stop offset="0.3005" stop-color="#f5f481"/><stop offset="0.3255" stop-color="#f7f696"/><stop offset="0.3506" stop-color="#f8f8a9"/><stop offset="0.3756" stop-color="#faf9bb"/><stop offset="0.4007" stop-color="#fbfacd"/><stop offset="0.4257" stop-color="#fdfcde"/><stop offset="0.4508" stop-color="#fefded"/><stop offset="0.4758" stop-color="#fffef9"/><stop offset="0.5008" stop-color="#ffffff"/><stop offset="0.5259" stop-color="#ffffff"/><stop offset="0.5509" stop-color="#ffffff"/><stop offset="0.576" stop-color="#ffffff"/><stop offset="0.601" stop-color="#ffffff"/><stop offset="0.626" stop-color="#fffffa"/><stop offset="0.6511" stop-color="#fefef3"/><stop offset="0.6761" stop-color="#fefdeb"/><stop offset="0.7012" stop-color="#fdfce3"/><stop offset="0.7262" stop-color="#fcfcdb"/><stop offset="0.7513" stop-color="#fcfbd3"/><stop offset="0.7763" stop-color="#fbfacd"/><stop offset="0.8013" stop-color="#fbfac7"/><stop offset="0.8264" stop-color="#fbfac4"/><stop offset="0.8514" stop-color="#fafac3"/><stop offset="0.8765" stop-color="#fafac2"/><stop offset="0.9015" stop-color="#fafac2"/><stop offset="0.9265" stop-color="#fafac2"/><stop offset="0.9516" stop-color="#fafac3"/><stop offset="0.9766" stop-color="#fbfac4"/><stop offset="1" stop-color="#fbfac5"/></linearGradient><linearGradient id="r98"><stop offset="0" stop-color="#f0e637"/><stop offset="0.025" stop-color="#f0e534"/><stop offset="0.0501" stop-color="#f0e532"/><stop offset="0.0751" stop-color="#f0e430"/><stop offset="0.1002" stop-color="#f0e430"/><stop offset="0.1252" stop-color="#f0e531"/><stop offset="0.1503" stop-color="#f0e534"/><stop offset="0.1753" stop-color="#f0e739"/><stop offset="0.2003" stop-color="#f1e842"/><stop offset="0.2254" stop-color="#f1eb4d"/><stop offset="0.2504" stop-color="#f2ee5c"/><stop offset="0.2755" stop-color="#f3f16d"/><stop offset="0.3005" stop-color="#f5f481"/><stop offset="0.3255" stop-color="#f7f697"/><stop offset="0.3506" stop-color="#f8f8aa"/><stop offset="0.3756" stop-color="#faf9bc"/><stop offset="0.4007" stop-color="#fbfacd"/><stop offset="0.4257" stop-color="#fdfcdf"/><stop offset="0.4508" stop-color="#fefdee"/><stop offset="0.4758" stop-color="#fffef9"/><stop offset="0.5008" stop-color="#ffffff"/><stop offset="0.5259" stop-color="#ffffff"/><stop offset="0.5509" stop-color="#ffffff"/><stop offset="0.576" stop-color="#ffffff"/><stop offset="0.601" stop-color="#ffffff"/><stop offset="0.626" stop-color="#fffffa"/><stop offset="0.6511" stop-color="#fefef3"/><stop offset="0.6761" stop-color="#fefdeb"/><stop offset="0.7012" stop-color="#fdfce3"/><stop offset="0.7262" stop-color="#fcfcdb"/><stop offset="0.7513" stop-color="#fcfbd3"/><stop offset="0.7763" stop-color="#fbfacc"/><stop offset="0.8013" stop-color="#fbfac7"/><stop offset="0.8264" stop-color="#fbfac4"/><stop offset="0.8514" stop-color="#fafac3"/><stop offset="0.8765" stop-color="#fafac2"/><stop offset="0.9015" stop-color="#fafac2"/><stop offset="0.9265" stop-color="#fafac2"/><stop offset="0.9516" stop-color="#fafac3"/><stop offset="0.9766" stop-color="#fbfac4"/><stop offset="1" stop-color="#fbfac5"/></linearGradient><linearGradient id="r99"><stop offset="0" stop-color="#f0e638"/><stop offset="0.025" stop-color="#f0e534"/><stop offset="0.0501" stop-color="#f0e532"/><stop offset="0.0751" stop-color="#f0e430"/><stop offset="0.1002" stop-color="#f0e430"/><stop offset="0.1252" stop-color="#f0e531"/><stop offset="0.1503" stop-color="#f0e534"/><stop offset="0.1753" stop-color="#f0e739"/><stop offset="0.2003" stop-color="#f1e842"/><stop offset="0.2254" stop-color="#f1eb4e"/><stop offset="0.2504" stop-color="#f2ee5c"/><stop offset="0.2755" stop-color="#f3f16d"/><stop offset="0.3005" stop-color="#f5f482"/><stop offset="0.3255" stop-color="#f7f797"/><stop offset="0.3506" stop-color="#f8f8aa"/><stop offset="0.3756" stop-color="#faf9bc"/><stop offset="0.4007" stop-color="#fbfacd"/><stop offset="0.4257" stop-color="#fdfcdf"/><stop offset="0.4508" stop-color="#fefdee"/><stop offset="0.4758" stop-color="#fffef9"/><stop offset="0.5008" stop-color="#ffffff"/><stop offset="0.5259" stop-color="#ffffff"/><stop offset="0.5509" stop-color="#ffffff"/><stop offset="0.576" stop-color="#ffffff"/><stop offset="0.601" stop-color="#ffffff"/><stop offset="0.626" stop-color="#fffffa"/><stop offset="0.6511" stop-color="#fefef3"/><stop offset="0.6761" stop-color="#fefdeb"/><stop offset="0.7012" stop-color="#fdfce3"/><stop offset="0.7262" stop-color="#fcfcdb"/><stop offset="0.7513" stop-color="#fcfbd3"/><stop offset="0.7763" stop-color="#fbfacc"/><stop offset="0.8013" stop-color="#fbfac7"/><stop offset="0.8264" stop-color="#fbfac4"/><stop offset="0.8514" stop-color="#fafac3"/><stop offset="0.8765" stop-color="#fafac2"/><stop offset="0.9015" stop-color="#fafac2"/><stop offset="0.9265" stop-color="#fafac2"/><stop offset="0.9516" stop-color="#fafac3"/><stop offset="0.9766" stop-color="#fbfac3"/><stop offset="1" stop-color="#fbfac4"/></linearGradient><linearGradient id="r100"><stop offset="0" stop-color="#f0e638"/><stop offset="0.025" stop-color="#f0e634"/><stop offset="0.0501" stop-color="#f0e532"/><stop offset="0.0751" stop-color="#f0e431"/><stop offset="0.1002" stop-color="#f0e430"/><stop offset="0.1252" stop-color="#f0e531"/><stop offset="0.1503" stop-color="#f0e534"/><stop offset="0.1753" stop-color="#f0e739"/><stop offset="0.2003" stop-color="#f1e942"/><stop offset="0.2254" stop-color="#f1eb4e"/><stop offset="0.2504" stop-color="#f2ee5c"/><stop offset="0.2755" stop-color="#f3f16e"/><stop offset="0.3005" stop-color="#f5f482"/><stop offset="0.3255" stop-color="#f7f797"/><stop offset="0.3506" stop-color="#f8f8aa"/><stop offset="0.3756" stop-color="#faf9bc"/><stop offset="0.4007" stop-color="#fbfacd"/><stop offset="0.4257" stop-color="#fdfcdf"/><stop offset="0.4508" stop-color="#fefdee"/><stop offset="0.4758" stop-color="#fffefa"/><stop offset="0.5008" stop-color="#ffffff"/><stop offset="0.5259" stop-color="#ffffff"/><stop offset="0.5509" stop-color="#ffffff"/><stop offset="0.576" stop-color="#ffffff"/><stop offset="0.601" stop-color="#ffffff"/><stop offset="0.626" stop-color="#fffffa"/><stop offset="0.6511" stop-color="#fefef3"/><stop offset="0.6761" stop-color="#fefdeb"/><stop offset="0.7012" stop-color="#fdfce3"/><stop offset="0.7262" stop-color="#fcfcdb"/><stop offset="0.7513" stop-color="#fcfbd3"/><stop offset="0.7763" stop-color="#fbfacc"/><stop offset="0.8013" stop-color="#fbfac7"/><stop offset="0.8264" stop-color="#fbfac4"/><stop offset="0.8514" stop-color="#fafac3"/><stop offset="0.8765" stop-color="#fafac2"/><stop offset="0.9015" stop-color="#fafac2"/><stop offset="0.9265" stop-color="#fafac2"/><stop offset="0.9516" stop-color="#fafac3"/><stop offset="0.9766" stop-color="#fbfac3"/><stop offset="1" stop-color="#fbfac4"/></linearGradient><linearGradient id="r101"><stop offset="0" stop-color="#f0e638"/><stop offset="0.025" stop-color="#f0e634"/><stop offset="0.0501" stop-color="#f0e532"/><stop offset="0.0751" stop-color="#f0e431"/><stop offset="0.1002" stop-color="#f0e430"/><stop offset="0.1252" stop-color="#f0e531"/><stop offset="0.1503" stop-color="#f0e534"/><stop offset="0.1753" stop-color="#f0e739"/><stop offset="0.2003" stop-color="#f1e942"/><stop offset="0.2254" stop-color="#f1eb4e"/><stop offset="0.2504" stop-color="#f2ee5c"/><stop offset="0.2755" stop-color="#f3f16e"/><stop offset="0.3005" stop-color="#f5f482"/><stop offset="0.3255" stop-color="#f7f798"/><stop offset="0.3506" stop-color="#f8f8aa"/><stop offset="0.3756" stop-color="#faf9bc"/><stop offset="0.4007" stop-color="#fbfacd"/><stop offset="0.4257" stop-color="#fdfcdf"/><stop offset="0.4508" stop-color="#fefdee"/><stop offset="0.4758" stop-color="#fffffa"/><stop offset="0.5008" stop-color="#ffffff"/><stop offset="0.5259" stop-color="#ffffff"/><stop offset="0.5509" stop-color="#ffffff"/><stop offset="0.576" stop-color="#ffffff"/><stop offset="0.601" stop-color="#ffffff"/><stop offset="0.626" stop-color="#fffffa"/><stop offset="0.6511" stop-color="#fefef3"/><stop offset="0.6761" stop-color="#fefdeb"/><stop offset="0.7012" stop-color="#fdfce3"/><stop offset="0.7262" stop-color="#fcfcdb"/><stop offset="0.7513" stop-color="#fcfbd3"/><stop offset="0.7763" stop-color="#fbfacc"/><stop offset="0.8013" stop-color="#fbfac7"/><stop offset="0.8264" stop-color="#fbfac4"/><stop offset="0.8514" stop-color="#fafac3"/><stop offset="0.8765" stop-color="#fafac2"/><stop offset="0.9015" stop-color="#fafac2"/><stop offset="0.9265" stop-color="#fafac2"/><stop offset="0.9516" stop-color="#fafac3"/><stop offset="0.9766" stop-color="#fbfac3"/><stop offset="1" stop-color="#fbfac4"/></linearGradient><linearGradient id="r102"><stop offset="0" stop-color="#f0e638"/><stop offset="0.025" stop-color="#f0e634"/><stop offset="0.0501" stop-color="#f0e532"/><stop offset="0.0751" stop-color="#f0e431"/><stop offset="0.1002" stop-color="#f0e430"/><stop offset="0.1252" stop-color="#f0e531"/><stop offset="0.1503" stop-color="#f0e534"/><stop offset="0.1753" stop-color="#f0e739"/><stop offset="0.2003" stop-color="#f1e942"/><stop offset="0.2254" stop-color="#f1eb4e"/><stop offset="0.2504" stop-color="#f2ee5c"/><stop offset="0.2755" stop-color="#f3f16e"/><stop offset="0.3005" stop-color="#f5f482"/><stop offset="0.3255" stop-color="#f7f798"/><stop offset="0.3506" stop-color="#f8f8aa"/><stop offset="0.3756" stop-color="#faf9bc"/><stop offset="0.4007" stop-color="#fbface"/><stop offset="0.4257" stop-color="#fdfcdf"/><stop offset="0.4508" stop-color="#fefdee"/><stop offset="0.4758" stop-color="#fffffa"/><stop offset="0.5008" stop-color="#ffffff"/><stop offset="0.5259" stop-color="#ffffff"/><stop offset="0.5509" stop-color="#ffffff"/><stop offset="0.576" stop-color="#ffffff"/><stop offset="0.601" stop-color="#ffffff"/><stop offset="0.626" stop-color="#fffffa"/><stop offset="0.6511" stop-color="#fefef3"/><stop offset="0.6761" stop-color="#fefdeb"/><stop offset="0.7012" stop-color="#fdfce3"/><stop offset="0.7262" stop-color="#fcfcdb"/><stop offset="0.7513" stop-color="#fcfbd3"/><stop offset="0.7763" stop-color="#fbfacc"/><stop offset="0.8013" stop-color="#fbfac7"/><stop offset="0.8264" stop-color="#fbfac4"/><stop offset="0.8514" stop-color="#fafac3"/><stop offset="0.8765" stop-color="#fafac2"/><stop offset="0.9015" stop-color="#fafac2"/><stop offset="0.9265" stop-color="#fafac2"/><stop offset="0.9516" stop-color="#fafac2"/><stop offset="0.9766" stop-color="#fbfac3"/><stop offset="1" stop-color="#fbfac4"/></linearGradient><linearGradient id="r103"><stop offset="0" stop-color="#f0e638"/><stop offset="0.025" stop-color="#f0e634"/><stop offset="0.0501" stop-color="#f0e532"/><stop offset="0.0751" stop-color="#f0e430"/><stop offset="0.1002" stop-color="#f0e430"/><stop offset="0.1252" stop-color="#f0e531"/><stop offset="0.1503" stop-color="#f0e534"/><stop offset="0.1753" stop-color="#f0e739"/><stop offset="0.2003" stop-color="#f1e842"/><stop offset="0.2254" stop-color="#f1eb4e"/><stop offset="0.2504" stop-color="#f2ee5c"/><stop offset="0.2755" stop-color="#f3f16e"/><stop offset="0.3005" stop-color="#f5f482"/><stop offset="0.3255" stop-color="#f7f798"/><stop offset="0.3506" stop-color="#f8f8ab"/><stop offset="0.3756" stop-color="#faf9bc"/><stop offset="0.4007" stop-color="#fbface"/><stop offset="0.4257" stop-color="#fdfcdf"/><stop offset="0.4508" stop-color="#fefdee"/><stop offset="0.4758" stop-color="#fffefa"/><stop offset="0.5008" stop-color="#ffffff"/><stop offset="0.5259" stop-color="#ffffff"/><stop offset="0.5509" stop-color="#ffffff"/><stop offset="0.576" stop-color="#ffffff"/><stop offset="0.601" stop-color="#ffffff"/><stop offset="0.626" stop-color="#fffffa"/><stop offset="0.6511" stop-color="#fefef3"/><stop offset="0.6761" stop-color="#fefdeb"/><stop offset="0.7012" stop-color="#fdfce3"/><stop offset="0.7262" stop-color="#fcfcdb"/><stop offset="0.7513" stop-color="#fcfbd3"/><stop offset="0.7763" stop-color="#fbfacc"/><stop offset="0.8013" stop-color="#fbfac7"/><stop offset="0.8264" stop-color="#fbfac4"/><stop offset="0.8514" stop-color="#fafac3"/><stop offset="0.8765" stop-color="#fafac2"/><stop offset="0.9015" stop-color="#fafac2"/><stop offset="0.9265" stop-color="#fafac2"/><stop offset="0.9516" stop-color="#fafac2"/><stop offset="0.9766" stop-color="#fbfac3"/><stop offset="1" stop-color="#fbfac4"/></linearGradient><linearGradient id="r104"><stop offset="0" stop-color="#f0e638"/><stop offset="0.025" stop-color="#f0e534"/><stop offset="0.0501" stop-color="#f0e532"/><stop offset="0.0751" stop-color="#f0e430"/><stop offset="0.1002" stop-color="#f0e430"/><stop offset="0.1252" stop-color="#f0e531"/><stop offset="0.1503" stop-color="#f0e534"/><stop offset="0.1753" stop-color="#f0e739"/><stop offset="0.2003" stop-color="#f1e842"/><stop offset="0.2254" stop-color="#f1eb4d"/><stop offset="0.2504" stop-color="#f2ee5c"/><stop offset="0.2755" stop-color="#f3f16e"/><stop offset="0.3005" stop-color="#f5f482"/><stop offset="0.3255" stop-color="#f7f798"/><stop offset="0.3506" stop-color="#f8f8ab"/><stop offset="0.3756" stop-color="#faf9bc"/><stop offset="0.4007" stop-color="#fbfacd"/><stop offset="0.4257" stop-color="#fdfcdf"/><stop offset="0.4508" stop-color="#fefdee"/><stop offset="0.4758" stop-color="#fffef9"/><stop offset="0.5008" stop-color="#ffffff"/><stop offset="0.5259" stop-color="#ffffff"/><stop offset="0.5509" stop-color="#ffffff"/><stop offset="0.576" stop-color="#ffffff"/><stop offset="0.601" stop-color="#ffffff"/><stop offset="0.626" stop-color="#fffffa"/><stop offset="0.6511" stop-color="#fefef3"/><stop offset="0.6761" stop-color="#fefdeb"/><stop offset="0.7012" stop-color="#fdfce3"/><stop offset="0.7262" stop-color="#fcfcdb"/><stop offset="0.7513" stop-color="#fcfbd3"/><stop offset="0.7763" stop-color="#fbfacc"/><stop offset="0.8013" stop-color="#fbfac7"/><stop offset="0.8264" stop-color="#fbfac4"/><stop offset="0.8514" stop-color="#fafac3"/><stop offset="0.8765" stop-color="#fafac2"/><stop offset="0.9015" stop-color="#fafac2"/><stop offset="0.9265" stop-color="#fafac2"/><stop offset="0.9516" stop-color="#fafac3"/><stop offset="0.9766" stop-color="#fbfac3"/><stop offset="1" stop-color="#fbfac4"/></linearGradient><linearGradient id="r105"><stop offset="0" stop-color="#f0e638"/><stop offset="0.025" stop-color="#f0e534"/><stop offset="0.0501" stop-color="#f0e532"/><stop offset="0.0751" stop-color="#f0e430"/><stop offset="0.1002" stop-color="#f0e430"/><stop offset="0.1252" stop-color="#f0e531"/><stop offset="0.1503" stop-color="#f0e534"/><stop offset="0.1753" stop-color="#f0e739"/><stop offset="0.2003" stop-color="#f1e842"/><stop offset="0.2254" stop-color="#f1eb4d"/><stop offset="0.2504" stop-color="#f2ee5c"/><stop offset="0.2755" stop-color="#f3f16e"/><stop offset="0.3005" stop-color="#f5f482"/><stop offset="0.3255" stop-color="#f7f798"/><stop offset="0.3506" stop-color="#f8f8ab"/><stop offset="0.3756" stop-color="#faf9bc"/><stop offset="0.4007" stop-color="#fbfacd"/><stop offset="0.4257" stop-color="#fdfcdf"/><stop offset="0.4508" stop-color="#fefdee"/><stop offset="0.4758" stop-color="#fffef9"/><stop offset="0.5008" stop-color="#ffffff"/><stop offset="0.5259" stop-color="#ffffff"/><stop offset="0.5509" stop-color="#ffffff"/><stop offset="0.576" stop-color="#ffffff"/><stop offset="0.601" stop-color="#ffffff"/><stop offset="0.626" stop-color="#fffffa"/><stop offset="0.6511" stop-color="#fefef3"/><stop offset="0.6761" stop-color="#fefdeb"/><stop offset="0.7012" stop-color="#fdfce3"/><stop offset="0.7262" stop-color="#fcfcdb"/><stop offset="0.7513" stop-color="#fcfbd3"/><stop offset="0.7763" stop-color="#fbfacc"/><stop offset="0.8013" stop-color="#fbfac7"/><stop offset="0.8264" stop-color="#fbfac4"/><stop offset="0.8514" stop-color="#fafac3"/><stop offset="0.8765" stop-color="#fafac2"/><stop offset="0.9015" stop-color="#fafac2"/><stop offset="0.9265" stop-color="#fafac2"/><stop offset="0.9516" stop-color="#fafac3"/><stop offset="0.9766" stop-color="#fbfac3"/><stop offset="1" stop-color="#fbfac4"/></linearGradient><linearGradient id="r106"><stop offset="0" stop-color="#f0e637"/><stop offset="0.025" stop-color="#f0e534"/><stop offset="0.0501" stop-color="#f0e531"/><stop offset="0.0751" stop-color="#f0e430"/><stop offset="0.1002" stop-color="#f0e430"/><stop offset="0.1252" stop-color="#f0e431"/><stop offset="0.1503" stop-color="#f0e534"/><stop offset="0.1753" stop-color="#f0e739"/><stop offset="0.2003" stop-color="#f1e841"/><stop offset="0.2254" stop-color="#f1eb4d"/><stop offset="0.2504" stop-color="#f2ee5c"/><stop offset="0.2755" stop-color="#f3f16d"/><stop offset="0.3005" stop-color="#f5f482"/><stop offset="0.3255" stop-color="#f7f798"/><stop offset="0.3506" stop-color="#f8f8aa"/><stop offset="0.3756" stop-color="#faf9bc"/><stop offset="0.4007" stop-color="#fbfacd"/><stop offset="0.4257" stop-color="#fdfcdf"/><stop offset="0.4508" stop-color="#fefdee"/><stop offset="0.4758" stop-color="#fffef9"/><stop offset="0.5008" stop-color="#ffffff"/><stop offset="0.5259" stop-color="#ffffff"/><stop offset="0.5509" stop-color="#ffffff"/><stop offset="0.576" stop-color="#ffffff"/><stop offset="0.601" stop-color="#ffffff"/><stop offset="0.626" stop-color="#fffffa"/><stop offset="0.6511" stop-color="#fefef3"/><stop offset="0.6761" stop-color="#fefdeb"/><stop offset="0.7012" stop-color="#fdfce3"/><stop offset="0.7262" stop-color="#fcfcdb"/><stop offset="0.7513" stop-color="#fcfbd3"/><stop offset="0.7763" stop-color="#fbfacc"/><stop offset="0.8013" stop-color="#fbfac7"/><stop offset="0.8264" stop-color="#fbfac4"/><stop offset="0.8514" stop-color="#fafac3"/><stop offset="0.8765" stop-color="#fafac2"/><stop offset="0.9015" stop-color="#fafac2"/><stop offset="0.9265" stop-color="#fafac2"/><stop offset="0.9516" stop-color="#fafac3"/><stop offset="0.9766" stop-color="#fbfac3"/><stop offset="1" stop-color="#fbfac5"/></linearGradient><linearGradient id="r107"><stop offset="0" stop-color="#f0e637"/><stop offset="0.025" stop-color="#f0e534"/><stop offset="0.0501" stop-color="#f0e531"/><stop offset="0.0751" stop-color="#f0e430"/><stop offset="0.1002" stop-color="#f0e430"/><stop offset="0.1252" stop-color="#f0e431"/><stop offset="0.1503" stop-color="#f0e533"/><stop offset="0.1753" stop-color="#f0e639"/><stop offset="0.2003" stop-color="#f1e841"/><stop offset="0.2254" stop-color="#f1eb4d"/><stop offset="0.2504" stop-color="#f2ee5b"/><stop offset="0.2755" stop-color="#f3f16d"/><stop offset="0.3005" stop-color="#f5f482"/><stop offset="0.3255" stop-color="#f7f798"/><stop offset="0.3506" stop-color="#f8f8aa"/><stop offset="0.3756" stop-color="#faf9bc"/><stop offset="0.4007" stop-color="#fbfacd"/><stop offset="0.4257" stop-color="#fdfcde"/><stop offset="0.4508" stop-color="#fefded"/><stop offset="0.4758" stop-color="#fffef9"/><stop offset="0.5008" stop-color="#ffffff"/><stop offset="0.5259" stop-color="#ffffff"/><stop offset="0.5509" stop-color="#ffffff"/><stop offset="0.576" stop-color="#ffffff"/><stop offset="0.601" stop-color="#ffffff"/><stop offset="0.626" stop-color="#fffffa"/><stop offset="0.6511" stop-color="#fefef3"/><stop offset="0.6761" stop-color="#fefdeb"/><stop offset="0.7012" stop-color="#fdfce3"/><stop offset="0.7262" stop-color="#fcfcdb"/><stop offset="0.7513" stop-color="#fcfbd3"/><stop offset="0.7763" stop-color="#fbfacc"/><stop offset="0.8013" stop-color="#fbfac7"/><stop offset="0.8264" stop-color="#fbfac4"/><stop offset="0.8514" stop-color="#fafac3"/><stop offset="0.8765" stop-color="#fafac2"/><stop offset="0.9015" stop-color="#fafac2"/><stop offset="0.9265" stop-color="#fafac2"/><stop offset="0.9516" stop-color="#fafac3"/><stop offset="0.9766" stop-color="#fbfac4"/><stop offset="1" stop-color="#fbfac5"/></linearGradient><linearGradient id="r108"><stop offset="0" stop-color="#f0e637"/><stop offset="0.025" stop-color="#f0e533"/><stop offset="0.0501" stop-color="#f0e531"/><stop offset="0.0751" stop-color="#f0e430"/><stop offset="0.1002" stop-color="#f0e430"/><stop offset="0.1252" stop-color="#f0e430"/><stop offset="0.1503" stop-color="#f0e533"/><stop offset="0.1753" stop-color="#f0e638"/><stop offset="0.2003" stop-color="#f1e841"/><stop offset="0.2254" stop-color="#f1eb4d"/><stop offset="0.2504" stop-color="#f2ee5b"/><stop offset="0.2755" stop-color="#f3f16d"/><stop offset="0.3005" stop-color="#f5f482"/><stop offset="0.3255" stop-color="#f7f798"/><stop offset="0.3506" stop-color="#f8f8aa"/><stop offset="0.3756" stop-color="#faf9bc"/><stop offset="0.4007" stop-color="#fbfacd"/><stop offset="0.4257" stop-color="#fdfcde"/><stop offset="0.4508" stop-color="#fefded"/><stop offset="0.4758" stop-color="#fffef9"/><stop offset="0.5008" stop-color="#ffffff"/><stop offset="0.5259" stop-color="#ffffff"/><stop offset="0.5509" stop-color="#ffffff"/><stop offset="0.576" stop-color="#ffffff"/><stop offset="0.601" stop-color="#ffffff"/><stop offset="0.626" stop-color="#fffffa"/><stop offset="0.6511" stop-color="#fefef3"/><stop offset="0.6761" stop-color="#fefdeb"/><stop offset="0.7012" stop-color="#fdfce3"/><stop offset="0.7262" stop-color="#fcfcdb"/><stop offset="0.7513" stop-color="#fcfbd3"/><stop offset="0.7763" stop-color="#fbfacc"/><stop offset="0.8013" stop-color="#fbfac7"/><stop offset="0.8264" stop-color="#fbfac4"/><stop offset="0.8514" stop-color="#fafac3"/><stop offset="0.8765" stop-color="#fafac2"/><stop offset="0.9015" stop-color="#fafac2"/><stop offset="0.9265" stop-color="#fafac2"/><stop offset="0.9516" stop-color="#fafac3"/><stop offset="0.9766" stop-color="#fbfac4"/><stop offset="1" stop-color="#fbfac5"/></linearGradient><linearGradient id="r109"><stop offset="0" stop-color="#f0e637"/><stop offset="0.025" stop-color="#f0e533"/><stop offset="0.0501" stop-color="#f0e431"/><stop offset="0.0751" stop-color="#f0e430"/><stop offset="0.1002" stop-color="#f0e42f"/><stop offset="0.1252" stop-color="#f0e430"/><stop offset="0.1503" stop-color="#f0e533"/><stop offset="0.1753" stop-color="#f0e638"/><stop offset="0.2003" stop-color="#f1e841"/><stop offset="0.2254" stop-color="#f1eb4c"/><stop offset="0.2504" stop-color="#f2ee5b"/><stop offset="0.2755" stop-color="#f3f16d"/><stop offset="0.3005" stop-color="#f5f482"/><stop offset="0.3255" stop-color="#f7f798"/><stop offset="0.3506" stop-color="#f8f8aa"/><stop offset="0.3756" stop-color="#faf9bc"/><stop offset="0.4007" stop-color="#fbfacc"/><stop offset="0.4257" stop-color="#fdfcde"/><stop offset="0.4508" stop-color="#fefded"/><stop offset="0.4758" stop-color="#fffef8"/><stop offset="0.5008" stop-color="#ffffff"/><stop offset="0.5259" stop-color="#ffffff"/><stop offset="0.5509" stop-color="#ffffff"/><stop offset="0.576" stop-color="#ffffff"/><stop offset="0.601" stop-color="#ffffff"/><stop offset="0.626" stop-color="#fffef9"/><stop offset="0.6511" stop-color="#fefef3"/><stop offset="0.6761" stop-color="#fefdeb"/><stop offset="0.7012" stop-color="#fdfce3"/><stop offset="0.7262" stop-color="#fcfcdb"/><stop offset="0.7513" stop-color="#fcfbd3"/><stop offset="0.7763" stop-color="#fbfacd"/><stop offset="0.8013" stop-color="#fbfac7"/><stop offset="0.8264" stop-color="#fbfac4"/><stop offset="0.8514" stop-color="#fafac3"/><stop offset="0.8765" stop-color="#fafac2"/><stop offset="0.9015" stop-color="#fafac2"/><stop offset="0.9265" stop-color="#fafac2"/><stop offset="0.9516" stop-color="#fafac3"/><stop offset="0.9766" stop-color="#fbfac4"/><stop offset="1" stop-color="#fbfac5"/></linearGradient><linearGradient id="r110"><stop offset="0" stop-color="#f0e637"/><stop offset="0.025" stop-color="#f0e533"/><stop offset="0.0501" stop-color="#f0e431"/><stop offset="0.0751" stop-color="#f0e42f"/><stop offset="0.1002" stop-color="#f0e42f"/><stop offset="0.1252" stop-color="#f0e430"/><stop offset="0.1503" stop-color="#f0e532"/><stop offset="0.1753" stop-color="#f0e638"/><stop offset="0.2003" stop-color="#f1e840"/><stop offset="0.2254" stop-color="#f1eb4c"/><stop offset="0.2504" stop-color="#f2ee5b"/><stop offset="0.2755" stop-color="#f3f16d"/><stop offset="0.3005" stop-color="#f5f481"/><stop offset="0.3255" stop-color="#f7f797"/><stop offset="0.3506" stop-color="#f8f8aa"/><stop offset="0.3756" stop-color="#faf9bb"/><stop offset="0.4007" stop-color="#fbfacc"/><stop offset="0.4257" stop-color="#fdfcde"/><stop offset="0.4508" stop-color="#fefdec"/><stop offset="0.4758" stop-color="#fefef8"/><stop offset="0.5008" stop-color="#ffffff"/><stop offset="0.5259" stop-color="#ffffff"/><stop offset="0.5509" stop-color="#ffffff"/><stop offset="0.576" stop-color="#ffffff"/><stop offset="0.601" stop-color="#ffffff"/><stop offset="0.626" stop-color="#fffef9"/><stop offset="0.6511" stop-color="#fefef2"/><stop offset="0.6761" stop-color="#fefdeb"/><stop offset="0.7012" stop-color="#fdfce3"/><stop offset="0.7262" stop-color="#fcfcdb"/><stop offset="0.7513" stop-color="#fcfbd3"/><stop offset="0.7763" stop-color="#fbfacd"/><stop offset="0.8013" stop-color="#fbfac8"/><stop offset="0.8264" stop-color="#fbfac5"/><stop offset="0.8514" stop-color="#fafac3"/><stop offset="0.8765" stop-color="#fafac2"/><stop offset="0.9015" stop-color="#fafac2"/><stop offset="0.9265" stop-color="#fafac2"/><stop offset="0.9516" stop-color="#fafac3"/><stop offset="0.9766" stop-color="#fbfac4"/><stop offset="1" stop-color="#fbfac5"/></linearGradient><linearGradient id="r111"><stop offset="0" stop-color="#f0e636"/><stop offset="0.025" stop-color="#f0e533"/><stop offset="0.0501" stop-color="#f0e430"/><stop offset="0.0751" stop-color="#f0e42f"/><stop offset="0.1002" stop-color="#f0e42f"/><stop offset="0.1252" stop-color="#f0e430"/><stop offset="0.1503" stop-color="#f0e532"/><stop offset="0.1753" stop-color="#f0e637"/><stop offset="0.2003" stop-color="#f1e840"/><stop offset="0.2254" stop-color="#f1eb4c"/><stop offset="0.2504" stop-color="#f2ee5a"/><stop offset="0.2755" stop-color="#f3f16c"/><stop offset="0.3005" stop-color="#f5f481"/><stop offset="0.3255" stop-color="#f7f797"/><stop offset="0.3506" stop-color="#f8f8aa"/><stop offset="0.3756" stop-color="#faf9bb"/><stop offset="0.4007" stop-color="#fbfacc"/><stop offset="0.4257" stop-color="#fcfcdd"/><stop offset="0.4508" stop-color="#fefdec"/><stop offset="0.4758" stop-color="#fefef8"/><stop offset="0.5008" stop-color="#ffffff"/><stop offset="0.5259" stop-color="#ffffff"/><stop offset="0.5509" stop-color="#ffffff"/><stop offset="0.576" stop-color="#ffffff"/><stop offset="0.601" stop-color="#ffffff"/><stop offset="0.626" stop-color="#fffef9"/><stop offset="0.6511" stop-color="#fefef2"/><stop offset="0.6761" stop-color="#fdfdeb"/><stop offset="0.7012" stop-color="#fdfce3"/><stop offset="0.7262" stop-color="#fcfcdb"/><stop offset="0.7513" stop-color="#fcfbd3"/><stop offset="0.7763" stop-color="#fbfacd"/><stop offset="0.8013" stop-color="#fbfac8"/><stop offset="0.8264" stop-color="#fbfac5"/><stop offset="0.8514" stop-color="#fafac3"/><stop offset="0.8765" stop-color="#fafac2"/><stop offset="0.9015" stop-color="#fafac2"/><stop offset="0.9265" stop-color="#fafac2"/><stop offset="0.9516" stop-color="#fafac3"/><stop offset="0.9766" stop-color="#fbfac4"/><stop offset="1" stop-color="#fbfac5"/></linearGradient></defs><rect x="0" y="0" width="599" height="4" fill="url(#r0)"/><rect x="0" y="3" width="599" height="4" fill="url(#r1)"/><rect x="0" y="6" width="599" height="4" fill="url(#r2)"/><rect x="0" y="9" width="599" height="4" fill="url(#r3)"/><rect x="0" y="12" width="599" height="4" fill="url(#r4)"/><rect x="0" y="15" width="599" height="4" fill="url(#r5)"/><rect x="0" y="18" width="599" height="4" fill="url(#r6)"/><rect x="0" y="21" width="599" height="4" fill="url(#r7)"/><rect x="0" y="24" width="599" height="4" fill="url(#r8)"/><rect x="0" y="27" width="599" height="4" fill="url(#r9)"/><rect x="0" y="30" width="599" height="4" fill="url(#r10)"/><rect x="0" y="33" width="599" height="4" fill="url(#r11)"/><rect x="0" y="36" width="599" height="4" fill="url(#r12)"/><rect x="0" y="39" width="599" height="4" fill="url(#r13)"/><rect x="0" y="42" width="599" height="4" fill="url(#r14)"/><rect x="0" y="45" width="599" height="4" fill="url(#r15)"/><rect x="0" y="48" width="599" height="4" fill="url(#r16)"/><rect x="0" y="51" width="599" height="4" fill="url(#r17)"/><rect x="0" y="54" width="599" height="4" fill="url(#r18)"/><rect x="0" y="57" width="599" height="4" fill="url(#r19)"/><rect x="0" y="60" width="599" height="4" fill="url(#r20)"/><rect x="0" y="63" width="599" height="4" fill="url(#r21)"/><rect x="0" y="66" width="599" height="4" fill="url(#r22)"/><rect x="0" y="69" width="599" height="4" fill="url(#r23)"/><rect x="0" y="72" width="599" height="4" fill="url(#r24)"/><rect x="0" y="75" width="599" height="4" fill="url(#r25)"/><rect x="0" y="78" width="599" height="4" fill="url(#r26)"/><rect x="0" y="81" width="599" height="4" fill="url(#r27)"/><rect x="0" y="84" width="599" height="4" fill="url(#r28)"/><rect x="0" y="87" width="599" height="4" fill="url(#r29)"/><rect x="0" y="90" width="599" height="4" fill="url(#r30)"/><rect x="0" y="93" width="599" height="4" fill="url(#r31)"/><rect x="0" y="96" width="599" height="4" fill="url(#r32)"/><rect x="0" y="99" width="599" height="4" fill="url(#r33)"/><rect x="0" y="102" width="599" height="4" fill="url(#r34)"/><rect x="0" y="105" width="599" height="4" fill="url(#r35)"/><rect x="0" y="108" width="599" height="4" fill="url(#r36)"/><rect x="0" y="111" width="599" height="4" fill="url(#r37)"/><rect x="0" y="114" width="599" height="4" fill="url(#r38)"/><rect x="0" y="117" width="599" height="4" fill="url(#r39)"/><rect x="0" y="120" width="599" height="4" fill="url(#r40)"/><rect x="0" y="123" width="599" height="4" fill="url(#r41)"/><rect x="0" y="126" width="599" height="4" fill="url(#r42)"/><rect x="0" y="129" width="599" height="4" fill="url(#r43)"/><rect x="0" y="132" width="599" height="4" fill="url(#r44)"/><rect x="0" y="135" width="599" height="4" fill="url(#r45)"/><rect x="0" y="138" width="599" height="4" fill="url(#r46)"/><rect x="0" y="141" width="599" height="4" fill="url(#r47)"/><rect x="0" y="144" width="599" height="4" fill="url(#r48)"/><rect x="0" y="147" width="599" height="4" fill="url(#r49)"/><rect x="0" y="150" width="599" height="4" fill="url(#r50)"/><rect x="0" y="153" width="599" height="4" fill="url(#r51)"/><rect x="0" y="156" width="599" height="4" fill="url(#r52)"/><rect x="0" y="159" width="599" height="4" fill="url(#r53)"/><rect x="0" y="162" width="599" height="4" fill="url(#r54)"/><rect x="0" y="165" width="599" height="4" fill="url(#r55)"/><rect x="0" y="168" width="599" height="4" fill="url(#r56)"/><rect x="0" y="171" width="599" height="4" fill="url(#r57)"/><rect x="0" y="174" width="599" height="4" fill="url(#r58)"/><rect x="0" y="177" width="599" height="4" fill="url(#r59)"/><rect x="0" y="180" width="599" height="4" fill="url(#r60)"/><rect x="0" y="183" width="599" height="4" fill="url(#r61)"/><rect x="0" y="186" width="599" height="4" fill="url(#r62)"/><rect x="0" y="189" width="599" height="4" fill="url(#r63)"/><rect x="0" y="192" width="599" height="4" fill="url(#r64)"/><rect x="0" y="195" width="599" height="4" fill="url(#r65)"/><rect x="0" y="198" width="599" height="4" fill="url(#r66)"/><rect x="0" y="201" width="599" height="4" fill="url(#r67)"/><rect x="0" y="204" width="599" height="4" fill="url(#r68)"/><rect x="0" y="207" width="599" height="4" fill="url(#r69)"/><rect x="0" y="210" width="599" height="4" fill="url(#r70)"/><rect x="0" y="213" width="599" height="4" fill="url(#r71)"/><rect x="0" y="216" width="599" height="4" fill="url(#r72)"/><rect x="0" y="219" width="599" height="4" fill="url(#r73)"/><rect x="0" y="222" width="599" height="4" fill="url(#r74)"/><rect x="0" y="225" width="599" height="4" fill="url(#r75)"/><rect x="0" y="228" width="599" height="4" fill="url(#r76)"/><rect x="0" y="231" width="599" height="4" fill="url(#r77)"/><rect x="0" y="234" width="599" height="4" fill="url(#r78)"/><rect x="0" y="237" width="599" height="4" fill="url(#r79)"/><rect x="0" y="240" width="599" height="4" fill="url(#r80)"/><rect x="0" y="243" width="599" height="4" fill="url(#r81)"/><rect x="0" y="246" width="599" height="4" fill="url(#r82)"/><rect x="0" y="249" width="599" height="4" fill="url(#r83)"/><rect x="0" y="252" width="599" height="4" fill="url(#r84)"/><rect x="0" y="255" width="599" height="4" fill="url(#r85)"/><rect x="0" y="258" width="599" height="4" fill="url(#r86)"/><rect x="0" y="261" width="599" height="4" fill="url(#r87)"/><rect x="0" y="264" width="599" height="4" fill="url(#r88)"/><rect x="0" y="267" width="599" height="4" fill="url(#r89)"/><rect x="0" y="270" width="599" height="4" fill="url(#r90)"/><rect x="0" y="273" width="599" height="4" fill="url(#r91)"/><rect x="0" y="276" width="599" height="4" fill="url(#r92)"/><rect x="0" y="279" width="599" height="4" fill="url(#r93)"/><rect x="0" y="282" width="599" height="4" fill="url(#r94)"/><rect x="0" y="285" width="599" height="4" fill="url(#r95)"/><rect x="0" y="288" width="599" height="4" fill="url(#r96)"/><rect x="0" y="291" width="599" height="4" fill="url(#r97)"/><rect x="0" y="294" width="599" height="4" fill="url(#r98)"/><rect x="0" y="297" width="599" height="4" fill="url(#r99)"/><rect x="0" y="300" width="599" height="4" fill="url(#r100)"/><rect x="0" y="303" width="599" height="4" fill="url(#r101)"/><rect x="0" y="306" width="599" height="4" fill="url(#r102)"/><rect x="0" y="309" width="599" height="4" fill="url(#r103)"/><rect x="0" y="312" width="599" height="4" fill="url(#r104)"/><rect x="0" y="315" width="599" height="4" fill="url(#r105)"/><rect x="0" y="318" width="599" height="4" fill="url(#r106)"/><rect x="0" y="321" width="599" height="4" fill="url(#r107)"/><rect x="0" y="324" width="599" height="4" fill="url(#r108)"/><rect x="0" y="327" width="599" height="4" fill="url(#r109)"/><rect x="0" y="330" width="599" height="4" fill="url(#r110)"/><rect x="0" y="333" width="599" height="3" fill="url(#r111)"/><path d="M359.3 336.5 L359.8 334.5 L360.4 331.5 L360.8 329.5 L361.3 326.5 L361.6 324.5 L362.0 321.5 L362.3 318.5 L362.5 316.4 L362.7 313.5 L362.8 310.5 L362.9 307.5 L362.9 304.5 L362.8 301.5 L362.6 298.5 L362.5 296.5 L362.1 293.5 L361.7 290.5 L361.3 288.5 L360.5 285.5 L359.9 283.5 L359.2 281.5 L358.4 279.5 L357.5 277.5 L356.4 275.5 L355.1 273.5 L353.6 271.5 L352.5 270.2 L350.9 268.5 L349.5 267.2 L347.5 265.7 L345.7 264.5 L343.9 263.5 L341.7 262.5 L339.5 261.7 L337.5 261.1 L334.5 260.6 L332.5 260.4 L329.5 260.4 L327.4 260.5 L324.5 260.9 L322.1 261.5 L319.5 262.3 L317.5 263.1 L315.5 264.0 L313.5 265.1 L311.5 266.4 L310.0 267.5 L308.5 268.7 L306.5 270.5 L305.5 271.6 L303.9 273.5 L302.5 275.4 L301.5 276.9 L300.5 278.7 L299.5 280.8 L298.5 283.2 L297.7 285.5 L297.1 287.5 L296.5 290.2 L296.1 292.5 L295.6 295.5 L295.4 297.5 L295.2 300.5 L295.1 303.5 L295.1 306.5 L295.1 309.5 L295.3 312.5 L295.5 315.2 L295.7 317.5 L296.1 320.5 L296.5 322.8 L297.0 325.5 L297.5 328.1 L298.1 330.5 L298.5 332.5 L299.4 335.5 M599.5 130.0 L596.5 129.8 L593.5 129.6 L590.8 129.5 L588.5 129.4 L585.5 129.2 L582.5 129.1 L579.5 129.0 L576.5 128.9 L573.5 128.8 L570.5 128.8 L567.5 128.7 L564.5 128.7 L561.5 128.6 L558.5 128.6 L555.5 128.6 L552.5 128.6 L549.5 128.6 L546.5 128.6 L543.5 128.6 L540.5 128.7 L537.5 128.7 L534.5 128.8 L531.5 128.9 L528.5 129.0 L525.5 129.0 L522.5 129.1 L519.5 129.2 L516.5 129.3 L513.5 129.4 L510.6 129.5 L508.5 129.6 L505.5 129.7 L502.5 129.9 L499.5 130.1 L496.5 130.3 L493.5 130.4 L490.5 130.4 L487.5 130.3 L484.5 130.2 L481.5 130.0 L478.5 129.7 L476.5 129.4 L473.5 129.0 L470.5 128.5 L468.5 128.2 L465.5 127.6 L463.5 127.2 L460.5 126.6 L458.5 126.2 L455.7 125.5 L453.5 125.0 L451.5 124.5 L448.5 123.7 L446.5 123.2 L443.9 122.5 L441.5 121.8 L439.5 121.3 L436.7 120.5 L434.5 119.9 L432.5 119.3 L430.0 118.5 L427.5 117.7 L425.5 117.0 L423.5 116.4 L420.6 115.5 L418.5 114.9 L416.5 114.4 L413.5 113.6 L411.5 113.1 L408.5 112.5 L406.5 112.1 L403.5 111.5 L401.5 111.2 L398.5 110.7 L396.5 110.4 L393.5 110.1 L390.5 109.8 L387.5 109.6 L384.6 109.5 L382.5 109.5 L379.5 109.5 L377.5 109.5 L374.5 109.7 L371.5 110.0 L368.5 110.5 L366.5 110.8 L363.7 111.5 L361.5 112.1 L359.5 112.7 L357.4 113.5 L355.0 114.5 L352.8 115.5 L350.8 116.5 L349.0 117.5 L347.3 118.5 L345.5 119.6 L343.5 121.0 L341.5 122.5 L340.1 123.5 L338.5 124.8 L336.5 126.5 L335.4 127.5 L333.5 129.3 L332.3 130.5 L330.5 132.3 L329.4 133.5 L327.6 135.5 L326.5 136.8 L325.1 138.5 L323.5 140.5 L322.5 141.7 L321.1 143.5 L319.5 145.5 L318.5 146.7 L317.1 148.5 L315.5 150.5 L314.5 151.8 L313.1 153.5 L311.6 155.5 L310.5 156.9 L309.3 158.5 L307.8 160.5 L306.5 162.3 L305.5 163.8 L304.3 165.5 L303.0 167.5 L301.7 169.5 L300.5 171.2 L299.5 172.7 L298.3 174.5 L296.8 176.5 L295.5 178.4 L294.5 179.8 L293.3 181.5 L291.8 183.5 L290.5 185.3 L289.5 186.7 L288.2 188.5 L286.8 190.5 L285.5 192.3 L284.5 193.8 L283.3 195.5 L281.9 197.5 L280.5 199.5 L279.5 201.0 L278.5 202.5 L277.1 204.5 L275.7 206.5 L274.5 208.2 L273.5 209.6 L272.1 211.5 L270.7 213.5 L269.5 215.1 L268.5 216.5 L267.0 218.5 L265.6 220.5 L264.5 222.2 L263.5 223.7 L262.4 225.5 L261.2 227.5 L260.0 229.5 L258.9 231.5 L257.9 233.5 L256.8 235.5 L255.8 237.5 L254.7 239.5 L253.7 241.5 L252.7 243.5 L251.6 245.5 L250.6 247.5 L249.6 249.5 L248.7 251.5 L247.7 253.5 L246.8 255.5 L246.0 257.5 L245.1 259.5 L244.3 261.5 L243.5 263.7 L242.5 266.5 L241.9 268.5 L241.3 270.5 L240.5 273.4 L240.0 275.5 L239.5 277.8 L239.0 280.5 L238.5 283.5 L238.3 285.5 L237.9 288.5 L237.6 291.5 L237.4 293.5 L237.2 296.5 L237.1 299.5 L237.0 302.5 L236.9 305.5 L236.9 308.5 L236.9 311.5 L237.0 314.5 L237.1 317.5 L237.2 320.5 L237.4 323.5 L237.5 325.5 L237.7 328.5 L238.0 331.5 L238.2 334.5 M475.3 336.5 L475.1 333.5 L475.0 330.5 L474.9 327.5 L474.8 324.5 L474.7 321.5 L474.6 318.5 L474.6 315.5 L474.5 312.5 L474.5 309.5 L474.5 306.5 L474.5 303.5 L474.6 300.5 L474.7 297.5 L474.8 294.5 L475.0 291.5 L475.2 288.5 L475.4 285.5 L475.6 283.5 L475.9 280.5 L476.3 277.5 L476.6 275.5 L477.1 272.5 L477.6 270.5 L478.3 267.5 L478.9 265.5 L479.5 263.5 L480.5 260.7 L481.4 258.5 L482.3 256.5 L483.3 254.5 L484.4 252.5 L485.5 250.7 L486.5 249.3 L487.9 247.5 L489.5 245.7 L490.7 244.5 L492.5 242.9 L494.4 241.5 L496.0 240.5 L497.9 239.5 L500.4 238.5 L502.5 237.8 L504.5 237.2 L507.1 236.5 L509.5 236.0 L511.7 235.5 L514.5 235.0 L517.5 234.6 L519.5 234.3 L522.5 234.0 L525.5 233.8 L528.5 233.6 L530.5 233.5 L533.5 233.4 L536.5 233.4 L539.5 233.4 L542.5 233.4 L545.5 233.5 L547.5 233.5 L550.5 233.6 L553.5 233.8 L556.5 234.0 L559.5 234.2 L562.5 234.5 L564.5 234.6 L567.5 234.9 L570.5 235.2 L573.5 235.5 L575.5 235.7 L578.5 236.0 L581.5 236.3 L583.5 236.6 L586.5 237.0 L589.5 237.5 L591.5 237.8 L594.5 238.4 L596.5 238.8 L599.3 239.5 M255.1 -0.5 L255.2 2.5 L255.3 5.5 L255.4 8.5 L255.5 11.4 L255.6 13.5 L255.6 16.5 L255.7 19.5 L255.7 22.5 L255.8 25.5 L255.8 28.5 L255.8 31.5 L255.8 34.5 L255.7 37.5 L255.7 40.5 L255.6 43.5 L255.5 46.3 L255.4 48.5 L255.3 51.5 L255.1 54.5 L254.9 57.5 L254.8 60.5 L254.6 63.5 L254.5 65.7 L254.4 68.5 L254.2 71.5 L254.1 74.5 L254.0 77.5 L253.9 80.5 L253.8 83.5 L253.7 86.5 L253.6 89.5 L253.5 91.5 L253.4 94.5 L253.3 97.5 L253.1 100.5 L253.0 103.5 L252.8 106.5 L252.7 109.5 L252.5 111.9 L252.3 114.5 L252.0 117.5 L251.8 120.5 L251.5 123.3 L251.3 125.5 L251.0 128.5 L250.7 131.5 L250.5 133.5 L250.2 136.5 L249.9 139.5 L249.6 142.5 L249.3 144.5 L248.9 147.5 L248.5 150.5 L248.2 152.5 L247.7 155.5 L247.4 157.5 L246.8 160.5 L246.3 162.5 L245.6 165.5 L245.1 167.5 L244.5 169.7 L243.7 172.5 L243.0 174.5 L242.4 176.5 L241.5 178.9 L240.5 181.5 L239.8 183.5 L238.9 185.5 L238.1 187.5 L237.3 189.5 L236.4 191.5 L235.5 193.5 L234.5 195.6 L233.5 197.7 L232.5 199.8 L231.5 201.9 L230.5 203.9 L229.5 205.9 L228.5 207.9 L227.5 209.9 L226.5 211.9 L225.5 213.9 L224.5 215.8 L223.5 217.8 L222.5 219.7 L221.5 221.6 L220.5 223.6 L219.5 225.5 L218.5 227.5 L217.4 229.5 L216.4 231.5 L215.4 233.5 L214.4 235.5 L213.4 237.5 L212.5 239.5 L211.5 241.5 L210.5 243.7 L209.5 245.9 L208.5 248.2 L207.6 250.5 L206.8 252.5 L206.0 254.5 L205.3 256.5 L204.5 259.1 L203.8 261.5 L203.2 263.5 L202.5 266.4 L202.0 268.5 L201.5 271.0 L201.0 273.5 L200.5 276.5 L200.2 278.5 L199.8 281.5 L199.5 284.0 L199.2 286.5 L198.9 289.5 L198.6 292.5 L198.4 294.5 L198.2 297.5 L198.0 300.5 L197.9 303.5 L197.8 306.5 L197.7 309.5 L197.7 312.5 L197.6 315.5 L197.7 318.5 L197.7 321.5 L197.8 324.5 L197.8 327.5 L198.0 330.5 L198.1 333.5 L198.3 336.5 M199.1 -0.5 L199.1 2.5 L199.0 5.5 L199.0 8.5 L199.0 11.5 L199.0 14.5 L199.0 17.5 L198.9 20.5 L198.9 23.5 L198.9 26.5 L198.9 29.5 L198.9 32.5 L198.9 35.5 L198.9 38.5 L199.0 41.5 L199.0 44.5 L199.0 47.5 L199.0 50.5 L199.0 53.5 L199.1 56.5 L199.1 59.5 L199.2 62.5 L199.3 65.5 L199.5 68.3 L199.6 70.5 L199.8 73.5 L200.1 76.5 L200.3 79.5 L200.5 81.6 L200.8 84.5 L201.0 87.5 L201.3 90.5 L201.5 92.5 L201.8 95.5 L202.1 98.5 L202.4 101.5 L202.6 103.5 L202.9 106.5 L203.2 109.5 L203.5 112.5 L203.7 114.5 L204.1 117.5 L204.4 120.5 L204.6 122.5 L204.9 125.5 L205.2 128.5 L205.4 131.5 L205.6 133.5 L205.7 136.5 L205.8 139.5 L205.8 142.5 L205.8 145.5 L205.7 148.5 L205.5 151.4 L205.3 153.5 L205.1 156.5 L204.8 159.5 L204.5 161.5 L204.1 164.5 L203.6 167.5 L203.2 169.5 L202.6 172.5 L202.2 174.5 L201.5 177.2 L200.9 179.5 L200.3 181.5 L199.5 184.1 L198.7 186.5 L198.0 188.5 L197.3 190.5 L196.5 192.5 L195.5 195.0 L194.5 197.3 L193.5 199.5 L192.6 201.5 L191.6 203.5 L190.6 205.5 L189.6 207.5 L188.6 209.5 L187.6 211.5 L186.5 213.5 L185.5 215.5 L184.5 217.4 L183.5 219.2 L182.5 221.1 L181.5 222.9 L180.5 224.8 L179.5 226.7 L178.5 228.6 L177.5 230.6 L176.5 232.5 L175.5 234.5 L174.5 236.5 L173.5 238.5 L172.5 240.6 L171.5 242.7 L170.5 244.8 L169.5 247.0 L168.5 249.3 L167.6 251.5 L166.8 253.5 L166.0 255.5 L165.3 257.5 L164.5 259.9 L163.7 262.5 L163.1 264.5 L162.5 266.8 L161.8 269.5 L161.4 271.5 L160.8 274.5 L160.4 276.5 L159.9 279.5 L159.5 282.5 L159.3 284.5 L158.9 287.5 L158.6 290.5 L158.5 292.5 L158.2 295.5 L158.1 298.5 L158.0 301.5 L157.9 304.5 L157.9 307.5 L157.9 310.5 L157.9 313.5 L158.0 316.5 L158.1 319.5 L158.3 322.5 L158.5 325.5 L158.6 327.5 L158.8 330.5 L159.0 333.5 L159.3 336.5 M140.7 -0.5 L140.5 2.5 L140.4 4.5 L140.3 7.5 L140.1 10.5 L140.0 13.5 L139.9 16.5 L139.8 19.5 L139.8 22.5 L139.7 25.5 L139.7 28.5 L139.8 31.5 L139.8 34.5 L139.9 37.5 L140.1 40.5 L140.2 43.5 L140.4 46.5 L140.6 48.5 L140.9 51.5 L141.2 54.5 L141.5 56.7 L141.9 59.5 L142.5 62.5 L142.9 64.5 L143.5 67.0 L144.1 69.5 L144.7 71.5 L145.5 74.4 L146.1 76.5 L146.7 78.5 L147.5 80.9 L148.3 83.5 L149.0 85.5 L149.6 87.5 L150.5 90.1 L151.3 92.5 L152.0 94.5 L152.6 96.5 L153.5 99.2 L154.2 101.5 L154.8 103.5 L155.5 105.6 L156.3 108.5 L156.9 110.5 L157.5 112.7 L158.2 115.5 L158.7 117.5 L159.3 120.5 L159.8 122.5 L160.4 125.5 L160.7 127.5 L161.2 130.5 L161.5 132.5 L162.0 135.5 L162.3 138.5 L162.5 140.5 L162.8 143.5 L163.0 146.5 L163.2 149.5 L163.2 152.5 L163.2 155.5 L163.1 158.5 L162.9 161.5 L162.6 164.5 L162.3 166.5 L161.8 169.5 L161.5 171.5 L160.8 174.5 L160.4 176.5 L159.5 179.5 L158.9 181.5 L158.3 183.5 L157.5 185.8 L156.5 188.4 L155.6 190.5 L154.8 192.5 L153.9 194.5 L152.9 196.5 L151.8 198.5 L150.8 200.5 L149.6 202.5 L148.5 204.5 L147.5 206.1 L146.5 207.8 L145.4 209.5 L144.2 211.5 L142.9 213.5 L141.5 215.5 L140.5 217.0 L139.5 218.5 L138.1 220.5 L136.7 222.5 L135.5 224.2 L134.5 225.6 L133.1 227.5 L131.7 229.5 L130.5 231.1 L129.4 232.5 L127.9 234.5 L126.5 236.4 L125.5 237.7 L124.1 239.5 L122.5 241.5 L121.5 242.8 L120.1 244.5 L118.5 246.5 L117.5 247.7 L116.0 249.5 L114.5 251.3 L113.5 252.5 L111.8 254.5 L110.5 256.0 L109.1 257.5 L107.5 259.4 L106.5 260.5 L104.7 262.5 L103.5 263.8 L101.9 265.5 L100.5 267.0 L99.1 268.5 L97.5 270.2 L96.4 271.5 L94.7 273.5 L93.5 275.0 L92.3 276.5 L90.9 278.5 L89.6 280.5 L88.5 282.4 L87.5 284.2 L86.5 286.1 L85.5 288.3 L84.6 290.5 L83.8 292.5 L83.2 294.5 L82.5 297.5 L82.2 299.5 L81.9 302.5 L81.8 305.5 L82.0 308.5 L82.4 311.5 L82.8 313.5 L83.5 316.5 L84.1 318.5 L84.7 320.5 L85.5 323.0 L86.4 325.5 L87.2 327.5 L87.9 329.5 L88.7 331.5 L89.6 333.5 L90.5 335.7 M17.1 336.5 L18.2 334.5 L19.2 332.5 L20.3 330.5 L21.3 328.5 L22.3 326.5 L23.3 324.5 L24.2 322.5 L25.0 320.5 L25.8 318.5 L26.5 316.5 L27.4 313.5 L27.9 311.5 L28.4 308.5 L28.6 306.5 L28.5 303.5 L28.3 301.5 L27.7 298.5 L27.0 296.5 L26.2 294.5 L25.2 292.5 L24.0 290.5 L22.6 288.5 L21.5 287.0 L20.2 285.5 L18.5 283.6 L17.5 282.5 L15.5 280.6 L14.3 279.5 L12.5 278.0 L10.6 276.5 L9.3 275.5 L7.5 274.2 L5.5 272.9 L3.5 271.5 L2.0 270.5 L0.4 269.5 M66.5 183.5 L63.5 184.0 L60.5 184.3 L57.5 184.4 L54.5 184.4 L51.5 184.2 L48.5 183.8 L46.4 183.5 L43.5 182.9 L41.5 182.4 L38.5 181.6 L36.5 180.9 L34.5 180.1 L32.5 179.3 L30.5 178.4 L28.5 177.3 L26.5 176.1 L24.5 174.8 L22.8 173.5 L21.5 172.4 L19.7 170.5 L18.5 169.0 L17.5 167.5 L16.5 165.5 L15.6 162.5 L15.4 160.5 L15.5 158.3 L16.1 155.5 L16.9 153.5 L18.0 151.5 L19.4 149.5 L20.5 148.2 L22.3 146.5 L23.5 145.5 L25.5 144.0 L27.5 142.8 L29.5 141.7 L31.5 140.8 L33.5 140.0 L35.5 139.2 L37.8 138.5 L40.5 137.8 L42.5 137.3 L45.5 136.8 L47.5 136.5 L50.5 136.2 L53.5 136.1 L56.5 136.1 L59.5 136.2 L62.3 136.5 L64.5 136.8 L67.5 137.5 L69.5 138.0 L71.5 138.6 L73.8 139.5 L76.1 140.5 L78.1 141.5 L79.7 142.5 L81.5 143.7 L83.5 145.3 L84.7 146.5 L86.5 148.5 L87.5 149.8 L88.6 151.5 L89.6 153.5 L90.5 155.9 L91.1 158.5 L91.3 161.5 L91.0 164.5 L90.5 166.5 L89.5 169.0 L88.5 170.8 L87.3 172.5 L85.5 174.5 L84.4 175.5 L82.5 177.0 L80.5 178.3 L78.5 179.5 L76.5 180.4 L74.5 181.3 L72.5 182.0 L70.5 182.6 L67.5 183.3" fill="none" stroke="#000" stroke-opacity=".52" stroke-width="1.15" stroke-linejoin="round"/></svg>
<div class="gv" style="left:199px"></div><div class="gv" style="left:399px"></div>
<div class="gh" style="top:111px"></div><div class="gh" style="top:224px"></div>
</div>
<div class="nums"><span class="n" style="left:102.90px;top:52.90px">2</span><span class="n" style="left:114.30px;top:52.90px">,</span><span class="n" style="left:125.70px;top:52.90px">2</span><svg class="z" style="left:302.60px;top:55.90px" width="12" height="16" viewBox="0 0 12 16"><ellipse cx="6" cy="8" rx="3.0" ry="4.85" fill="none" stroke="#505050" stroke-opacity=".76" stroke-width="2.3"/></svg><span class="n" style="left:314.30px;top:52.90px">,</span><span class="n" style="left:325.70px;top:52.90px">7</span><svg class="z" style="left:502.60px;top:55.90px" width="12" height="16" viewBox="0 0 12 16"><ellipse cx="6" cy="8" rx="3.0" ry="4.85" fill="none" stroke="#505050" stroke-opacity=".76" stroke-width="2.3"/></svg><span class="n" style="left:514.30px;top:52.90px">,</span><span class="n" style="left:525.70px;top:52.90px">7</span><span class="n" style="left:102.90px;top:165.90px">2</span><span class="n" style="left:114.30px;top:165.90px">,</span><span class="n" style="left:125.70px;top:165.90px">5</span><svg class="z" style="left:302.60px;top:168.90px" width="12" height="16" viewBox="0 0 12 16"><ellipse cx="6" cy="8" rx="3.0" ry="4.85" fill="none" stroke="#505050" stroke-opacity=".76" stroke-width="2.3"/></svg><span class="n" style="left:314.30px;top:165.90px">,</span><span class="n" style="left:325.70px;top:165.90px">5</span><svg class="z" style="left:502.60px;top:168.90px" width="12" height="16" viewBox="0 0 12 16"><ellipse cx="6" cy="8" rx="3.0" ry="4.85" fill="none" stroke="#505050" stroke-opacity=".76" stroke-width="2.3"/></svg><span class="n" style="left:514.30px;top:165.90px">,</span><span class="n" style="left:525.70px;top:165.90px">4</span><span class="n" style="left:102.90px;top:277.90px">2</span><span class="n" style="left:114.30px;top:277.90px">,</span><svg class="z" style="left:125.40px;top:280.90px" width="12" height="16" viewBox="0 0 12 16"><ellipse cx="6" cy="8" rx="3.0" ry="4.85" fill="none" stroke="#505050" stroke-opacity=".76" stroke-width="2.3"/></svg><svg class="z" style="left:302.60px;top:280.90px" width="12" height="16" viewBox="0 0 12 16"><ellipse cx="6" cy="8" rx="3.0" ry="4.85" fill="none" stroke="#505050" stroke-opacity=".76" stroke-width="2.3"/></svg><span class="n" style="left:314.30px;top:277.90px">,</span><svg class="z" style="left:325.40px;top:280.90px" width="12" height="16" viewBox="0 0 12 16"><ellipse cx="6" cy="8" rx="3.0" ry="4.85" fill="none" stroke="#505050" stroke-opacity=".76" stroke-width="2.3"/></svg><svg class="z" style="left:502.60px;top:280.90px" width="12" height="16" viewBox="0 0 12 16"><ellipse cx="6" cy="8" rx="3.0" ry="4.85" fill="none" stroke="#505050" stroke-opacity=".76" stroke-width="2.3"/></svg><span class="n" style="left:514.30px;top:277.90px">,</span><span class="n" style="left:525.70px;top:277.90px">5</span></div>
<div class="logo">datacolor</div><div class="ul"></div><div class="red"></div>
<div class="title">DeltaE zum nächsten</div>
<div class="bar"><i style="left:0px"></i><i style="left:30px"></i><i style="left:60px"></i><i style="left:90px"></i><i style="left:120px"></i><i style="left:150px"></i><i style="left:180px"></i><i style="left:210px"></i><i style="left:240px"></i><i style="left:270px"></i><i style="left:300px"></i><i style="left:330px"></i><i style="left:360px"></i><i style="left:390px"></i><i style="left:420px"></i><i style="left:450px"></i><i style="left:480px"></i><i style="left:510px"></i><i style="left:540px"></i><i style="left:570px"></i><i style="left:600px"></i></div>
<div class="lab"><b style="left:-15px">0.0</b><b style="left:15px">0.5</b><b style="left:45px">1.0</b><b style="left:75px">1.5</b><b style="left:105px">2.0</b><b style="left:135px">2.5</b><b style="left:165px">3.0</b><b style="left:195px">3.5</b><b style="left:225px">4.0</b><b style="left:255px">4.5</b><b style="left:285px">5.0</b><b style="left:315px">5.5</b><b style="left:345px">6.0</b><b style="left:375px">6.5</b><b style="left:405px">7.0</b><b style="left:435px">7.5</b><b style="left:465px">8.0</b><b style="left:495px">8.5</b><b style="left:525px">9.0</b><b style="left:555px">9.5</b><b style="left:585px">10.0</b></div>
</body></html>
